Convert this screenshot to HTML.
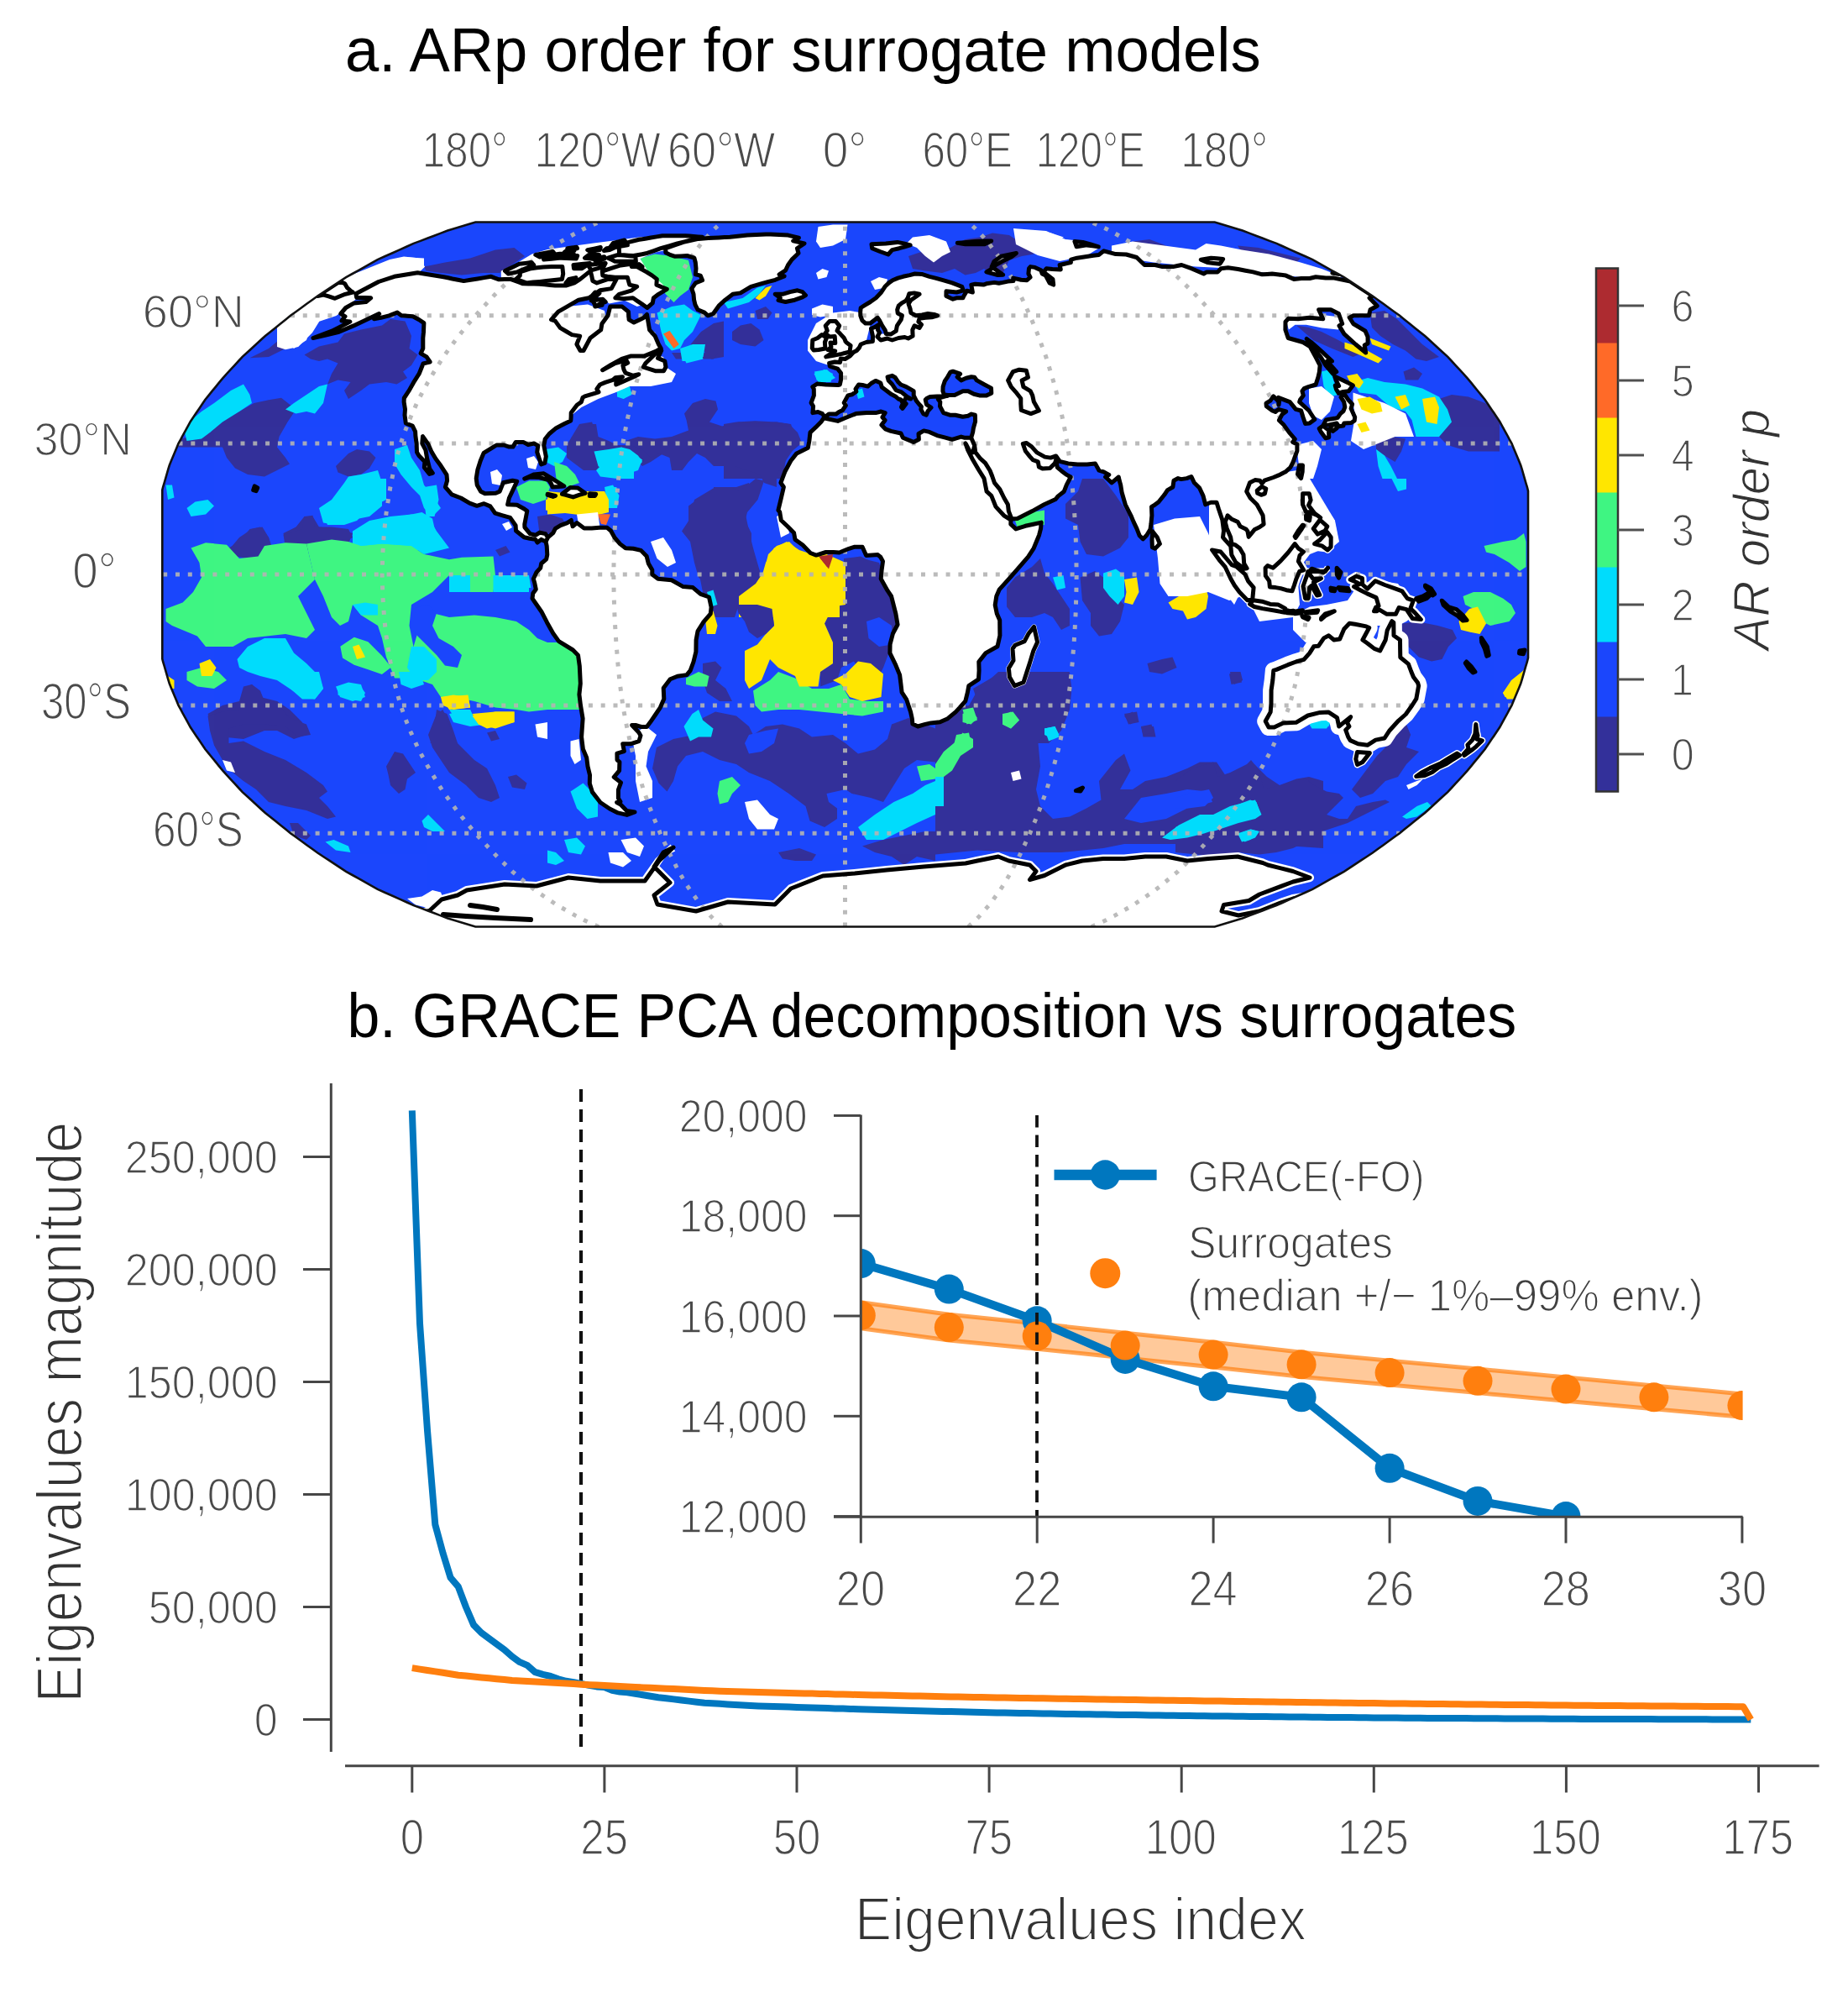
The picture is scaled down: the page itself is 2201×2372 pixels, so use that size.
<!DOCTYPE html>
<html><head><meta charset="utf-8"><style>
html,body{margin:0;padding:0;background:#fff;}
svg{display:block;}
text{font-family:'Liberation Sans',Arial,sans-serif;}
</style></head><body>
<svg width="2201" height="2372" viewBox="0 0 2201 2372">
<rect width="2201" height="2372" fill="#fff"/>
<defs><clipPath id="mapclip"><path d="M559.7,266.5 L553.1,268.5 L546.5,270.5 L539.9,272.5 L533.2,274.5 L525.1,277.6 L517.0,280.7 L508.9,283.8 L500.8,286.9 L492.6,289.9 L484.1,293.8 L475.5,297.6 L466.9,301.5 L458.3,305.3 L449.7,309.1 L442.2,313.4 L434.7,317.6 L427.2,321.8 L419.7,326.0 L412.2,330.2 L405.4,334.6 L398.6,339.1 L391.8,343.6 L385.0,348.0 L378.2,352.5 L371.7,357.2 L365.3,361.8 L358.9,366.5 L352.4,371.2 L346.0,375.8 L340.0,380.7 L334.0,385.5 L327.9,390.4 L321.9,395.2 L315.9,400.1 L310.4,405.0 L305.0,410.0 L299.6,415.0 L294.1,420.0 L288.7,424.9 L284.0,430.0 L279.3,435.1 L274.6,440.2 L270.0,445.2 L265.3,450.3 L261.1,455.4 L256.9,460.6 L252.7,465.7 L248.5,470.9 L244.3,476.0 L240.8,481.2 L237.3,486.4 L233.8,491.6 L230.3,496.8 L226.8,501.9 L224.0,507.1 L221.1,512.3 L218.2,517.5 L215.4,522.8 L212.5,528.0 L210.4,533.2 L208.2,538.4 L206.1,543.6 L203.9,548.8 L201.8,554.0 L200.2,559.2 L198.7,564.4 L197.2,569.6 L195.7,574.8 L194.1,580.0 L193.3,583.4 L193.3,784.6 L194.1,788.0 L195.7,793.2 L197.2,798.4 L198.7,803.6 L200.2,808.8 L201.8,814.0 L203.9,819.2 L206.1,824.4 L208.2,829.6 L210.4,834.8 L212.5,840.0 L215.4,845.2 L218.2,850.5 L221.1,855.7 L224.0,860.9 L226.8,866.1 L230.3,871.2 L233.8,876.4 L237.3,881.6 L240.8,886.8 L244.3,892.0 L248.5,897.1 L252.7,902.3 L256.9,907.4 L261.1,912.6 L265.3,917.7 L270.0,922.8 L274.6,927.8 L279.3,932.9 L284.0,938.0 L288.7,943.1 L294.1,948.0 L299.6,953.0 L305.0,958.0 L310.4,963.0 L315.9,967.9 L321.9,972.8 L327.9,977.6 L334.0,982.5 L340.0,987.3 L346.0,992.2 L352.4,996.8 L358.9,1001.5 L365.3,1006.2 L371.7,1010.8 L378.2,1015.5 L385.0,1020.0 L391.8,1024.4 L398.6,1028.9 L405.4,1033.4 L412.2,1037.8 L419.7,1042.0 L427.2,1046.2 L434.7,1050.4 L442.2,1054.6 L449.7,1058.9 L458.3,1062.7 L466.9,1066.5 L475.5,1070.4 L484.1,1074.2 L492.6,1078.1 L500.8,1081.1 L508.9,1084.2 L517.0,1087.3 L525.1,1090.4 L533.2,1093.5 L539.9,1095.5 L546.5,1097.5 L553.1,1099.5 L559.7,1101.5 L566.3,1103.5 L1446.7,1103.5 L1453.3,1101.5 L1459.9,1099.5 L1466.5,1097.5 L1473.1,1095.5 L1479.8,1093.5 L1487.9,1090.4 L1496.0,1087.3 L1504.1,1084.2 L1512.2,1081.1 L1520.4,1078.1 L1528.9,1074.2 L1537.5,1070.4 L1546.1,1066.5 L1554.7,1062.7 L1563.3,1058.9 L1570.8,1054.6 L1578.3,1050.4 L1585.8,1046.2 L1593.3,1042.0 L1600.8,1037.8 L1607.6,1033.4 L1614.4,1028.9 L1621.2,1024.4 L1628.0,1020.0 L1634.8,1015.5 L1641.3,1010.8 L1647.7,1006.2 L1654.1,1001.5 L1660.6,996.8 L1667.0,992.2 L1673.0,987.3 L1679.0,982.5 L1685.1,977.6 L1691.1,972.8 L1697.1,967.9 L1702.6,963.0 L1708.0,958.0 L1713.4,953.0 L1718.9,948.0 L1724.3,943.1 L1729.0,938.0 L1733.7,932.9 L1738.4,927.8 L1743.0,922.8 L1747.7,917.7 L1751.9,912.6 L1756.1,907.4 L1760.3,902.3 L1764.5,897.1 L1768.7,892.0 L1772.2,886.8 L1775.7,881.6 L1779.2,876.4 L1782.7,871.2 L1786.2,866.1 L1789.0,860.9 L1791.9,855.7 L1794.8,850.5 L1797.6,845.2 L1800.5,840.0 L1802.6,834.8 L1804.8,829.6 L1806.9,824.4 L1809.1,819.2 L1811.2,814.0 L1812.8,808.8 L1814.3,803.6 L1815.8,798.4 L1817.3,793.2 L1818.9,788.0 L1820.0,783.4 L1820.0,584.6 L1818.9,580.0 L1817.3,574.8 L1815.8,569.6 L1814.3,564.4 L1812.8,559.2 L1811.2,554.0 L1809.1,548.8 L1806.9,543.6 L1804.8,538.4 L1802.6,533.2 L1800.5,528.0 L1797.6,522.8 L1794.8,517.5 L1791.9,512.3 L1789.0,507.1 L1786.2,501.9 L1782.7,496.8 L1779.2,491.6 L1775.7,486.4 L1772.2,481.2 L1768.7,476.0 L1764.5,470.9 L1760.3,465.7 L1756.1,460.6 L1751.9,455.4 L1747.7,450.3 L1743.0,445.2 L1738.4,440.2 L1733.7,435.1 L1729.0,430.0 L1724.3,424.9 L1718.9,420.0 L1713.4,415.0 L1708.0,410.0 L1702.6,405.0 L1697.1,400.1 L1691.1,395.2 L1685.1,390.4 L1679.0,385.5 L1673.0,380.7 L1667.0,375.8 L1660.6,371.2 L1654.1,366.5 L1647.7,361.8 L1641.3,357.2 L1634.8,352.5 L1628.0,348.0 L1621.2,343.6 L1614.4,339.1 L1607.6,334.6 L1600.8,330.2 L1593.3,326.0 L1585.8,321.8 L1578.3,317.6 L1570.8,313.4 L1563.3,309.1 L1554.7,305.3 L1546.1,301.5 L1537.5,297.6 L1528.9,293.8 L1520.4,289.9 L1512.2,286.9 L1504.1,283.8 L1496.0,280.7 L1487.9,277.6 L1479.8,274.5 L1473.1,272.5 L1466.5,270.5 L1459.9,268.5 L1453.3,266.5 L1446.7,264.5 L566.3,264.5 L559.7,266.5Z"/></clipPath></defs>
<g clip-path="url(#mapclip)">
<rect x="150" y="250" width="1700" height="870" fill="#1b46fc"/>
<path d="M362.5,422.5 L380.0,412.5 L402.5,407.5 L410.0,397.5 L430.0,392.5 L455.0,387.5 L465.0,380.0 L482.5,382.5 L490.0,400.0 L487.5,415.0 L497.5,422.5 L490.0,435.0 L480.0,442.5 L485.0,450.0 L472.5,457.5 L460.0,455.0 L440.0,457.5 L430.0,465.0 L415.0,475.0 L410.0,465.0 L417.5,455.0 L402.5,452.5 L390.0,457.5 L395.0,445.0 L402.5,432.5 L390.0,427.5 L380.0,430.0 L370.0,427.5Z" fill="#33309a"/>
<path d="M297.5,426.2 L320.0,415.0 L335.0,402.5 L345.0,395.0 L352.5,405.0 L340.0,415.0 L320.0,425.0Z" fill="#33309a"/>
<path d="M250.0,515.0 L265.0,500.0 L285.0,490.0 L302.5,480.0 L320.0,476.2 L335.0,473.8 L352.5,487.5 L342.5,502.5 L332.5,520.0 L330.0,532.5 L340.0,545.0 L345.0,552.5 L330.0,560.0 L315.0,567.5 L295.0,565.0 L280.0,557.5 L270.0,545.0 L265.0,532.5 L247.5,532.5 L212.5,532.5 L215.0,522.5 L232.5,518.8Z" fill="#33309a"/>
<path d="M400.0,555.0 L415.0,540.0 L425.0,535.0 L440.0,537.5 L447.5,545.0 L440.0,557.5 L430.0,565.0 L415.0,567.5 L402.5,562.5Z" fill="#33309a"/>
<path d="M337.5,635.0 L352.5,627.5 L362.5,615.0 L372.5,615.0 L380.0,627.5 L402.5,630.0 L420.0,635.0 L415.0,647.5 L390.0,655.0 L340.0,655.0Z" fill="#33309a"/>
<path d="M272.5,655.0 L285.0,640.0 L300.0,630.0 L312.5,627.5 L320.0,640.0 L325.0,655.0Z" fill="#33309a"/>
<path d="M505.0,317.5 L530.0,312.5 L560.0,307.5 L590.0,297.5 L612.5,295.0 L625.0,305.0 L595.0,325.0 L575.0,325.0 L550.0,327.5 L525.0,325.0 L507.5,322.5Z" fill="#33309a"/>
<path d="M822.5,410.0 L835.0,395.0 L850.0,385.0 L862.0,382.5 L862.0,425.0 L847.5,427.5 L837.5,417.5Z" fill="#33309a"/>
<path d="M680.0,522.5 L690.0,510.0 L700.0,505.0 L710.0,505.0 L712.5,520.0 L725.0,525.0 L735.0,530.0 L755.0,530.0 L770.0,525.0 L790.0,525.0 L790.0,540.0 L775.0,550.0 L765.0,555.0 L755.0,545.0 L740.0,555.0 L725.0,550.0 L710.0,540.0 L690.0,540.0Z" fill="#33309a"/>
<path d="M1082.0,305.0 L1097.0,300.0 L1112.0,297.5 L1132.0,295.0 L1149.5,285.0 L1167.0,282.5 L1182.0,277.5 L1202.0,280.0 L1217.0,290.0 L1232.0,302.5 L1217.0,305.0 L1202.0,310.0 L1194.5,325.0 L1182.0,327.5 L1172.0,320.0 L1162.0,325.0 L1149.5,327.5 L1137.0,320.0 L1122.0,325.0 L1102.0,322.5 L1087.0,320.0Z" fill="#33309a"/>
<path d="M872.0,395.0 L882.0,387.5 L894.5,385.0 L904.5,392.5 L909.5,405.0 L899.5,412.5 L882.0,410.0 L872.0,405.0Z" fill="#33309a"/>
<path d="M899.5,370.0 L912.0,365.0 L919.5,372.5 L914.5,380.0 L902.0,380.0Z" fill="#33309a"/>
<path d="M862.0,505.0 L877.0,502.5 L899.5,501.2 L924.5,502.5 L942.0,505.0 L947.0,520.0 L952.0,530.0 L937.0,542.5 L932.0,570.0 L862.0,570.0Z" fill="#33309a"/>
<path d="M1349.0,287.5 L1369.0,285.0 L1389.0,292.5 L1374.0,302.5 L1354.0,297.5Z" fill="#33309a"/>
<path d="M1474.0,292.5 L1499.0,295.0 L1549.0,307.5 L1544.0,312.5 L1511.5,305.0 L1479.0,300.0Z" fill="#33309a"/>
<path d="M1544.0,387.5 L1559.0,390.0 L1574.0,395.0 L1594.0,405.0 L1611.5,415.0 L1624.0,420.0 L1611.5,425.0 L1586.5,415.0 L1564.0,405.0Z" fill="#33309a"/>
<path d="M1631.5,372.5 L1649.0,370.0 L1664.0,380.0 L1679.0,395.0 L1694.0,410.0 L1714.0,425.0 L1699.0,430.0 L1686.5,427.5 L1674.0,417.5 L1659.0,410.0 L1644.0,400.0 L1634.0,390.0Z" fill="#33309a"/>
<path d="M1714.0,475.0 L1729.0,470.0 L1749.0,472.5 L1769.0,480.0 L1786.0,495.0 L1786.0,537.5 L1749.0,537.5 L1724.0,530.0 L1714.0,520.0 L1724.0,505.0 L1719.0,487.5Z" fill="#33309a"/>
<path d="M1671.5,442.5 L1684.0,437.5 L1694.0,445.0 L1689.0,452.5 L1674.0,452.5Z" fill="#33309a"/>
<path d="M1639.0,525.0 L1659.0,520.0 L1674.0,522.5 L1669.0,537.5 L1661.5,550.0 L1649.0,542.5 L1639.0,535.0Z" fill="#33309a"/>
<path d="M272.5,652.5 L285.0,645.0 L297.5,630.0 L310.0,627.5 L320.0,640.0 L325.0,660.0 L310.0,662.5 L295.0,665.0 L280.0,662.5Z" fill="#33309a"/>
<path d="M337.5,637.5 L360.0,630.0 L362.5,615.0 L372.5,613.8 L375.0,627.5 L395.0,627.5 L415.0,630.0 L420.0,640.0 L410.0,645.0 L390.0,642.5 L365.0,645.0 L340.0,645.0Z" fill="#33309a"/>
<path d="M590.0,655.0 L602.5,650.0 L607.5,657.5 L595.0,662.5Z" fill="#33309a"/>
<path d="M247.5,850.0 L265.0,840.0 L285.0,835.0 L290.0,817.5 L300.0,815.0 L310.0,830.0 L330.0,835.0 L345.0,845.0 L360.0,860.0 L365.0,875.0 L350.0,880.0 L330.0,870.0 L315.0,870.0 L290.0,880.0 L265.0,877.5 L252.5,865.0Z" fill="#33309a"/>
<path d="M512.5,885.0 L517.5,865.0 L520.0,845.0 L532.5,850.0 L540.0,870.0 L545.0,885.0Z" fill="#33309a"/>
<path d="M812.0,632.5 L822.0,617.5 L827.0,595.0 L852.0,580.0 L877.0,580.0 L892.0,575.0 L897.0,595.0 L887.0,607.5 L892.0,632.5 L897.0,652.5 L902.0,670.0 L907.0,687.5 L897.0,700.0 L887.0,710.0 L877.0,725.0 L867.0,710.0 L847.0,700.0 L832.0,687.5 L827.0,670.0 L822.0,645.0Z" fill="#33309a"/>
<path d="M1007.0,670.0 L1027.0,665.0 L1047.0,670.0 L1052.0,687.5 L1062.0,710.0 L1067.0,745.0 L1059.5,775.0 L1052.0,795.0 L1047.0,805.0 L1022.0,795.0 L1017.0,787.5 L1002.0,795.0 L997.0,810.0 L977.0,817.5 L977.0,800.0 L992.0,790.0 L992.0,765.0 L982.0,742.5 L992.0,722.5 L1007.0,720.0Z" fill="#33309a"/>
<path d="M837.0,790.0 L852.0,787.5 L859.5,795.0 L852.0,810.0 L864.5,820.0 L872.0,835.0 L857.0,835.0 L842.0,825.0 L837.0,810.0Z" fill="#33309a"/>
<path d="M1269.0,600.0 L1284.0,585.0 L1289.0,570.0 L1314.0,570.0 L1329.0,590.0 L1344.0,612.5 L1344.0,640.0 L1334.0,652.5 L1314.0,662.5 L1294.0,660.0 L1286.5,645.0 L1284.0,625.0 L1269.0,617.5Z" fill="#33309a"/>
<path d="M1199.0,700.0 L1209.0,687.5 L1229.0,675.0 L1239.0,665.0 L1244.0,682.5 L1254.0,695.0 L1264.0,710.0 L1274.0,725.0 L1274.0,745.0 L1264.0,750.0 L1254.0,735.0 L1244.0,730.0 L1229.0,735.0 L1209.0,735.0 L1199.0,722.5Z" fill="#33309a"/>
<path d="M1286.5,687.5 L1304.0,680.0 L1314.0,687.5 L1324.0,705.0 L1339.0,720.0 L1334.0,740.0 L1324.0,755.0 L1309.0,757.5 L1299.0,745.0 L1299.0,730.0 L1289.0,715.0Z" fill="#33309a"/>
<path d="M1159.0,820.0 L1189.0,802.5 L1214.0,802.5 L1229.0,810.0 L1249.0,805.0 L1274.0,802.5 L1276.5,820.0 L1274.0,845.0 L1264.0,870.0 L1249.0,885.0 L1139.0,885.0 L1144.0,865.0 L1154.0,845.0 L1164.0,835.0Z" fill="#33309a"/>
<path d="M1366.5,790.0 L1384.0,785.0 L1396.5,782.5 L1401.5,795.0 L1384.0,802.5 L1369.0,800.0Z" fill="#33309a"/>
<path d="M1464.0,802.5 L1476.5,800.0 L1479.0,812.5 L1466.5,815.0Z" fill="#33309a"/>
<path d="M1339.0,850.0 L1354.0,847.5 L1356.5,860.0 L1344.0,862.5Z" fill="#33309a"/>
<path d="M1359.0,865.0 L1374.0,865.0 L1376.5,877.5 L1361.5,877.5Z" fill="#33309a"/>
<path d="M1670.0,742.5 L1687.5,740.0 L1712.5,745.0 L1730.0,750.0 L1735.0,760.0 L1725.0,770.0 L1717.5,785.0 L1705.0,787.5 L1690.0,782.5 L1677.5,770.0 L1670.0,755.0Z" fill="#33309a"/>
<path d="M1465.0,805.0 L1475.0,800.0 L1480.0,810.0 L1470.0,815.0Z" fill="#33309a"/>
<path d="M1662.5,870.0 L1675.0,862.5 L1680.0,875.0 L1670.0,885.0 L1660.0,885.0Z" fill="#33309a"/>
<path d="M247.5,852.5 L265.0,847.5 L285.0,845.0 L290.0,820.0 L300.0,815.0 L310.0,822.5 L315.0,835.0 L330.0,837.5 L345.0,855.0 L365.0,862.5 L370.0,875.0 L355.0,877.5 L340.0,865.0 L315.0,862.5 L290.0,862.5 L272.5,867.5 L272.5,885.0 L290.0,882.5 L315.0,895.0 L340.0,905.0 L365.0,920.0 L385.0,935.0 L390.0,942.5 L380.0,950.0 L390.0,960.0 L400.0,972.5 L390.0,975.0 L365.0,965.0 L340.0,960.0 L320.0,955.0 L305.0,940.0 L290.0,930.0 L277.5,920.0 L265.0,905.0 L255.0,887.5 L250.0,870.0Z" fill="#33309a"/>
<path d="M460.0,912.5 L470.0,895.0 L480.0,897.5 L490.0,912.5 L495.0,920.0 L485.0,927.5 L482.5,940.0 L475.0,945.0 L465.0,935.0 L462.5,922.5Z" fill="#33309a"/>
<path d="M510.0,875.0 L520.0,850.0 L527.5,845.0 L535.0,862.5 L540.0,880.0 L555.0,895.0 L565.0,905.0 L580.0,915.0 L590.0,935.0 L595.0,950.0 L585.0,955.0 L570.0,950.0 L555.0,935.0 L535.0,920.0 L525.0,905.0 L515.0,890.0Z" fill="#33309a"/>
<path d="M605.0,925.0 L615.0,922.5 L627.5,932.5 L625.0,940.0 L610.0,937.5Z" fill="#33309a"/>
<path d="M580.0,872.5 L590.0,870.0 L595.0,880.0 L585.0,882.5Z" fill="#33309a"/>
<path d="M345.0,980.0 L355.0,980.0 L370.0,995.0 L365.0,1000.0 L350.0,995.0Z" fill="#33309a"/>
<path d="M782.0,890.0 L802.0,880.0 L827.0,875.0 L837.0,855.0 L852.0,847.5 L877.0,852.5 L892.0,865.0 L897.0,875.0 L912.0,865.0 L932.0,862.5 L952.0,867.5 L967.0,877.5 L992.0,875.0 L1007.0,885.0 L1022.0,897.5 L1042.0,892.5 L1057.0,880.0 L1062.0,862.5 L1082.0,855.0 L1102.0,862.5 L1114.0,867.5 L1114.0,907.5 L1092.0,905.0 L1077.0,915.0 L1064.5,935.0 L1052.0,955.0 L1037.0,950.0 L1014.5,945.0 L997.0,950.0 L997.0,975.0 L982.0,985.0 L964.5,977.5 L959.5,960.0 L939.5,945.0 L917.0,930.0 L892.0,920.0 L877.0,910.0 L857.0,905.0 L837.0,895.0 L817.0,900.0 L807.0,912.5 L802.0,930.0 L794.5,942.5 L784.5,932.5 L777.0,915.0Z" fill="#33309a"/>
<path d="M1027.0,1007.5 L1052.0,1000.0 L1077.0,995.0 L1102.0,990.0 L1114.0,990.0 L1114.0,1025.0 L1092.0,1020.0 L1077.0,1030.0 L1062.0,1020.0 L1042.0,1015.0Z" fill="#33309a"/>
<path d="M927.0,1015.0 L952.0,1010.0 L972.0,1017.5 L967.0,1025.0 L947.0,1025.0 L932.0,1022.5Z" fill="#33309a"/>
<path d="M1114.0,845.0 L1154.0,840.0 L1164.0,822.5 L1189.0,800.0 L1274.0,800.0 L1274.0,842.5 L1264.0,865.0 L1244.0,872.5 L1236.5,885.0 L1239.0,912.5 L1234.0,940.0 L1239.0,960.0 L1254.0,975.0 L1274.0,972.5 L1294.0,962.5 L1311.5,952.5 L1309.0,930.0 L1329.0,905.0 L1339.0,897.5 L1346.5,917.5 L1334.0,940.0 L1349.0,940.0 L1364.0,930.0 L1389.0,925.0 L1414.0,915.0 L1429.0,907.5 L1449.0,907.5 L1459.0,922.5 L1479.0,917.5 L1494.0,910.0 L1509.0,925.0 L1524.0,935.0 L1544.0,927.5 L1559.0,925.0 L1576.0,930.0 L1576.0,1010.0 L1539.0,1007.5 L1489.0,1005.0 L1439.0,1005.0 L1389.0,1005.0 L1339.0,1005.0 L1314.0,1010.0 L1264.0,1015.0 L1214.0,1015.0 L1164.0,1012.5 L1114.0,1017.5Z" fill="#33309a"/>
<path d="M1339.0,852.5 L1349.0,847.5 L1354.0,857.5 L1346.5,862.5Z" fill="#33309a"/>
<path d="M1359.0,865.0 L1371.5,862.5 L1374.0,872.5 L1361.5,875.0Z" fill="#33309a"/>
<path d="M1466.5,802.5 L1476.5,800.0 L1479.0,810.0 L1469.0,812.5Z" fill="#33309a"/>
<path d="M1610.0,940.0 L1625.0,920.0 L1640.0,900.0 L1660.0,880.0 L1675.0,865.0 L1680.0,875.0 L1675.0,890.0 L1690.0,895.0 L1675.0,910.0 L1665.0,925.0 L1650.0,930.0 L1635.0,945.0 L1620.0,950.0Z" fill="#33309a"/>
<path d="M1400.0,930.0 L1420.0,915.0 L1445.0,907.5 L1450.0,925.0 L1465.0,920.0 L1485.0,910.0 L1490.0,905.0 L1500.0,917.5 L1505.0,940.0 L1525.0,935.0 L1540.0,930.0 L1555.0,927.5 L1565.0,935.0 L1580.0,942.5 L1595.0,945.0 L1600.0,950.0 L1590.0,960.0 L1580.0,970.0 L1595.0,975.0 L1605.0,975.0 L1615.0,960.0 L1635.0,955.0 L1650.0,952.5 L1655.0,955.0 L1625.0,970.0 L1605.0,980.0 L1590.0,985.0 L1575.0,990.0 L1560.0,1000.0 L1540.0,1010.0 L1520.0,1015.0 L1500.0,1017.5 L1475.0,1015.0 L1450.0,1020.0 L1425.0,1017.5 L1400.0,1015.0Z" fill="#33309a"/>
<path d="M1465.0,800.0 L1477.5,800.0 L1480.0,810.0 L1467.5,812.5Z" fill="#33309a"/>
<path d="M815.0,492.5 L825.0,480.0 L840.0,475.0 L852.5,477.5 L855.0,487.5 L845.0,502.5 L860.0,507.5 L880.0,502.5 L900.0,505.0 L925.0,502.5 L940.0,505.0 L950.0,515.0 L955.0,527.5 L945.0,535.0 L935.0,550.0 L925.0,565.0 L925.0,580.0 L910.0,575.0 L905.0,565.0 L890.0,560.0 L875.0,555.0 L850.0,555.0 L840.0,545.0 L830.0,540.0 L820.0,550.0 L812.5,560.0 L800.0,560.0 L797.5,545.0 L785.0,540.0 L775.0,545.0 L765.0,535.0 L750.0,530.0 L745.0,525.0 L760.0,520.0 L780.0,522.5 L800.0,520.0 L820.0,512.5 L817.5,500.0Z" fill="#33309a"/>
<path d="M820.0,602.5 L830.0,595.0 L850.0,585.0 L850.0,580.0 L870.0,580.0 L880.0,585.0 L887.5,580.0 L900.0,570.0 L910.0,572.5 L902.5,595.0 L890.0,610.0 L887.5,620.0 L895.0,635.0 L895.0,660.0 L905.0,680.0 L900.0,695.0 L890.0,707.5 L880.0,720.0 L875.0,735.0 L850.0,735.0 L840.0,720.0 L835.0,695.0 L830.0,670.0 L825.0,645.0 L817.5,635.0 L820.0,620.0Z" fill="#33309a"/>
<path d="M675.0,530.0 L690.0,505.0 L705.0,502.5 L710.0,515.0 L710.0,530.0 L725.0,540.0 L740.0,540.0 L740.0,550.0 L725.0,555.0 L710.0,560.0 L695.0,560.0 L685.0,552.5 L675.0,545.0Z" fill="#33309a"/>
<path d="M640.0,615.0 L655.0,612.5 L670.0,617.5 L675.0,627.5 L660.0,635.0 L642.5,635.0Z" fill="#33309a"/>
<path d="M1005.0,665.0 L1025.0,662.5 L1040.0,670.0 L1050.0,690.0 L1062.0,707.5 L1062.0,735.0 L1010.0,735.0 L1005.0,707.5Z" fill="#33309a"/>
<path d="M800.0,420.0 L855.0,420.0 L850.0,427.5 L805.0,427.5Z" fill="#33309a"/>
<path d="M1032.0,740.0 L1047.0,735.0 L1062.0,745.0 L1062.0,767.5 L1047.0,770.0 L1034.5,760.0Z" fill="#1b46fc"/>
<path d="M892.0,875.0 L912.0,870.0 L927.0,867.5 L922.0,885.0 L907.0,895.0 L892.0,897.5 L887.0,885.0Z" fill="#1b46fc"/>
<path d="M984.5,945.0 L1007.0,940.0 L1022.0,950.0 L1012.0,960.0 L997.0,962.5 L987.0,955.0Z" fill="#1b46fc"/>
<path d="M1339.0,975.0 L1359.0,950.0 L1389.0,945.0 L1414.0,940.0 L1439.0,942.5 L1444.0,955.0 L1414.0,962.5 L1389.0,975.0 L1359.0,980.0Z" fill="#1b46fc"/>
<path d="M1400.0,950.0 L1415.0,945.0 L1440.0,940.0 L1445.0,950.0 L1435.0,960.0 L1415.0,962.5 L1400.0,962.5Z" fill="#1b46fc"/>
<path d="M225.0,502.5 L240.0,490.0 L255.0,480.0 L275.0,465.0 L290.0,457.5 L297.5,470.0 L300.0,480.0 L285.0,490.0 L265.0,502.5 L250.0,515.0 L240.0,522.5 L222.5,525.0 L220.0,515.0Z" fill="#00dcfc"/>
<path d="M340.0,487.5 L350.0,480.0 L365.0,470.0 L380.0,460.0 L390.0,457.5 L385.0,480.0 L375.0,492.5 L365.0,490.0 L352.5,492.5Z" fill="#00dcfc"/>
<path d="M380.0,605.0 L395.0,595.0 L410.0,575.0 L415.0,567.5 L430.0,565.0 L450.0,560.0 L455.0,575.0 L455.0,602.5 L440.0,615.0 L415.0,620.0 L400.0,625.0 L385.0,622.5Z" fill="#00dcfc"/>
<path d="M470.0,535.0 L485.0,530.0 L490.0,545.0 L500.0,560.0 L505.0,577.5 L515.0,590.0 L525.0,605.0 L515.0,615.0 L505.0,605.0 L500.0,590.0 L490.0,580.0 L477.5,565.0 L470.0,552.5Z" fill="#00dcfc"/>
<path d="M420.0,635.0 L440.0,625.0 L455.0,617.5 L477.5,615.0 L502.5,610.0 L515.0,617.5 L520.0,640.0 L520.0,655.0 L420.0,655.0Z" fill="#00dcfc"/>
<path d="M222.5,605.0 L232.5,597.5 L247.5,595.0 L255.0,602.5 L245.0,612.5 L227.5,615.0Z" fill="#00dcfc"/>
<path d="M197.5,577.5 L205.0,577.5 L207.5,592.5 L200.0,595.0Z" fill="#00dcfc"/>
<path d="M762.5,307.5 L780.0,302.5 L800.0,305.0 L820.0,310.0 L825.0,330.0 L820.0,345.0 L810.0,352.5 L802.5,360.0 L792.5,350.0 L785.0,337.5 L770.0,325.0Z" fill="#3ff582"/>
<path d="M782.5,372.5 L800.0,365.0 L815.0,362.5 L825.0,370.0 L835.0,375.0 L825.0,395.0 L815.0,405.0 L810.0,415.0 L800.0,417.5 L792.5,410.0 L787.5,395.0Z" fill="#00dcfc"/>
<path d="M810.0,415.0 L825.0,410.0 L840.0,410.0 L837.5,425.0 L822.5,430.0 L812.5,430.0Z" fill="#00dcfc"/>
<path d="M707.5,537.5 L725.0,535.0 L740.0,532.5 L755.0,540.0 L765.0,547.5 L760.0,560.0 L745.0,565.0 L725.0,565.0 L712.5,555.0Z" fill="#00dcfc"/>
<path d="M732.5,465.0 L745.0,460.0 L752.5,467.5 L742.5,475.0Z" fill="#00dcfc"/>
<path d="M862.0,360.0 L884.5,355.0 L902.0,342.5 L912.0,340.0 L904.5,350.0 L892.0,360.0 L867.0,367.5Z" fill="#00dcfc"/>
<path d="M969.5,445.0 L982.0,440.0 L992.0,445.0 L989.5,455.0 L974.5,455.0Z" fill="#00dcfc"/>
<path d="M1132.0,452.5 L1139.5,450.0 L1147.0,460.0 L1137.0,462.5Z" fill="#00dcfc"/>
<path d="M1019.5,465.0 L1027.0,462.5 L1029.5,472.5 L1022.0,475.0Z" fill="#00dcfc"/>
<path d="M1574.0,442.5 L1584.0,440.0 L1589.0,455.0 L1594.0,470.0 L1584.0,472.5 L1576.5,460.0Z" fill="#00dcfc"/>
<path d="M1611.5,455.0 L1629.0,450.0 L1649.0,455.0 L1674.0,457.5 L1694.0,462.5 L1714.0,472.5 L1724.0,487.5 L1729.0,502.5 L1714.0,520.0 L1686.5,520.0 L1681.5,500.0 L1674.0,490.0 L1656.5,485.0 L1639.0,470.0 L1619.0,467.5Z" fill="#00dcfc"/>
<path d="M1639.0,535.0 L1649.0,542.5 L1656.5,555.0 L1664.0,570.0 L1646.5,570.0 L1641.5,555.0Z" fill="#00dcfc"/>
<path d="M197.5,725.0 L217.5,717.5 L230.0,705.0 L240.0,687.5 L237.5,670.0 L227.5,652.5 L245.0,646.2 L270.0,648.8 L285.0,665.0 L307.5,662.5 L315.0,650.0 L340.0,646.2 L365.0,647.5 L375.0,690.0 L365.0,700.0 L355.0,710.0 L365.0,730.0 L375.0,750.0 L365.0,760.0 L340.0,755.0 L295.0,760.0 L277.5,770.0 L245.0,770.0 L235.0,757.5 L205.0,745.0 L197.5,740.0Z" fill="#3ff582"/>
<path d="M365.0,647.5 L395.0,642.5 L415.0,645.0 L430.0,650.0 L455.0,647.5 L490.0,650.0 L505.0,660.0 L535.0,666.2 L535.0,685.0 L515.0,705.0 L490.0,720.0 L487.5,745.0 L492.5,770.0 L490.0,807.5 L470.0,807.5 L460.0,782.5 L455.0,760.0 L450.0,745.0 L430.0,732.5 L420.0,720.0 L415.0,740.0 L405.0,745.0 L395.0,735.0 L385.0,710.0 L375.0,690.0Z" fill="#3ff582"/>
<path d="M420.0,720.0 L435.0,717.5 L450.0,720.0 L450.0,732.5 L430.0,732.5Z" fill="#00dcfc"/>
<path d="M535.0,666.2 L550.0,663.8 L587.5,662.5 L590.0,685.0 L587.5,705.0 L560.0,705.0 L557.5,685.0 L535.0,685.0Z" fill="#3ff582"/>
<path d="M535.0,685.0 L560.0,685.0 L560.0,705.0 L535.0,705.0Z" fill="#00dcfc"/>
<path d="M587.5,685.0 L630.0,685.0 L630.0,705.0 L587.5,705.0Z" fill="#00dcfc"/>
<path d="M515.0,730.0 L535.0,735.0 L565.0,732.5 L590.0,735.0 L615.0,740.0 L630.0,750.0 L640.0,760.0 L652.0,765.0 L690.0,765.0 L690.0,845.0 L652.0,845.0 L630.0,847.5 L615.0,845.0 L590.0,842.5 L565.0,835.0 L540.0,830.0 L525.0,830.0 L515.0,815.0 L500.0,810.0 L490.0,807.5 L492.5,770.0 L500.0,745.0 L515.0,740.0Z" fill="#3ff582"/>
<path d="M490.0,770.0 L505.0,770.0 L520.0,785.0 L520.0,800.0 L510.0,810.0 L495.0,810.0 L485.0,795.0Z" fill="#00dcfc"/>
<path d="M535.0,845.0 L560.0,845.0 L565.0,860.0 L545.0,860.0Z" fill="#00dcfc"/>
<path d="M282.5,785.0 L295.0,770.0 L315.0,760.0 L340.0,760.0 L350.0,777.5 L365.0,790.0 L380.0,805.0 L385.0,820.0 L375.0,832.5 L360.0,830.0 L345.0,820.0 L330.0,810.0 L310.0,805.0 L295.0,800.0 L285.0,795.0Z" fill="#00dcfc"/>
<path d="M400.0,817.5 L415.0,812.5 L430.0,815.0 L435.0,830.0 L420.0,835.0 L405.0,830.0Z" fill="#00dcfc"/>
<path d="M385.0,610.0 L397.5,600.0 L405.0,585.0 L415.0,570.0 L460.0,570.0 L460.0,595.0 L440.0,605.0 L425.0,620.0 L410.0,625.0 L390.0,625.0Z" fill="#00dcfc"/>
<path d="M420.0,632.5 L440.0,620.0 L465.0,615.0 L490.0,612.5 L510.0,615.0 L520.0,632.5 L535.0,652.5 L505.0,660.0 L490.0,650.0 L455.0,647.5 L430.0,650.0 L420.0,645.0Z" fill="#00dcfc"/>
<path d="M505.0,580.0 L520.0,577.5 L522.5,595.0 L517.5,615.0 L507.5,615.0 L505.0,595.0Z" fill="#00dcfc"/>
<path d="M222.5,800.0 L240.0,795.0 L260.0,800.0 L270.0,810.0 L255.0,820.0 L235.0,817.5 L222.5,810.0Z" fill="#3ff582"/>
<path d="M897.0,822.5 L917.0,810.0 L927.0,800.0 L947.0,807.5 L967.0,820.0 L987.0,820.0 L1002.0,815.0 L1012.0,832.5 L1032.0,835.0 L1052.0,835.0 L1052.0,847.5 L1027.0,852.5 L1002.0,850.0 L977.0,847.5 L952.0,845.0 L927.0,845.0 L907.0,847.5 L899.5,840.0Z" fill="#3ff582"/>
<path d="M817.0,807.5 L832.0,800.0 L844.5,805.0 L842.0,817.5 L827.0,817.5 L817.0,815.0Z" fill="#3ff582"/>
<path d="M842.0,705.0 L849.5,702.5 L854.5,720.0 L847.0,722.5Z" fill="#00dcfc"/>
<path d="M722.0,580.0 L734.5,580.0 L732.0,595.0 L724.5,595.0Z" fill="#00dcfc"/>
<path d="M1314.0,682.5 L1329.0,677.5 L1339.0,685.0 L1339.0,710.0 L1331.5,720.0 L1321.5,710.0 L1314.0,700.0Z" fill="#00dcfc"/>
<path d="M1254.0,687.5 L1266.5,685.0 L1269.0,700.0 L1259.0,702.5Z" fill="#00dcfc"/>
<path d="M1209.0,620.0 L1229.0,610.0 L1244.0,607.5 L1244.0,625.0 L1224.0,627.5 L1211.5,627.5Z" fill="#3ff582"/>
<path d="M1146.5,845.0 L1159.0,842.5 L1164.0,857.5 L1151.5,862.5Z" fill="#3ff582"/>
<path d="M1194.0,852.5 L1204.0,847.5 L1214.0,857.5 L1204.0,867.5 L1194.0,862.5Z" fill="#3ff582"/>
<path d="M1139.0,875.0 L1154.0,872.5 L1156.5,885.0 L1136.5,885.0Z" fill="#3ff582"/>
<path d="M1244.0,867.5 L1256.5,865.0 L1261.5,877.5 L1249.0,882.5Z" fill="#00dcfc"/>
<path d="M1549.0,732.5 L1564.0,727.5 L1576.0,735.0 L1576.0,757.5 L1559.0,762.5 L1551.5,750.0Z" fill="#00dcfc"/>
<path d="M1767.5,650.0 L1790.0,645.0 L1805.0,642.5 L1815.0,635.0 L1817.5,645.0 L1817.5,675.0 L1810.0,680.0 L1797.5,670.0 L1780.0,660.0 L1770.0,657.5Z" fill="#3ff582"/>
<path d="M1742.5,710.0 L1755.0,705.0 L1775.0,705.0 L1790.0,712.5 L1800.0,720.0 L1805.0,730.0 L1797.5,740.0 L1775.0,745.0 L1765.0,740.0 L1755.0,725.0 L1745.0,720.0Z" fill="#3ff582"/>
<path d="M1657.5,570.0 L1675.0,570.0 L1675.0,582.5 L1665.0,585.0Z" fill="#00dcfc"/>
<path d="M1555.0,855.0 L1575.0,855.0 L1585.0,860.0 L1580.0,867.5 L1562.5,867.5Z" fill="#00dcfc"/>
<path d="M1555.0,742.5 L1570.0,740.0 L1567.5,757.5 L1560.0,760.0Z" fill="#00dcfc"/>
<path d="M502.5,977.5 L510.0,970.0 L520.0,980.0 L530.0,990.0 L515.0,990.0 L505.0,985.0Z" fill="#00dcfc"/>
<path d="M387.5,1002.5 L397.5,1000.0 L415.0,1007.5 L417.5,1015.0 L400.0,1012.5Z" fill="#00dcfc"/>
<path d="M335.0,800.0 L380.0,800.0 L385.0,820.0 L375.0,832.5 L360.0,832.5 L340.0,815.0Z" fill="#00dcfc"/>
<path d="M402.5,820.0 L415.0,815.0 L427.5,815.0 L435.0,825.0 L430.0,835.0 L415.0,832.5 L402.5,827.5Z" fill="#00dcfc"/>
<path d="M475.0,800.0 L500.0,800.0 L505.0,815.0 L490.0,820.0 L477.5,815.0Z" fill="#00dcfc"/>
<path d="M535.0,850.0 L560.0,845.0 L565.0,855.0 L580.0,862.5 L560.0,865.0 L540.0,860.0Z" fill="#00dcfc"/>
<path d="M814.5,865.0 L824.5,850.0 L832.0,845.0 L837.0,857.5 L849.5,867.5 L847.0,877.5 L832.0,877.5 L822.0,882.5Z" fill="#00dcfc"/>
<path d="M857.0,930.0 L872.0,925.0 L882.0,935.0 L872.0,945.0 L867.0,955.0 L857.0,957.5 L854.5,945.0Z" fill="#3ff582"/>
<path d="M1022.0,985.0 L1042.0,970.0 L1064.5,955.0 L1087.0,945.0 L1102.0,935.0 L1114.0,930.0 L1114.0,970.0 L1092.0,980.0 L1072.0,990.0 L1052.0,1000.0 L1032.0,1000.0Z" fill="#00dcfc"/>
<path d="M1092.0,912.5 L1107.0,910.0 L1114.0,915.0 L1114.0,927.5 L1097.0,930.0Z" fill="#3ff582"/>
<path d="M672.0,1000.0 L687.0,997.5 L697.0,1007.5 L692.0,1017.5 L677.0,1015.0Z" fill="#00dcfc"/>
<path d="M652.0,1012.5 L662.0,1015.0 L672.0,1025.0 L662.0,1030.0 L652.0,1027.5Z" fill="#00dcfc"/>
<path d="M679.5,942.5 L694.5,932.5 L702.0,940.0 L712.0,950.0 L712.0,972.5 L699.5,975.0 L687.0,962.5Z" fill="#00dcfc"/>
<path d="M1114.0,920.0 L1124.0,920.0 L1124.0,960.0 L1114.0,960.0Z" fill="#00dcfc"/>
<path d="M1114.0,910.0 L1124.0,895.0 L1139.0,882.5 L1146.5,872.5 L1159.0,880.0 L1159.0,890.0 L1144.0,900.0 L1134.0,917.5 L1124.0,925.0 L1114.0,925.0Z" fill="#3ff582"/>
<path d="M1146.5,850.0 L1156.5,845.0 L1164.0,855.0 L1156.5,862.5 L1146.5,860.0Z" fill="#3ff582"/>
<path d="M1194.0,850.0 L1206.5,847.5 L1214.0,857.5 L1204.0,867.5 L1194.0,862.5Z" fill="#3ff582"/>
<path d="M1384.0,997.5 L1404.0,982.5 L1429.0,970.0 L1446.5,970.0 L1469.0,960.0 L1489.0,952.5 L1496.5,955.0 L1501.5,970.0 L1489.0,975.0 L1476.5,972.5 L1464.0,980.0 L1449.0,987.5 L1434.0,992.5 L1414.0,997.5 L1394.0,1000.0Z" fill="#00dcfc"/>
<path d="M1474.0,992.5 L1489.0,987.5 L1499.0,990.0 L1489.0,1000.0 L1479.0,1002.5Z" fill="#00dcfc"/>
<path d="M1244.0,867.5 L1256.5,865.0 L1261.5,875.0 L1254.0,880.0 L1244.0,875.0Z" fill="#00dcfc"/>
<path d="M1559.0,857.5 L1576.0,855.0 L1576.0,865.0 L1561.5,865.0Z" fill="#00dcfc"/>
<path d="M1400.0,985.0 L1425.0,975.0 L1445.0,970.0 L1465.0,960.0 L1485.0,955.0 L1495.0,952.5 L1502.5,970.0 L1495.0,975.0 L1475.0,980.0 L1460.0,985.0 L1445.0,990.0 L1425.0,990.0 L1410.0,995.0 L1400.0,997.5Z" fill="#00dcfc"/>
<path d="M1475.0,992.5 L1490.0,987.5 L1500.0,990.0 L1495.0,997.5 L1482.5,1002.5Z" fill="#00dcfc"/>
<path d="M1670.0,972.5 L1687.5,960.0 L1700.0,955.0 L1705.0,960.0 L1687.5,972.5 L1675.0,975.0Z" fill="#00dcfc"/>
<path d="M1560.0,860.0 L1575.0,855.0 L1585.0,857.5 L1582.5,865.0 L1565.0,865.0Z" fill="#00dcfc"/>
<path d="M710.0,560.0 L720.0,550.0 L740.0,540.0 L740.0,532.5 L750.0,535.0 L760.0,542.5 L765.0,550.0 L755.0,560.0 L755.0,570.0 L735.0,570.0 L715.0,567.5Z" fill="#00dcfc"/>
<path d="M650.0,535.0 L665.0,532.5 L675.0,540.0 L670.0,550.0 L660.0,555.0 L650.0,550.0Z" fill="#00dcfc"/>
<path d="M720.0,580.0 L730.0,577.5 L737.5,590.0 L735.0,605.0 L725.0,605.0 L722.5,595.0Z" fill="#00dcfc"/>
<path d="M735.0,462.5 L750.0,460.0 L752.5,470.0 L742.5,475.0 L735.0,472.5Z" fill="#00dcfc"/>
<path d="M812.5,422.5 L835.0,420.0 L837.5,427.5 L817.5,432.5Z" fill="#00dcfc"/>
<path d="M970.0,442.5 L985.0,440.0 L995.0,450.0 L985.0,455.0 L972.5,452.5Z" fill="#00dcfc"/>
<path d="M600.0,685.0 L630.0,685.0 L632.5,700.0 L600.0,700.0Z" fill="#00dcfc"/>
<path d="M615.0,580.0 L630.0,572.5 L650.0,572.5 L655.0,580.0 L650.0,595.0 L635.0,600.0 L620.0,595.0Z" fill="#3ff582"/>
<path d="M660.0,550.0 L675.0,555.0 L685.0,565.0 L690.0,575.0 L675.0,580.0 L662.5,570.0Z" fill="#3ff582"/>
<path d="M405.3,769.7 L421.8,758.7 L438.4,764.2 L454.9,780.8 L466.0,794.6 L454.9,802.9 L438.4,797.3 L421.8,791.8 L408.0,783.5Z" fill="#3ff582"/>
<path d="M490.0,725.0 L510.0,720.0 L520.0,730.0 L515.0,745.0 L522.5,760.0 L540.0,770.0 L550.0,780.0 L545.0,795.0 L530.0,792.5 L520.0,780.0 L510.0,770.0 L500.0,760.0 L490.0,750.0Z" fill="#1b46fc"/>
<path d="M1611.5,467.5 L1649.0,480.0 L1674.0,492.5 L1684.0,520.0 L1661.5,520.0 L1636.5,530.0 L1624.0,535.0 L1609.0,525.0 L1614.0,495.0 L1611.5,480.0Z" fill="#ffffff"/>
<path d="M899.5,355.0 L912.0,342.5 L919.5,340.0 L912.0,352.5 L904.5,357.5Z" fill="#ffe600"/>
<path d="M1601.5,407.5 L1624.0,415.0 L1646.5,427.5 L1641.5,432.5 L1619.0,422.5 L1601.5,415.0Z" fill="#ffe600"/>
<path d="M1631.5,402.5 L1656.5,412.5 L1654.0,417.5 L1634.0,410.0Z" fill="#ffe600"/>
<path d="M1604.0,447.5 L1616.5,445.0 L1624.0,455.0 L1619.0,462.5 L1609.0,457.5Z" fill="#ffe600"/>
<path d="M1616.5,475.0 L1631.5,472.5 L1644.0,480.0 L1646.5,490.0 L1634.0,492.5 L1621.5,487.5Z" fill="#ffe600"/>
<path d="M1661.5,472.5 L1674.0,470.0 L1679.0,482.5 L1669.0,487.5Z" fill="#ffe600"/>
<path d="M1694.0,475.0 L1709.0,472.5 L1714.0,485.0 L1711.5,505.0 L1699.0,502.5 L1696.5,490.0Z" fill="#ffe600"/>
<path d="M1616.5,505.0 L1626.5,502.5 L1631.5,512.5 L1621.5,515.0Z" fill="#ffe600"/>
<path d="M237.5,790.0 L250.0,785.0 L257.5,795.0 L252.5,805.0 L240.0,805.0Z" fill="#ffe600"/>
<path d="M420.0,770.0 L427.5,767.5 L435.0,782.5 L425.0,785.0Z" fill="#ffe600"/>
<path d="M525.0,830.0 L540.0,827.5 L557.5,830.0 L560.0,842.5 L540.0,845.0 L527.5,840.0Z" fill="#ffe600"/>
<path d="M562.5,850.0 L590.0,847.5 L612.5,847.5 L612.5,860.0 L590.0,867.5 L570.0,862.5Z" fill="#ffe600"/>
<path d="M200.0,805.0 L207.5,810.0 L207.5,820.0 L201.2,820.0Z" fill="#ffe600"/>
<path d="M882.0,710.0 L897.0,702.5 L907.0,687.5 L912.0,670.0 L922.0,652.5 L937.0,645.0 L952.0,655.0 L967.0,660.0 L984.5,660.0 L1007.0,670.0 L1007.0,720.0 L992.0,722.5 L982.0,742.5 L992.0,765.0 L992.0,790.0 L977.0,800.0 L974.5,817.5 L952.0,817.5 L947.0,805.0 L927.0,795.0 L917.0,785.0 L907.0,810.0 L892.0,820.0 L887.0,810.0 L887.0,775.0 L902.0,767.5 L912.0,755.0 L922.0,745.0 L919.5,725.0 L902.0,720.0 L884.5,720.0Z" fill="#ffe600"/>
<path d="M992.0,810.0 L1007.0,802.5 L1022.0,787.5 L1037.0,790.0 L1052.0,802.5 L1049.5,830.0 L1027.0,835.0 L1012.0,830.0 L1002.0,815.0Z" fill="#ffe600"/>
<path d="M839.5,732.5 L849.5,727.5 L854.5,745.0 L852.0,755.0 L842.0,755.0Z" fill="#ffe600"/>
<path d="M652.0,585.0 L677.0,587.5 L702.0,585.0 L722.0,590.0 L724.5,607.5 L709.5,612.5 L687.0,610.0 L652.0,612.5Z" fill="#ffe600"/>
<path d="M1339.0,690.0 L1354.0,687.5 L1356.5,705.0 L1349.0,720.0 L1339.0,717.5 L1341.5,705.0Z" fill="#ffe600"/>
<path d="M1391.5,717.5 L1404.0,710.0 L1429.0,705.0 L1434.0,692.5 L1439.0,710.0 L1436.5,725.0 L1424.0,735.0 L1414.0,737.5 L1409.0,727.5 L1396.5,725.0Z" fill="#ffe600"/>
<path d="M1737.5,740.0 L1750.0,725.0 L1760.0,722.5 L1765.0,732.5 L1770.0,742.5 L1762.5,755.0 L1750.0,752.5 L1740.0,750.0Z" fill="#ffe600"/>
<path d="M1790.0,825.0 L1800.0,810.0 L1812.5,800.0 L1817.5,795.0 L1815.0,817.5 L1805.0,832.5 L1795.0,832.5Z" fill="#ffe600"/>
<path d="M525.0,830.0 L557.5,827.5 L560.0,842.5 L535.0,845.0Z" fill="#ffe600"/>
<path d="M562.5,852.5 L590.0,847.5 L612.5,847.5 L612.5,860.0 L580.0,867.5 L570.0,862.5Z" fill="#ffe600"/>
<path d="M1790.0,825.0 L1800.0,815.0 L1812.5,800.0 L1815.0,810.0 L1805.0,827.5 L1792.5,830.0Z" fill="#ffe600"/>
<path d="M650.0,595.0 L665.0,590.0 L685.0,585.0 L705.0,585.0 L720.0,585.0 L725.0,595.0 L725.0,610.0 L705.0,615.0 L685.0,612.5 L665.0,610.0 L650.0,607.5Z" fill="#ffe600"/>
<path d="M880.0,710.0 L900.0,695.0 L910.0,680.0 L915.0,660.0 L925.0,650.0 L940.0,645.0 L955.0,660.0 L975.0,660.0 L990.0,667.5 L1000.0,680.0 L1005.0,700.0 L1000.0,720.0 L1000.0,735.0 L880.0,735.0Z" fill="#ffe600"/>
<path d="M877.0,720.0 L902.0,720.0 L919.5,725.0 L922.0,745.0 L912.0,755.0 L902.0,760.0 L892.0,752.5 L887.0,740.0 L879.5,730.0Z" fill="#33309a"/>
<path d="M790.0,397.5 L797.5,393.8 L808.8,410.0 L802.5,415.0Z" fill="#ff6a28"/>
<path d="M712.0,612.5 L727.0,612.5 L722.0,625.0 L715.8,623.8Z" fill="#ff6a28"/>
<path d="M977.0,665.0 L992.0,662.5 L987.0,677.5Z" fill="#ad2b30"/>
<path d="M975.0,662.5 L992.5,660.0 L985.0,675.0Z" fill="#ad2b30"/>
<path d="M710.0,612.5 L725.0,612.5 L720.0,622.5Z" fill="#ff6a28"/>
<path d="M350.0,380.0 L365.0,375.0 L370.0,390.0 L365.0,405.0 L350.0,415.0 L345.0,410.0 L355.0,397.5Z" fill="#ffffff"/>
<path d="M460.0,312.5 L482.5,306.2 L505.0,307.5 L505.0,318.8 L482.5,320.0 L462.5,317.5Z" fill="#ffffff"/>
<path d="M682.5,475.0 L700.0,462.5 L725.0,455.0 L745.0,445.0 L762.5,440.0 L790.0,435.0 L805.0,445.0 L800.0,455.0 L775.0,460.0 L750.0,460.0 L732.5,467.5 L712.5,475.0 L692.5,485.0 L680.0,495.0 L660.0,510.0 L650.0,520.0 L647.5,505.0 L665.0,490.0Z" fill="#ffffff"/>
<path d="M715.0,435.0 L735.0,427.5 L755.0,422.5 L770.0,420.0 L790.0,425.0 L795.0,440.0 L775.0,445.0 L750.0,445.0 L730.0,442.5Z" fill="#ffffff"/>
<path d="M655.0,375.0 L675.0,365.0 L700.0,362.5 L720.0,370.0 L722.5,385.0 L712.5,397.5 L700.0,405.0 L695.0,420.0 L685.0,417.5 L682.5,400.0 L665.0,392.5 L655.0,385.0Z" fill="#ffffff"/>
<path d="M974.5,270.0 L992.0,267.5 L1009.5,267.5 L1007.0,285.0 L992.0,292.5 L977.0,295.0 L972.0,287.5Z" fill="#ffffff"/>
<path d="M972.0,325.0 L979.5,320.0 L987.0,322.5 L984.5,330.0 L974.5,332.5Z" fill="#ffffff"/>
<path d="M1037.0,335.0 L1047.0,330.0 L1057.0,332.5 L1054.5,342.5 L1042.0,345.0Z" fill="#ffffff"/>
<path d="M967.0,367.5 L979.5,362.5 L992.0,365.0 L992.0,375.0 L977.0,377.5 L967.0,375.0Z" fill="#ffffff"/>
<path d="M962.0,405.0 L972.0,385.0 L992.0,372.5 L1012.0,370.0 L1027.0,372.5 L1037.0,385.0 L1032.0,405.0 L1022.0,415.0 L1002.0,430.0 L987.0,435.0 L972.0,430.0 L962.0,417.5Z" fill="#ffffff"/>
<path d="M1087.0,282.5 L1107.0,280.0 L1127.0,287.5 L1132.0,300.0 L1122.0,305.0 L1112.0,312.5 L1102.0,305.0 L1092.0,295.0 L1079.5,290.0Z" fill="#ffffff"/>
<path d="M1207.0,272.5 L1227.0,275.0 L1252.0,277.5 L1267.0,282.5 L1252.0,290.0 L1232.0,287.5 L1217.0,282.5Z" fill="#ffffff"/>
<path d="M1324.0,292.5 L1349.0,287.5 L1386.5,292.5 L1424.0,297.5 L1436.5,290.0 L1454.0,292.5 L1479.0,297.5 L1511.5,302.5 L1549.0,312.5 L1574.0,320.0 L1599.0,330.0 L1574.0,332.5 L1524.0,327.5 L1474.0,320.0 L1424.0,317.5 L1374.0,312.5 L1324.0,305.0Z" fill="#ffffff"/>
<path d="M1559.0,462.5 L1574.0,460.0 L1589.0,472.5 L1584.0,490.0 L1574.0,500.0 L1564.0,495.0 L1559.0,480.0Z" fill="#ffffff"/>
<path d="M1544.0,530.0 L1564.0,525.0 L1574.0,535.0 L1569.0,555.0 L1564.0,570.0 L1549.0,570.0Z" fill="#ffffff"/>
<path d="M687.0,612.5 L712.0,610.0 L714.5,627.5 L689.5,627.5Z" fill="#ffffff"/>
<path d="M1374.0,625.0 L1399.0,617.5 L1429.0,615.0 L1439.0,635.0 L1449.0,660.0 L1464.0,685.0 L1479.0,710.0 L1464.0,715.0 L1439.0,705.0 L1414.0,710.0 L1391.5,710.0 L1381.5,695.0 L1379.0,665.0 L1376.5,645.0Z" fill="#ffffff"/>
<path d="M1478.0,570.0 L1545.0,560.0 L1570.0,590.0 L1590.0,620.0 L1585.0,650.0 L1560.0,660.0 L1545.0,680.0 L1548.0,720.0 L1540.0,735.0 L1500.0,740.0 L1480.0,700.0 L1470.0,640.0 L1470.0,600.0Z" fill="#ffffff"/>
<path d="M1540.0,732.5 L1560.0,722.5 L1580.0,720.0 L1605.0,715.0 L1615.0,700.0 L1635.0,690.0 L1665.0,695.0 L1675.0,710.0 L1687.5,730.0 L1675.0,740.0 L1665.0,745.0 L1650.0,745.0 L1625.0,745.0 L1600.0,750.0 L1575.0,760.0 L1555.0,765.0 L1540.0,750.0Z" fill="#ffffff"/>
<path d="M1540.0,570.0 L1560.0,570.0 L1575.0,595.0 L1590.0,620.0 L1595.0,645.0 L1580.0,657.5 L1560.0,655.0 L1545.0,645.0 L1540.0,620.0Z" fill="#ffffff"/>
<path d="M265.0,905.0 L275.0,907.5 L280.0,920.0 L270.0,917.5Z" fill="#ffffff"/>
<path d="M485.0,1070.0 L502.5,1067.5 L515.0,1060.0 L525.0,1062.5 L530.0,1075.0 L515.0,1082.5 L495.0,1077.5Z" fill="#ffffff"/>
<path d="M637.5,862.5 L652.0,860.0 L652.0,880.0 L640.0,877.5Z" fill="#ffffff"/>
<path d="M887.0,955.0 L902.0,952.5 L917.0,970.0 L927.0,975.0 L922.0,987.5 L902.0,987.5 L892.0,975.0Z" fill="#ffffff"/>
<path d="M739.5,1000.0 L757.0,997.5 L767.0,1007.5 L762.0,1020.0 L747.0,1015.0Z" fill="#ffffff"/>
<path d="M724.5,1015.0 L742.0,1015.0 L752.0,1025.0 L742.0,1032.5 L727.0,1027.5Z" fill="#ffffff"/>
<path d="M752.0,875.0 L769.5,865.0 L782.0,875.0 L772.0,895.0 L769.5,912.5 L777.0,930.0 L777.0,950.0 L762.0,955.0 L757.0,930.0 L757.0,900.0Z" fill="#ffffff"/>
<path d="M679.5,882.5 L689.5,880.0 L692.0,905.0 L684.5,910.0 L679.5,900.0Z" fill="#ffffff"/>
<path d="M1204.0,920.0 L1214.0,917.5 L1216.5,927.5 L1206.5,930.0Z" fill="#ffffff"/>
<path d="M1499.0,862.5 L1506.5,860.0 L1509.0,867.5 L1501.5,868.8Z" fill="#ffffff"/>
<path d="M1675.0,935.0 L1687.5,930.0 L1695.0,927.5 L1687.5,935.0 L1677.5,940.0Z" fill="#ffffff"/>
<path d="M775.0,645.0 L790.0,640.0 L800.0,655.0 L805.0,670.0 L795.0,675.0 L782.5,665.0Z" fill="#ffffff"/>
<path d="M925.0,615.0 L935.0,610.0 L940.0,635.0 L930.0,640.0Z" fill="#ffffff"/>
<path d="M596.8,322.7 L615.2,313.5 L633.6,302.5 L652.0,297.0 L679.6,293.3 L707.2,289.6 L734.8,285.9 L762.4,282.2 L799.2,280.4 L817.6,282.2 L806.6,295.1 L780.8,300.6 L762.4,308.0 L771.6,322.7 L790.0,339.3 L780.8,350.3 L771.6,361.4 L758.7,365.0 L744.0,357.7 L725.6,361.4 L716.4,354.0 L699.8,354.0 L688.8,346.6 L670.4,343.0 L652.0,339.3 L633.6,337.4 L615.2,335.6 L596.8,331.9Z" fill="#ffffff"/>
<path d="M330.0,389.5 L346.8,376.0 L363.6,362.7 L380.3,350.9 L397.1,337.5 L413.9,329.1 L430.7,322.4 L447.4,315.7 L464.2,309.0 L481.0,305.6 L497.8,307.3 L506.1,317.4 L497.8,325.7 L481.0,329.1 L464.2,332.5 L447.4,335.8 L430.7,349.2 L413.9,366.0 L400.5,376.1 L380.3,382.8 L371.9,396.2 L355.2,413.0 L340.0,416.3 L330.0,413.0Z" fill="#ffffff"/>
<path d="M1440.0,600.0 L1480.0,600.0 L1500.0,640.0 L1480.0,700.0 L1470.0,720.0 L1440.0,680.0Z" fill="#ffffff"/>
<path d="M1207.0,272.0 L1246.0,275.0 L1269.0,285.0 L1295.0,288.0 L1311.0,294.0 L1295.0,304.0 L1262.0,311.0 L1236.0,304.0 L1210.0,291.0Z" fill="#ffffff"/>
<path d="M584.0,562.0 L592.0,559.0 L598.0,566.0 L596.0,578.0 L586.0,576.0Z" fill="#ffffff"/>
<path d="M627.0,546.0 L636.0,543.0 L641.0,550.0 L638.0,559.0 L629.0,557.0Z" fill="#ffffff"/>
<path d="M598.0,624.0 L606.0,621.0 L610.0,628.0 L603.0,632.0Z" fill="#ffffff"/>
<path d="M1531.1,379.2 L1570.9,374.5 L1593.6,377.3 L1601.2,386.8 L1593.6,392.5 L1574.7,390.6 L1555.8,386.8 L1542.5,386.8 L1534.9,392.5Z" fill="#ffffff"/>
<path d="M1149.9,528.0 L1152.7,535.8 L1157.9,546.2 L1165.5,559.2 L1172.0,569.6 L1175.1,585.2 L1180.8,590.4 L1186.0,603.4 L1195.6,613.8 L1204.0,619.0 L1204.9,617.9 L1201.3,608.6 L1200.4,600.8 L1195.9,593.0 L1190.8,582.6 L1184.4,574.8 L1181.7,567.0 L1179.0,560.2 L1173.5,551.4 L1167.7,546.2 L1161.7,538.4 L1159.3,530.6 L1156.0,539.4Z" fill="#fff"/>
<path d="M1218.3,528.5 L1221.5,537.3 L1226.6,543.6 L1230.2,547.7 L1236.3,549.8 L1237.4,556.0 L1241.6,558.1 L1250.5,557.6 L1256.5,551.4 L1257.8,547.2 L1257.7,543.0 L1251.3,545.1 L1244.5,544.1 L1235.0,538.9 L1228.9,532.1 L1222.6,527.4Z" fill="#fff"/>
<path d="M1045.2,405.0 L1052.9,404.5 L1060.6,404.0 L1068.2,403.5 L1075.9,403.0 L1083.5,402.5 L1086.4,395.2 L1087.2,387.9 L1096.6,387.9 L1095.4,380.7 L1102.5,379.1 L1109.6,377.5 L1116.6,375.8 L1107.2,374.7 L1097.8,373.5 L1085.0,373.5 L1081.3,361.8 L1087.4,356.0 L1093.3,350.3 L1082.5,348.0 L1076.0,356.0 L1069.2,364.2 L1068.6,373.5 L1074.7,378.3 L1068.7,390.4 L1065.5,395.2 L1054.2,397.6 L1044.7,397.6Z" fill="#fff"/>
<path d="M1513.8,788.9 L1512.9,789.2 L1512.0,789.7 L1511.2,790.2 L1510.4,790.8 L1509.7,791.4 L1509.0,792.2 L1508.5,793.0 L1508.0,793.8 L1507.5,794.7 L1507.2,795.6 L1507.0,796.6 L1506.9,797.6 L1505.8,809.0 L1504.2,820.4 L1504.1,821.8 L1504.0,837.0 L1503.4,844.9 L1498.4,853.9 L1498.0,854.8 L1497.7,855.8 L1497.4,856.7 L1497.2,857.7 L1497.2,858.7 L1497.2,859.7 L1497.4,860.7 L1497.6,861.7 L1498.0,862.6 L1498.4,863.5 L1502.3,870.8 L1502.8,871.6 L1503.4,872.4 L1504.1,873.2 L1504.8,873.8 L1505.6,874.4 L1506.4,874.9 L1507.3,875.3 L1508.2,875.6 L1509.2,875.9 L1510.2,876.0 L1511.1,876.1 L1517.6,876.1 L1518.5,876.0 L1519.4,875.9 L1520.3,875.7 L1521.2,875.4 L1522.0,875.0 L1530.7,870.8 L1543.9,870.3 L1544.9,870.2 L1545.9,870.1 L1546.9,869.8 L1547.8,869.4 L1548.7,868.9 L1561.5,861.4 L1573.7,858.3 L1579.4,858.0 L1583.6,860.7 L1585.0,867.1 L1585.2,868.1 L1585.5,869.0 L1586.0,869.8 L1586.5,870.7 L1587.1,871.5 L1587.7,872.2 L1588.5,872.8 L1589.3,873.4 L1590.1,873.9 L1591.0,874.3 L1591.9,874.6 L1592.8,874.8 L1593.8,875.0 L1594.1,875.0 L1596.3,880.9 L1596.7,881.8 L1597.1,882.7 L1599.7,886.8 L1600.2,887.7 L1600.9,888.4 L1601.6,889.1 L1602.4,889.7 L1603.2,890.3 L1604.1,890.7 L1613.4,894.9 L1614.3,895.2 L1615.2,895.5 L1616.1,895.7 L1627.2,897.2 L1628.2,897.3 L1629.2,897.3 L1630.2,897.2 L1631.2,897.0 L1632.1,896.7 L1633.1,896.3 L1633.9,895.8 L1642.2,890.5 L1650.9,888.8 L1651.9,888.6 L1652.8,888.3 L1653.7,887.8 L1654.6,887.3 L1655.4,886.7 L1656.1,886.0 L1656.8,885.3 L1657.3,884.5 L1663.0,875.8 L1672.5,865.4 L1680.9,858.0 L1681.7,857.2 L1682.5,856.3 L1689.9,845.9 L1690.3,845.4 L1695.2,837.6 L1695.7,836.8 L1696.1,835.9 L1696.4,835.0 L1696.6,834.0 L1699.5,818.4 L1699.6,817.5 L1699.6,816.6 L1699.6,815.7 L1699.4,814.7 L1699.2,813.8 L1698.2,810.2 L1697.9,809.4 L1697.5,808.5 L1697.1,807.8 L1696.6,807.0 L1692.3,801.2 L1690.0,795.8 L1686.8,787.2 L1686.4,786.2 L1685.9,785.3 L1685.2,784.4 L1684.5,783.6 L1683.7,782.9 L1677.7,778.0 L1677.6,772.3 L1677.6,772.3 L1677.5,761.8 L1677.4,760.9 L1677.2,760.0 L1677.0,759.1 L1676.7,758.2 L1676.3,757.3 L1675.8,756.5 L1675.2,755.7 L1674.6,755.0 L1673.9,754.4 L1673.2,753.8 L1669.9,751.6 L1669.8,741.1 L1669.8,740.1 L1669.6,739.1 L1669.3,738.1 L1669.0,737.2 L1668.5,736.3 L1668.0,735.4 L1667.3,734.6 L1666.6,733.9 L1665.9,733.2 L1663.8,731.7 L1663.0,731.1 L1662.1,730.7 L1661.2,730.3 L1660.3,730.0 L1659.4,729.8 L1658.4,729.7 L1657.4,729.7 L1656.5,729.7 L1655.5,729.9 L1654.6,730.2 L1653.7,730.5 L1652.8,731.0 L1652.0,731.5 L1651.2,732.1 L1650.5,732.7 L1649.9,733.5 L1649.3,734.3 L1648.9,735.1 L1643.3,746.0 L1642.9,746.9 L1642.5,747.9 L1642.3,748.9 L1640.6,758.8 L1639.2,761.6 L1635.9,758.9 L1639.5,752.2 L1639.9,751.3 L1640.2,750.4 L1640.5,749.5 L1640.6,748.5 L1640.7,747.6 L1640.7,746.6 L1640.5,745.6 L1640.3,744.7 L1640.0,743.8 L1639.6,742.9 L1639.1,742.1 L1638.6,741.3 L1637.9,740.6 L1637.2,739.9 L1636.5,739.3 L1635.7,738.8 L1634.8,738.3 L1631.4,736.8 L1630.3,736.4 L1629.2,736.1 L1615.8,733.5 L1615.4,733.4 L1608.7,732.4 L1607.7,732.3 L1606.8,732.3 L1605.8,732.4 L1604.8,732.5 L1603.9,732.8 L1603.0,733.2 L1602.1,733.6 L1601.3,734.1 L1600.6,734.8 L1599.9,735.4 L1593.5,742.2 L1593.0,742.8 L1592.5,743.6 L1592.0,744.3 L1591.6,745.1 L1589.7,749.7 L1589.0,749.2 L1588.2,748.6 L1587.4,748.0 L1586.5,747.6 L1585.5,747.3 L1584.6,747.0 L1583.6,746.9 L1582.6,746.8 L1581.6,746.9 L1580.6,747.0 L1579.7,747.2 L1578.7,747.6 L1577.9,748.0 L1572.0,751.1 L1571.2,751.6 L1570.4,752.2 L1569.7,752.8 L1569.1,753.5 L1568.5,754.2 L1564.7,759.8 L1563.8,759.9 L1562.8,760.0 L1561.8,760.3 L1560.8,760.6 L1559.9,761.0 L1559.0,761.6 L1558.2,762.2 L1557.5,762.9 L1556.8,763.6 L1556.2,764.5 L1551.7,771.7 L1547.4,776.6 L1540.9,778.4 L1540.0,778.7 L1530.3,782.3 L1529.9,782.5 L1522.6,785.6 L1516.8,788.0 L1513.8,788.9Z" fill="#fff"/>
<path d="M1606.4,694.9 L1608.5,695.7 L1608.3,695.9 L1608.1,696.3 L1607.9,696.7 L1607.7,697.2 L1607.6,697.7 L1607.6,698.1 L1607.5,698.6 L1607.6,699.1 L1607.7,699.6 L1607.8,700.0 L1607.9,700.5 L1608.1,700.9 L1608.4,701.3 L1608.7,701.7 L1609.0,702.1 L1609.4,702.4 L1609.7,702.7 L1610.2,703.0 L1617.8,707.1 L1617.9,707.2 L1626.1,711.3 L1626.3,711.5 L1635.0,715.2 L1636.0,718.8 L1635.7,719.0 L1635.3,719.3 L1635.0,719.7 L1634.7,720.0 L1634.4,720.5 L1634.2,720.9 L1632.0,725.6 L1631.8,726.0 L1631.6,726.5 L1631.5,727.0 L1631.5,727.5 L1631.5,728.0 L1631.6,728.5 L1631.7,729.0 L1631.8,729.5 L1632.0,729.9 L1632.3,730.4 L1632.6,730.8 L1632.9,731.2 L1633.3,731.5 L1633.7,731.8 L1634.1,732.1 L1634.5,732.3 L1635.0,732.5 L1635.5,732.6 L1636.0,732.7 L1636.5,732.7 L1639.7,732.7 L1640.2,732.7 L1640.8,732.6 L1641.3,732.4 L1641.8,732.2 L1642.7,731.8 L1649.2,735.6 L1649.7,735.9 L1650.2,736.1 L1650.7,736.2 L1651.2,736.3 L1651.8,736.3 L1662.3,736.3 L1662.8,736.3 L1663.3,736.2 L1663.8,736.1 L1664.3,735.9 L1664.7,735.7 L1665.1,735.4 L1665.5,735.1 L1665.9,734.8 L1666.2,734.4 L1666.5,734.0 L1666.8,733.5 L1668.9,729.3 L1672.1,730.0 L1678.3,739.3 L1678.6,739.7 L1678.9,740.1 L1679.2,740.4 L1679.6,740.7 L1680.1,740.9 L1680.5,741.1 L1680.9,741.3 L1681.4,741.4 L1681.9,741.5 L1691.8,742.5 L1692.3,742.6 L1692.8,742.6 L1693.3,742.5 L1693.8,742.4 L1694.3,742.2 L1694.7,742.0 L1695.1,741.7 L1695.5,741.4 L1695.9,741.1 L1696.2,740.7 L1696.5,740.3 L1696.8,739.9 L1697.0,739.4 L1697.2,738.9 L1697.3,738.4 L1697.3,737.9 L1697.3,737.4 L1697.3,736.9 L1697.2,736.4 L1697.1,736.0 L1696.9,735.5 L1696.7,735.1 L1696.4,734.6 L1696.1,734.2 L1688.6,725.9 L1688.3,725.6 L1685.7,723.2 L1688.0,717.0 L1688.1,716.5 L1688.3,716.0 L1688.3,715.5 L1688.3,715.0 L1688.3,714.5 L1688.2,714.1 L1688.0,713.6 L1687.9,713.1 L1687.6,712.7 L1687.4,712.3 L1687.1,711.9 L1686.7,711.5 L1686.3,711.2 L1685.9,710.9 L1685.5,710.7 L1685.0,710.5 L1679.3,708.4 L1673.8,700.8 L1673.5,700.4 L1673.1,700.1 L1672.7,699.8 L1672.3,699.5 L1671.9,699.2 L1671.4,699.1 L1661.2,695.4 L1651.1,691.8 L1639.9,687.2 L1639.5,687.0 L1639.0,686.9 L1638.5,686.8 L1638.0,686.8 L1637.6,686.8 L1637.1,686.9 L1636.6,687.0 L1636.1,687.2 L1635.7,687.4 L1635.3,687.6 L1634.9,687.9 L1634.5,688.2 L1628.4,694.3 L1627.7,693.7 L1627.5,688.5 L1627.5,688.0 L1627.4,687.5 L1627.2,687.1 L1627.1,686.6 L1626.8,686.2 L1626.6,685.7 L1626.2,685.4 L1625.9,685.0 L1625.5,684.7 L1625.1,684.4 L1624.7,684.2 L1624.2,684.0 L1616.9,681.4 L1616.5,681.2 L1616.0,681.1 L1615.5,681.1 L1615.0,681.1 L1614.5,681.1 L1614.1,681.2 L1613.6,681.4 L1613.1,681.6 L1612.7,681.8 L1605.7,685.9 L1605.3,686.2 L1604.9,686.5 L1604.5,686.9 L1604.2,687.2 L1604.0,687.6 L1603.7,688.1 L1603.5,688.5 L1603.4,689.0 L1603.3,689.5 L1603.2,689.9 L1603.2,690.4 L1603.3,690.9 L1603.4,691.4 L1603.5,691.9 L1603.7,692.3 L1603.9,692.7 L1604.2,693.2 L1604.5,693.5 L1604.8,693.9 L1605.2,694.2 L1605.6,694.5 L1606.0,694.7 L1606.4,694.9Z" fill="#fff"/>
<path d="M1502.1,676.3 L1502.3,685.7 L1502.3,686.1 L1502.4,686.6 L1502.5,687.1 L1502.7,687.6 L1503.0,688.0 L1503.2,688.5 L1506.9,693.6 L1507.5,699.6 L1507.5,700.1 L1507.7,700.6 L1507.8,701.0 L1508.1,701.5 L1508.3,701.9 L1508.6,702.3 L1508.9,702.7 L1509.3,703.0 L1509.7,703.3 L1510.2,703.5 L1510.6,703.7 L1511.1,703.9 L1511.6,704.0 L1512.1,704.1 L1518.7,704.6 L1524.1,705.5 L1530.6,707.5 L1531.3,707.7 L1538.2,708.7 L1538.7,708.8 L1539.2,708.8 L1539.6,708.7 L1540.1,708.6 L1540.6,708.5 L1541.0,708.3 L1541.5,708.1 L1541.9,707.8 L1542.3,707.5 L1542.6,707.2 L1542.9,706.8 L1543.2,706.4 L1543.4,705.9 L1543.6,705.5 L1546.1,698.7 L1546.2,698.5 L1548.6,690.9 L1551.4,684.4 L1554.2,683.6 L1554.6,683.4 L1555.1,683.2 L1555.5,682.9 L1555.9,682.6 L1556.3,682.3 L1556.6,681.9 L1556.9,681.5 L1557.1,681.0 L1557.4,680.6 L1557.5,680.1 L1557.6,679.6 L1557.7,679.1 L1557.7,678.6 L1557.6,678.1 L1557.5,677.6 L1557.4,677.1 L1557.2,676.7 L1557.0,676.2 L1551.7,667.6 L1552.6,664.1 L1556.1,660.4 L1556.4,660.0 L1556.7,659.6 L1556.9,659.2 L1557.1,658.8 L1557.3,658.3 L1557.4,657.8 L1557.4,657.3 L1557.5,656.9 L1557.4,656.4 L1557.3,655.9 L1557.2,655.4 L1557.1,655.0 L1556.8,654.6 L1556.6,654.1 L1556.3,653.8 L1556.0,653.4 L1555.6,653.1 L1555.2,652.8 L1549.7,649.1 L1546.2,644.5 L1545.8,644.2 L1545.5,643.8 L1545.1,643.5 L1544.7,643.3 L1544.3,643.1 L1543.9,642.9 L1543.4,642.7 L1542.9,642.6 L1542.4,642.6 L1542.0,642.6 L1541.5,642.6 L1541.0,642.7 L1540.6,642.9 L1540.1,643.0 L1539.7,643.3 L1539.3,643.5 L1538.9,643.8 L1538.6,644.2 L1538.2,644.5 L1530.3,654.8 L1521.7,664.4 L1515.2,670.4 L1511.7,669.0 L1511.2,668.8 L1510.8,668.7 L1510.3,668.6 L1509.8,668.6 L1509.3,668.6 L1508.8,668.7 L1508.4,668.8 L1507.9,669.0 L1507.5,669.2 L1507.1,669.4 L1506.7,669.7 L1506.3,670.0 L1503.7,672.6 L1503.3,673.0 L1503.0,673.4 L1502.7,673.8 L1502.5,674.3 L1502.3,674.8 L1502.2,675.3 L1502.1,675.8 L1502.1,676.3Z" fill="#fff"/>
<path d="M1440.4,657.2 L1449.0,669.2 L1449.2,669.4 L1455.9,677.3 L1462.2,690.9 L1462.4,691.2 L1466.8,699.0 L1467.0,699.4 L1472.8,707.2 L1473.2,707.6 L1482.9,717.5 L1483.1,717.8 L1483.5,718.0 L1483.8,718.2 L1484.1,718.4 L1484.5,718.5 L1484.9,718.6 L1485.3,718.7 L1485.7,718.7 L1486.1,718.7 L1492.1,718.2 L1492.4,718.1 L1492.8,718.0 L1493.2,717.9 L1493.6,717.7 L1493.9,717.5 L1494.2,717.3 L1494.5,717.0 L1494.8,716.7 L1495.0,716.4 L1495.2,716.1 L1495.4,715.7 L1495.5,715.3 L1495.6,715.0 L1495.7,714.6 L1497.1,700.0 L1497.1,699.6 L1497.1,699.2 L1497.1,698.8 L1497.0,698.4 L1496.8,698.0 L1496.6,697.7 L1496.4,697.3 L1496.2,697.0 L1489.9,689.6 L1486.6,682.4 L1486.5,682.0 L1486.2,681.7 L1486.0,681.3 L1485.7,681.0 L1475.3,671.7 L1475.0,671.4 L1474.7,671.2 L1474.4,671.0 L1474.0,670.9 L1469.5,669.2 L1456.9,654.4 L1456.6,654.1 L1456.3,653.8 L1456.0,653.6 L1455.7,653.4 L1455.3,653.3 L1455.0,653.1 L1454.6,653.0 L1444.4,651.0 L1444.0,650.9 L1443.6,650.9 L1443.2,650.9 L1442.8,650.9 L1442.4,651.0 L1442.1,651.2 L1441.7,651.4 L1441.4,651.6 L1441.0,651.8 L1440.7,652.1 L1440.5,652.4 L1440.2,652.7 L1440.0,653.0 L1439.9,653.4 L1439.8,653.8 L1439.7,654.2 L1439.6,654.6 L1439.6,655.0 L1439.6,655.4 L1439.7,655.8 L1439.8,656.2 L1440.0,656.5 L1440.1,656.9 L1440.4,657.2Z" fill="#fff"/>
<path d="M1486.6,722.8 L1491.9,725.9 L1492.3,726.1 L1492.7,726.3 L1493.1,726.4 L1502.6,728.5 L1502.8,728.5 L1518.6,731.1 L1529.4,733.2 L1529.8,733.2 L1530.2,733.3 L1530.6,733.2 L1531.0,733.2 L1531.4,733.1 L1531.8,732.9 L1532.1,732.7 L1532.5,732.5 L1532.8,732.3 L1533.1,732.0 L1533.3,731.7 L1533.6,731.4 L1533.8,731.0 L1533.9,730.7 L1534.0,730.3 L1534.1,729.9 L1534.9,725.2 L1534.9,724.8 L1534.9,724.5 L1534.9,724.1 L1534.8,723.7 L1534.7,723.3 L1534.6,723.0 L1534.4,722.6 L1534.2,722.3 L1534.0,722.0 L1533.7,721.7 L1533.4,721.5 L1533.1,721.2 L1532.8,721.0 L1523.9,716.4 L1523.5,716.2 L1523.1,716.0 L1522.7,715.9 L1522.3,715.9 L1513.7,715.4 L1504.2,712.4 L1503.9,712.4 L1503.6,712.3 L1493.2,710.7 L1492.8,710.7 L1492.4,710.7 L1492.0,710.7 L1491.6,710.8 L1491.2,710.9 L1490.8,711.1 L1490.5,711.3 L1490.1,711.5 L1489.8,711.8 L1489.5,712.1 L1485.6,716.8 L1485.4,717.1 L1485.2,717.4 L1485.0,717.8 L1484.8,718.1 L1484.7,718.5 L1484.7,718.9 L1484.6,719.3 L1484.7,719.7 L1484.7,720.0 L1484.8,720.4 L1484.9,720.8 L1485.1,721.1 L1485.2,721.5 L1485.5,721.8 L1485.7,722.1 L1486.0,722.4 L1486.3,722.6 L1486.6,722.8Z" fill="#fff"/>
<path d="M1550.7,713.3 L1550.8,713.7 L1550.9,714.1 L1551.1,714.5 L1551.3,714.8 L1551.5,715.1 L1551.8,715.4 L1552.1,715.7 L1552.4,715.9 L1552.7,716.1 L1553.1,716.3 L1553.5,716.4 L1553.9,716.5 L1554.2,716.6 L1554.6,716.6 L1558.3,716.6 L1558.7,716.6 L1559.1,716.5 L1559.5,716.4 L1559.8,716.3 L1560.2,716.1 L1560.5,715.9 L1560.8,715.7 L1561.1,715.5 L1561.4,715.2 L1561.6,714.9 L1561.8,714.5 L1562.0,714.2 L1562.1,713.8 L1562.2,713.4 L1562.3,713.0 L1562.9,707.1 L1565.1,711.0 L1565.4,711.3 L1565.6,711.6 L1565.9,711.9 L1566.2,712.2 L1566.5,712.4 L1566.9,712.6 L1567.3,712.7 L1567.6,712.8 L1568.0,712.9 L1568.4,713.0 L1568.9,713.0 L1569.3,712.9 L1572.5,712.4 L1572.9,712.3 L1573.2,712.2 L1573.6,712.0 L1573.9,711.9 L1574.3,711.6 L1574.6,711.4 L1574.8,711.1 L1575.1,710.8 L1575.3,710.5 L1575.5,710.1 L1575.6,709.8 L1575.7,709.4 L1575.8,709.0 L1575.8,708.6 L1575.8,708.2 L1575.8,707.8 L1575.7,707.4 L1575.6,707.1 L1575.4,706.7 L1569.8,695.1 L1575.2,692.2 L1575.6,692.0 L1575.9,691.8 L1576.2,691.5 L1576.4,691.3 L1576.7,690.9 L1576.9,690.6 L1577.0,690.3 L1577.2,689.9 L1577.3,689.5 L1577.3,689.1 L1577.4,688.8 L1577.4,688.4 L1577.3,688.0 L1577.2,687.6 L1577.1,687.2 L1576.9,686.9 L1576.8,686.6 L1576.5,686.2 L1576.3,685.9 L1576.3,685.9 L1576.4,685.9 L1576.8,685.9 L1577.2,685.8 L1577.5,685.7 L1577.9,685.5 L1578.2,685.4 L1578.6,685.2 L1578.9,684.9 L1579.1,684.6 L1584.5,678.9 L1584.4,678.9 L1578.4,673.8 L1578.3,673.8 L1576.4,676.4 L1557.8,676.4 L1557.4,676.4 L1557.0,676.4 L1556.6,676.5 L1556.3,676.7 L1555.9,676.8 L1555.6,677.0 L1555.3,677.2 L1555.0,677.5 L1554.7,677.8 L1554.5,678.1 L1554.3,678.4 L1554.1,678.8 L1554.0,679.1 L1553.9,679.5 L1553.1,682.9 L1548.2,696.7 L1548.1,697.1 L1548.0,697.5 L1548.0,697.9 L1548.0,698.4 L1548.0,698.8 L1550.7,713.3Z" fill="#fff"/>
<path d="M1547.6,587.7 L1547.5,600.7 L1547.5,601.2 L1547.6,601.6 L1547.7,602.0 L1547.9,602.4 L1551.9,611.3 L1552.0,611.6 L1552.3,611.9 L1552.5,612.2 L1552.7,612.5 L1553.0,612.7 L1553.3,613.0 L1553.7,613.2 L1554.0,613.3 L1554.4,613.4 L1554.7,613.5 L1555.1,613.6 L1559.6,614.1 L1567.2,617.3 L1570.3,619.6 L1570.6,619.8 L1571.0,620.0 L1571.4,620.1 L1571.7,620.3 L1572.1,620.3 L1572.5,620.4 L1572.9,620.4 L1573.3,620.3 L1573.7,620.3 L1574.1,620.1 L1574.4,620.0 L1574.8,619.8 L1575.1,619.6 L1575.4,619.3 L1575.7,619.1 L1575.9,618.8 L1576.1,618.4 L1576.3,618.1 L1576.5,617.7 L1576.6,617.4 L1576.7,617.0 L1576.7,616.6 L1576.7,616.2 L1576.7,615.8 L1576.6,615.4 L1576.5,615.0 L1576.3,614.7 L1576.1,614.3 L1575.9,614.0 L1575.7,613.7 L1575.4,613.4 L1575.1,613.2 L1568.5,608.3 L1563.1,601.2 L1564.8,597.1 L1564.9,596.7 L1565.0,596.3 L1565.1,595.9 L1565.1,595.5 L1565.1,595.1 L1565.0,594.7 L1563.2,586.9 L1563.1,586.5 L1563.0,586.2 L1562.8,585.8 L1562.6,585.5 L1562.4,585.2 L1562.1,584.9 L1561.8,584.6 L1561.5,584.4 L1561.2,584.2 L1560.8,584.1 L1560.5,583.9 L1560.1,583.8 L1559.7,583.8 L1559.3,583.8 L1551.6,583.8 L1551.2,583.8 L1550.8,583.8 L1550.5,583.9 L1550.1,584.1 L1549.7,584.2 L1549.4,584.4 L1549.1,584.7 L1548.8,584.9 L1548.5,585.2 L1548.3,585.5 L1548.1,585.9 L1547.9,586.2 L1547.8,586.6 L1547.7,587.0 L1547.6,587.3 L1547.6,587.7Z" fill="#fff"/>
<path d="M1564.5,651.4 L1573.1,653.8 L1578.8,658.1 L1579.2,658.3 L1579.5,658.5 L1579.9,658.6 L1580.3,658.8 L1580.6,658.8 L1581.0,658.9 L1581.4,658.9 L1581.8,658.8 L1582.2,658.7 L1582.6,658.6 L1583.0,658.5 L1583.3,658.3 L1583.6,658.0 L1584.0,657.8 L1587.8,654.1 L1588.1,653.9 L1588.3,653.5 L1588.6,653.2 L1588.7,652.8 L1588.9,652.5 L1589.0,652.1 L1589.1,651.7 L1589.1,651.3 L1589.2,639.8 L1589.2,639.5 L1589.1,639.1 L1589.0,638.7 L1588.9,638.4 L1588.8,638.1 L1588.6,637.7 L1588.4,637.4 L1583.8,631.2 L1583.6,630.9 L1583.3,630.6 L1583.0,630.3 L1582.7,630.1 L1582.3,629.9 L1582.0,629.8 L1581.6,629.7 L1581.2,629.6 L1580.8,629.6 L1580.4,629.5 L1580.0,629.6 L1579.7,629.7 L1579.3,629.8 L1578.9,629.9 L1578.6,630.1 L1578.2,630.3 L1577.9,630.6 L1577.7,630.9 L1569.4,639.9 L1563.2,644.3 L1562.9,644.6 L1562.7,644.8 L1562.4,645.1 L1562.2,645.5 L1562.0,645.8 L1561.8,646.2 L1561.7,646.5 L1561.6,646.9 L1561.6,647.3 L1561.6,647.7 L1561.6,648.1 L1561.7,648.5 L1561.8,648.9 L1561.9,649.2 L1562.1,649.6 L1562.3,649.9 L1562.5,650.2 L1562.8,650.5 L1563.1,650.7 L1563.4,651.0 L1563.8,651.2 L1564.1,651.3 L1564.5,651.4Z" fill="#fff"/>
<path d="M1753.8,862.0 L1752.9,872.7 L1750.2,879.0 L1745.1,884.0 L1744.8,884.3 L1744.5,884.6 L1744.3,885.0 L1744.2,885.4 L1744.0,885.8 L1743.9,886.2 L1743.9,886.6 L1743.9,887.0 L1743.9,887.4 L1744.0,887.8 L1744.6,890.4 L1740.4,895.0 L1740.2,895.3 L1740.0,895.6 L1739.8,896.0 L1739.6,896.3 L1739.5,896.7 L1739.5,897.0 L1739.4,897.4 L1739.4,897.8 L1739.4,898.2 L1739.5,898.5 L1739.6,898.9 L1740.2,900.7 L1740.3,901.1 L1740.5,901.4 L1740.7,901.7 L1740.9,902.1 L1741.2,902.4 L1741.5,902.6 L1741.8,902.8 L1742.1,903.0 L1742.5,903.2 L1742.9,903.3 L1743.3,903.4 L1743.7,903.5 L1744.1,903.5 L1744.5,903.5 L1744.8,903.4 L1745.2,903.3 L1745.6,903.1 L1745.9,903.0 L1746.3,902.7 L1756.2,895.7 L1756.5,895.5 L1760.8,891.9 L1761.0,891.7 L1768.1,884.7 L1768.4,884.4 L1768.6,884.1 L1768.9,883.8 L1769.0,883.4 L1769.2,883.0 L1769.3,882.6 L1769.3,882.2 L1769.3,881.8 L1769.3,881.4 L1769.2,881.0 L1769.1,880.6 L1769.0,880.3 L1768.8,879.9 L1768.6,879.6 L1768.4,879.3 L1768.1,879.0 L1767.8,878.7 L1767.5,878.5 L1767.1,878.3 L1766.8,878.1 L1766.4,878.0 L1763.8,877.3 L1763.8,877.2 L1763.9,876.8 L1764.0,876.5 L1764.0,876.1 L1764.0,875.7 L1764.0,875.3 L1763.9,874.9 L1762.8,870.6 L1761.7,861.9 L1761.7,861.5 L1761.6,861.1 L1761.4,860.7 L1761.2,860.4 L1761.0,860.1 L1760.8,859.7 L1760.5,859.5 L1760.2,859.2 L1759.9,859.0 L1759.6,858.8 L1759.2,858.6 L1758.8,858.5 L1758.4,858.4 L1758.1,858.4 L1757.7,858.4 L1757.3,858.4 L1756.9,858.5 L1756.5,858.6 L1756.1,858.7 L1755.8,858.9 L1755.5,859.1 L1755.2,859.3 L1754.9,859.6 L1754.6,859.9 L1754.4,860.2 L1754.2,860.5 L1754.0,860.9 L1753.9,861.3 L1753.8,861.7 L1753.8,862.0Z" fill="#fff"/>
<path d="M1733.2,893.7 L1723.1,899.7 L1723.0,899.8 L1714.4,905.1 L1701.5,910.9 L1701.2,911.0 L1691.8,916.1 L1691.3,916.3 L1684.4,921.3 L1684.1,921.5 L1683.8,921.8 L1683.6,922.1 L1683.3,922.4 L1683.1,922.8 L1683.0,923.1 L1682.9,923.5 L1682.8,923.9 L1682.7,924.2 L1682.7,924.6 L1682.8,925.0 L1682.8,925.4 L1682.9,925.8 L1683.1,926.1 L1683.2,926.5 L1683.4,926.8 L1683.7,927.1 L1683.9,927.4 L1684.2,927.7 L1684.6,927.9 L1684.9,928.1 L1685.2,928.3 L1685.6,928.4 L1686.0,928.5 L1686.4,928.5 L1686.8,928.5 L1687.2,928.5 L1697.3,927.4 L1697.7,927.4 L1698.1,927.2 L1698.5,927.1 L1707.5,923.2 L1707.9,923.0 L1708.2,922.7 L1715.8,917.1 L1724.6,913.2 L1724.9,913.0 L1725.2,912.9 L1730.3,909.4 L1740.7,902.7 L1741.1,902.4 L1741.4,902.2 L1741.6,901.9 L1741.9,901.6 L1742.1,901.2 L1742.2,900.9 L1742.4,900.5 L1742.5,900.1 L1742.6,899.7 L1742.6,899.4 L1742.6,899.0 L1742.5,898.6 L1742.4,898.2 L1742.3,897.8 L1742.1,897.5 L1741.9,897.1 L1741.7,896.8 L1741.4,896.5 L1741.1,896.2 L1740.8,896.0 L1737.5,893.8 L1737.2,893.6 L1736.9,893.4 L1736.5,893.3 L1736.2,893.2 L1735.8,893.1 L1735.4,893.1 L1735.0,893.1 L1734.7,893.1 L1734.3,893.2 L1733.9,893.3 L1733.6,893.5 L1733.2,893.7Z" fill="#fff"/>
<path d="M1612.5,894.8 L1610.9,903.0 L1610.8,903.4 L1610.8,903.8 L1610.8,904.1 L1610.9,904.5 L1611.0,904.9 L1612.8,911.5 L1612.9,911.9 L1613.1,912.3 L1613.2,912.6 L1613.5,912.9 L1613.7,913.2 L1614.0,913.5 L1614.3,913.8 L1614.6,914.0 L1615.0,914.1 L1615.4,914.3 L1615.7,914.4 L1616.1,914.5 L1616.5,914.5 L1616.9,914.5 L1617.3,914.4 L1617.7,914.4 L1618.1,914.2 L1618.4,914.1 L1624.6,911.0 L1624.9,910.8 L1625.2,910.6 L1625.5,910.4 L1625.8,910.2 L1626.0,909.9 L1634.5,899.1 L1634.7,898.8 L1634.9,898.4 L1635.1,898.1 L1635.2,897.7 L1635.3,897.3 L1635.4,896.9 L1635.4,896.5 L1635.4,896.1 L1635.3,895.7 L1635.2,895.4 L1635.0,895.0 L1634.9,894.6 L1634.6,894.3 L1634.4,894.0 L1634.1,893.7 L1633.8,893.5 L1633.5,893.2 L1633.2,893.0 L1632.8,892.9 L1632.4,892.7 L1632.0,892.7 L1631.7,892.6 L1616.7,891.6 L1616.4,891.6 L1616.0,891.6 L1615.6,891.7 L1615.2,891.8 L1614.9,891.9 L1614.5,892.1 L1614.2,892.3 L1613.9,892.5 L1613.6,892.8 L1613.3,893.1 L1613.1,893.4 L1612.9,893.7 L1612.8,894.1 L1612.6,894.4 L1612.5,894.8Z" fill="#fff"/>
<path d="M1229.2,744.5 L1222.9,752.3 L1222.7,752.6 L1222.6,752.8 L1218.1,761.2 L1207.8,765.5 L1207.6,765.6 L1207.4,765.8 L1207.1,765.9 L1206.9,766.1 L1206.7,766.3 L1206.6,766.5 L1203.6,770.7 L1203.4,770.9 L1203.3,771.2 L1203.2,771.5 L1203.1,771.8 L1203.0,772.0 L1203.0,772.3 L1203.0,772.6 L1203.9,785.7 L1198.8,794.3 L1198.7,794.5 L1198.6,794.8 L1198.5,795.0 L1198.4,795.3 L1198.4,795.6 L1198.4,795.9 L1198.4,796.1 L1199.4,806.5 L1199.5,806.8 L1199.6,807.1 L1199.7,807.4 L1199.8,807.7 L1205.7,818.1 L1205.9,818.4 L1206.0,818.6 L1206.2,818.8 L1206.4,819.0 L1206.7,819.1 L1206.9,819.3 L1207.2,819.4 L1207.4,819.5 L1207.7,819.6 L1208.0,819.6 L1208.3,819.6 L1208.6,819.6 L1208.9,819.6 L1209.1,819.5 L1209.4,819.4 L1220.1,815.3 L1220.3,815.2 L1220.6,815.0 L1220.8,814.8 L1221.1,814.6 L1221.3,814.4 L1221.4,814.2 L1221.6,813.9 L1221.7,813.7 L1221.8,813.4 L1225.4,802.5 L1228.9,791.6 L1229.0,791.5 L1233.6,776.1 L1238.3,765.9 L1238.4,765.6 L1238.5,765.4 L1238.6,765.1 L1238.6,764.8 L1238.6,764.5 L1238.6,764.2 L1238.5,764.0 L1234.4,745.8 L1234.3,745.5 L1234.2,745.2 L1234.1,744.9 L1234.0,744.7 L1233.8,744.5 L1233.6,744.3 L1233.4,744.1 L1233.1,743.9 L1232.9,743.7 L1232.6,743.6 L1232.3,743.5 L1232.0,743.5 L1231.7,743.4 L1231.5,743.4 L1231.2,743.4 L1230.9,743.5 L1230.6,743.6 L1230.3,743.7 L1230.1,743.8 L1229.8,743.9 L1229.6,744.1 L1229.4,744.3 L1229.2,744.5Z" fill="#fff"/>
<path d="M300.0,1155.0 L1700.0,1155.0 L1700.5,1155.0 L1701.0,1154.9 L1701.5,1154.8 L1701.9,1154.6 L1702.4,1154.4 L1702.8,1154.2 L1703.2,1153.9 L1703.5,1153.5 L1703.9,1153.2 L1704.2,1152.8 L1704.4,1152.4 L1704.6,1151.9 L1704.8,1151.5 L1704.9,1151.0 L1705.0,1150.5 L1705.0,1150.0 L1705.0,1060.0 L1705.0,1059.5 L1704.9,1059.0 L1704.8,1058.5 L1704.6,1058.1 L1704.4,1057.6 L1704.2,1057.2 L1703.9,1056.8 L1703.5,1056.5 L1703.2,1056.1 L1702.8,1055.8 L1702.4,1055.6 L1701.9,1055.4 L1701.5,1055.2 L1701.0,1055.1 L1700.5,1055.0 L1700.0,1055.0 L1600.0,1055.0 L1599.6,1055.0 L1599.2,1055.1 L1539.2,1065.1 L1538.8,1065.1 L1538.4,1065.3 L1523.4,1070.3 L1523.1,1070.4 L1498.6,1080.2 L1475.1,1084.9 L1462.5,1081.7 L1488.3,1077.4 L1488.8,1077.3 L1489.2,1077.2 L1489.7,1077.0 L1490.1,1076.8 L1502.2,1069.5 L1541.5,1054.8 L1561.2,1049.9 L1561.7,1049.7 L1562.1,1049.5 L1562.6,1049.3 L1563.0,1049.0 L1563.3,1048.7 L1563.7,1048.4 L1564.0,1048.0 L1564.3,1047.6 L1564.5,1047.2 L1564.7,1046.7 L1564.8,1046.2 L1564.9,1045.8 L1565.0,1045.3 L1565.0,1044.8 L1565.0,1044.3 L1564.9,1043.8 L1564.7,1043.4 L1564.5,1042.9 L1564.3,1042.5 L1564.1,1042.1 L1563.7,1041.7 L1563.4,1041.3 L1563.0,1041.0 L1562.6,1040.7 L1562.2,1040.5 L1561.8,1040.3 L1541.8,1032.8 L1541.2,1032.6 L1511.6,1025.2 L1505.9,1022.9 L1505.6,1022.8 L1505.2,1022.6 L1475.2,1015.1 L1474.7,1015.0 L1474.2,1015.0 L1473.6,1015.0 L1438.6,1017.5 L1438.5,1017.5 L1414.2,1020.0 L1390.0,1015.1 L1389.5,1015.0 L1389.0,1015.0 L1364.0,1015.0 L1363.5,1015.0 L1338.8,1017.5 L1314.0,1017.5 L1313.5,1017.5 L1288.5,1020.0 L1287.8,1020.1 L1267.8,1025.1 L1267.3,1025.3 L1266.8,1025.5 L1242.2,1037.8 L1238.8,1038.8 L1238.9,1038.3 L1239.0,1037.9 L1239.0,1037.4 L1239.0,1036.9 L1238.9,1036.4 L1238.8,1036.0 L1238.6,1035.5 L1238.4,1035.1 L1238.1,1034.7 L1237.9,1034.3 L1237.5,1034.0 L1230.0,1026.5 L1229.7,1026.1 L1229.3,1025.8 L1228.9,1025.6 L1228.4,1025.4 L1228.0,1025.2 L1227.5,1025.1 L1202.9,1020.2 L1190.9,1015.4 L1190.4,1015.2 L1189.9,1015.1 L1189.5,1015.0 L1189.0,1015.0 L1188.5,1015.0 L1188.0,1015.1 L1163.0,1020.1 L1163.0,1020.1 L1149.3,1023.0 L1099.6,1027.0 L1099.5,1027.0 L1055.5,1031.0 L1055.5,1031.0 L1017.5,1035.0 L979.6,1038.0 L979.1,1038.1 L978.6,1038.2 L978.2,1038.3 L940.2,1053.3 L939.7,1053.6 L939.3,1053.8 L938.8,1054.1 L938.5,1054.5 L921.0,1071.9 L867.3,1069.0 L866.7,1069.0 L866.2,1069.1 L865.6,1069.2 L828.7,1079.9 L786.7,1072.6 L784.9,1067.7 L801.1,1054.9 L801.5,1054.6 L801.8,1054.2 L802.1,1053.8 L802.4,1053.4 L802.6,1053.0 L802.8,1052.5 L802.9,1052.0 L803.0,1051.5 L803.0,1051.0 L803.0,1050.5 L802.9,1050.1 L802.8,1049.6 L802.6,1049.1 L802.4,1048.7 L802.2,1048.2 L801.9,1047.8 L801.5,1047.5 L785.4,1031.3 L793.5,1018.9 L804.2,1013.5 L804.2,1013.4 L798.6,1005.4 L798.6,1005.4 L781.6,1021.4 L781.2,1021.7 L780.9,1022.1 L765.4,1044.0 L715.3,1044.0 L677.5,1040.0 L677.1,1040.0 L676.6,1040.0 L676.2,1040.1 L675.7,1040.2 L638.5,1050.0 L601.3,1048.0 L600.7,1048.0 L600.2,1048.1 L555.2,1055.1 L554.8,1055.1 L554.4,1055.3 L554.0,1055.4 L553.6,1055.6 L543.1,1061.3 L524.7,1066.2 L524.3,1066.3 L523.8,1066.5 L523.4,1066.7 L523.0,1067.0 L522.6,1067.3 L509.4,1079.6 L478.5,1090.2 L298.5,1145.2 L298.1,1145.4 L297.6,1145.6 L297.2,1145.8 L296.8,1146.1 L296.5,1146.5 L296.1,1146.8 L295.8,1147.2 L295.6,1147.6 L295.4,1148.1 L295.2,1148.6 L295.1,1149.0 L295.0,1149.5 L295.0,1150.0 L295.0,1150.5 L295.1,1151.0 L295.2,1151.5 L295.4,1151.9 L295.6,1152.4 L295.8,1152.8 L296.1,1153.2 L296.5,1153.5 L296.8,1153.9 L297.2,1154.2 L297.6,1154.4 L298.1,1154.6 L298.5,1154.8 L299.0,1154.9 L299.5,1155.0 L300.0,1155.0Z" fill="#fff"/>
<path d="M423.9,349.8 L450.9,335.5 L469.7,329.3 L478.9,327.8 L488.1,326.2 L497.3,324.7 L503.5,325.8 L509.7,326.8 L515.9,327.8 L522.1,328.8 L528.3,329.7 L533.5,330.8 L538.8,332.0 L545.5,333.3 L552.3,334.6 L560.5,333.3 L568.7,332.0 L576.8,330.6 L584.9,329.3 L589.5,331.1 L594.3,332.8 L601.1,332.6 L608.0,332.4 L612.9,334.2 L617.8,336.0 L622.8,337.8 L629.4,337.9 L636.0,338.1 L642.6,338.2 L648.8,338.8 L655.0,339.4 L661.2,340.0 L668.0,340.0 L674.8,340.0 L684.1,336.9 L691.0,332.4 L703.2,322.6 L704.6,328.1 L705.9,334.6 L710.9,336.9 L724.2,332.4 L734.2,332.4 L728.2,343.6 L714.6,345.8 L701.3,354.8 L689.1,357.2 L677.1,364.2 L664.9,371.2 L656.6,380.7 L661.2,382.1 L667.2,390.4 L674.2,394.5 L681.2,398.6 L690.7,400.1 L686.9,410.0 L691.1,417.5 L695.0,417.5 L703.0,402.5 L715.7,392.8 L716.9,385.5 L724.0,375.8 L726.7,365.1 L733.9,365.1 L741.0,365.1 L748.5,371.2 L749.1,380.7 L755.0,384.1 L766.9,378.3 L770.5,374.4 L773.6,392.8 L780.1,400.1 L784.4,410.0 L787.3,415.0 L781.6,418.0 L767.6,423.9 L759.6,423.9 L751.7,423.9 L740.4,427.5 L728.1,434.1 L717.6,440.7 L732.7,432.5 L745.9,429.0 L747.7,432.0 L741.9,435.1 L743.0,440.2 L745.0,444.2 L754.2,447.3 L760.8,445.7 L753.6,449.3 L741.8,454.4 L733.7,458.0 L733.9,452.9 L741.4,448.8 L732.8,449.8 L730.0,452.4 L720.8,455.4 L714.5,458.0 L710.8,463.2 L713.0,466.8 L708.3,468.3 L696.6,471.9 L694.0,473.4 L692.4,478.6 L687.2,482.2 L680.2,491.6 L680.1,496.8 L679.8,500.9 L672.4,504.5 L662.4,509.7 L654.2,516.5 L649.2,522.8 L647.8,530.6 L650.3,543.6 L648.9,551.4 L644.6,552.9 L642.3,546.2 L639.7,538.4 L640.8,530.6 L636.0,528.0 L629.0,529.5 L623.2,526.4 L614.3,526.4 L610.9,532.1 L606.4,532.1 L600.2,530.0 L591.4,530.0 L586.3,533.2 L576.1,539.4 L572.2,548.8 L568.9,559.2 L567.2,569.6 L568.2,577.4 L572.6,585.2 L577.6,587.8 L590.4,587.3 L595.2,585.2 L599.3,574.8 L610.5,572.2 L615.7,573.2 L611.3,582.6 L606.4,593.0 L604.6,600.8 L615.8,601.3 L624.4,606.0 L627.8,608.6 L624.8,624.2 L624.9,627.8 L631.3,635.6 L638.1,637.2 L642.8,634.1 L649.6,635.6 L652.6,639.8 L650.1,645.0 L644.7,642.4 L640.0,646.0 L637.8,642.4 L631.0,641.3 L624.2,639.8 L614.5,632.0 L614.1,625.7 L607.6,616.4 L598.7,613.8 L589.8,611.2 L583.9,602.9 L576.5,599.7 L568.0,602.3 L559.3,599.2 L548.9,593.0 L538.1,588.8 L530.4,580.0 L532.6,572.2 L532.0,565.4 L523.9,552.9 L518.9,546.2 L514.2,538.4 L510.0,529.0 L503.5,519.6 L502.8,528.0 L506.9,535.8 L508.7,546.2 L511.7,558.1 L515.3,563.3 L511.5,564.4 L505.3,556.6 L505.9,549.8 L498.9,542.5 L496.5,538.4 L496.1,528.0 L494.9,519.1 L494.6,513.9 L491.3,507.1 L483.3,504.0 L482.0,494.2 L482.5,487.4 L481.1,478.6 L481.3,474.0 L486.8,465.7 L492.6,455.4 L499.1,445.2 L504.0,433.0 L512.2,431.0 L508.0,424.9 L501.1,420.9 L503.8,415.0 L503.8,402.5 L504.5,395.2 L504.9,384.6 L499.2,380.7 L491.8,376.8 L485.0,376.3 L478.1,375.8 L473.1,372.1 L463.4,375.8 L453.6,378.3 L445.4,379.7 L451.5,373.5 L436.3,380.7 L421.0,387.9 L403.7,395.2 L388.0,399.1 L372.9,402.5 L395.3,394.2 L416.9,383.1 L406.9,382.1 L411.0,376.8 L405.8,373.5 L411.8,366.5 L421.7,360.9 L435.9,359.5 L441.6,354.8 L435.2,354.4 L424.7,354.4 L423.9,349.8Z M652.6,639.8 L658.8,634.6 L661.4,629.4 L667.6,625.7 L675.6,622.6 L680.3,619.5 L682.1,626.8 L687.0,622.6 L695.7,628.9 L704.8,628.9 L714.0,628.3 L723.1,628.3 L727.5,632.0 L731.8,639.8 L738.4,647.6 L745.1,652.8 L754.3,653.3 L763.4,655.4 L770.1,662.2 L772.3,671.0 L776.8,678.8 L776.8,684.0 L783.7,689.2 L799.8,690.8 L813.7,698.6 L825.2,699.6 L834.4,707.4 L844.5,711.0 L847.1,723.0 L846.3,730.8 L837.5,741.2 L831.0,751.6 L829.1,762.0 L828.9,776.1 L826.0,788.0 L822.2,798.4 L818.0,803.6 L806.9,805.2 L798.2,808.8 L790.2,819.2 L790.8,832.2 L786.3,842.6 L781.0,850.5 L774.6,859.8 L770.3,865.5 L763.8,865.5 L757.0,863.5 L752.6,863.5 L760.9,872.3 L763.0,875.9 L761.0,882.6 L751.0,885.8 L741.7,885.8 L743.4,894.6 L734.9,897.1 L735.0,904.8 L737.9,907.4 L737.6,917.7 L731.2,925.3 L739.5,931.9 L736.4,940.5 L736.4,950.5 L738.9,954.5 L734.6,955.5 L739.2,958.0 L746.5,965.5 L756.0,967.0 L746.7,970.4 L736.0,967.9 L726.1,963.0 L715.0,955.5 L705.4,943.1 L702.3,932.9 L702.5,922.8 L700.0,912.6 L698.7,902.3 L694.4,892.0 L692.6,877.5 L693.2,868.6 L694.1,855.7 L691.5,840.0 L689.9,827.0 L691.3,814.0 L690.8,803.6 L690.3,793.2 L688.5,780.2 L682.4,774.0 L665.5,763.6 L658.8,754.2 L651.5,741.2 L644.8,728.2 L637.5,717.8 L634.0,712.6 L634.8,706.4 L638.3,701.7 L636.8,694.4 L635.3,689.2 L639.0,681.4 L643.7,676.2 L644.7,671.0 L650.7,665.8 L651.8,660.6 L651.2,650.2 L650.1,645.0 L652.6,639.8Z M926.9,607.5 L930.4,593.0 L933.4,580.0 L929.9,574.8 L934.8,561.8 L941.8,548.8 L948.8,539.9 L962.3,533.2 L963.8,525.4 L965.0,514.9 L971.7,508.7 L978.3,501.9 L981.0,497.8 L997.8,501.4 L1006.5,497.8 L1019.4,492.6 L1032.3,491.6 L1043.0,491.6 L1049.4,490.0 L1054.2,491.6 L1050.9,496.8 L1054.1,500.4 L1049.9,506.1 L1054.4,510.8 L1061.1,513.4 L1073.0,516.0 L1075.4,521.2 L1088.0,526.4 L1094.4,523.3 L1094.0,516.5 L1100.3,512.9 L1107.0,514.4 L1116.1,518.6 L1125.0,520.9 L1134.0,523.3 L1144.7,520.1 L1148.3,521.2 L1156.7,521.2 L1160.7,530.6 L1158.7,538.9 L1156.0,539.4 L1150.3,528.5 L1149.9,528.0 L1152.7,535.8 L1157.9,546.2 L1165.5,559.2 L1172.0,569.6 L1175.1,585.2 L1180.8,590.4 L1186.0,603.4 L1195.6,613.8 L1204.0,619.0 L1203.8,624.2 L1209.9,629.9 L1221.2,626.3 L1230.7,624.2 L1240.2,622.1 L1239.6,629.4 L1237.6,637.2 L1231.2,652.8 L1224.5,663.2 L1215.4,673.6 L1204.1,686.6 L1197.1,694.4 L1190.1,702.2 L1186.8,710.0 L1185.2,720.4 L1187.3,730.8 L1190.7,738.6 L1190.9,756.8 L1188.0,769.8 L1174.0,777.6 L1165.8,788.0 L1166.1,798.4 L1165.5,808.8 L1153.8,816.6 L1152.4,824.4 L1149.8,834.8 L1143.0,842.6 L1138.1,847.9 L1128.7,855.7 L1119.6,859.8 L1108.7,860.9 L1102.0,862.4 L1093.2,865.0 L1086.9,861.9 L1086.3,855.7 L1084.6,847.9 L1079.6,832.8 L1074.1,824.4 L1072.9,814.0 L1071.6,803.6 L1066.9,792.2 L1059.9,777.6 L1060.1,767.2 L1063.5,754.2 L1069.1,743.8 L1066.9,730.8 L1062.9,715.2 L1061.6,710.0 L1057.0,703.2 L1049.2,689.2 L1050.1,678.8 L1051.5,668.4 L1048.7,663.2 L1045.5,660.6 L1038.6,661.1 L1031.7,661.6 L1027.1,651.2 L1018.0,651.2 L1011.1,653.3 L999.6,658.0 L992.7,657.5 L983.6,657.5 L972.1,661.1 L965.2,658.5 L956.1,649.1 L947.0,642.4 L945.6,634.6 L938.0,626.8 L930.3,619.5 L928.7,609.6 L926.9,607.5Z M1231.5,746.4 L1235.6,764.6 L1230.8,775.0 L1226.1,790.6 L1222.5,801.6 L1219.0,812.5 L1208.3,816.6 L1202.4,806.2 L1201.4,795.8 L1207.0,786.5 L1206.0,772.4 L1209.0,768.3 L1220.2,763.6 L1225.2,754.2 L1231.5,746.4Z M967.9,491.6 L968.6,483.8 L966.1,479.6 L969.4,470.9 L969.3,463.2 L967.8,460.6 L973.3,457.0 L983.7,458.0 L998.2,458.5 L1000.3,458.0 L1001.5,452.4 L1001.6,444.2 L997.6,439.1 L988.3,436.1 L987.6,432.5 L994.4,431.0 L1000.5,431.5 L1001.3,427.0 L1006.5,427.5 L1012.5,423.9 L1016.4,419.5 L1020.3,417.5 L1023.4,414.0 L1025.2,410.0 L1031.7,407.5 L1039.4,406.5 L1039.5,400.1 L1037.5,391.3 L1042.2,389.4 L1045.8,387.0 L1045.5,392.8 L1047.6,396.2 L1044.9,401.0 L1049.0,405.0 L1056.6,403.0 L1062.6,405.0 L1070.1,402.5 L1077.6,401.5 L1081.7,403.0 L1087.1,400.1 L1086.8,392.8 L1089.1,387.9 L1095.1,390.4 L1097.5,386.5 L1093.9,383.1 L1095.1,379.2 L1102.3,378.3 L1109.6,377.8 L1116.6,375.8 L1112.6,374.4 L1105.1,373.5 L1098.1,374.9 L1090.9,375.8 L1084.9,372.6 L1084.1,367.9 L1082.0,361.8 L1085.1,357.2 L1092.0,352.5 L1095.0,350.3 L1088.9,348.9 L1082.8,349.8 L1081.2,354.8 L1078.9,358.1 L1074.0,360.9 L1070.2,364.2 L1068.7,368.8 L1069.2,373.0 L1074.4,375.8 L1073.2,380.7 L1068.4,387.9 L1067.2,394.2 L1060.8,398.1 L1055.4,397.6 L1054.3,393.3 L1050.3,387.0 L1047.3,381.2 L1045.2,378.3 L1042.0,380.7 L1036.4,385.0 L1030.8,385.0 L1026.9,381.7 L1024.8,375.8 L1024.7,371.2 L1025.2,366.5 L1029.7,363.7 L1036.6,359.5 L1043.3,354.8 L1049.7,348.0 L1054.0,341.3 L1058.6,336.9 L1063.1,333.7 L1069.4,331.1 L1075.7,329.3 L1083.5,327.6 L1089.6,326.0 L1097.9,326.4 L1107.0,329.3 L1114.1,331.1 L1123.1,333.7 L1134.1,336.9 L1145.7,341.3 L1147.3,345.8 L1139.4,348.0 L1127.0,346.7 L1126.9,352.5 L1135.0,356.2 L1139.1,354.8 L1146.8,354.8 L1147.9,352.5 L1151.6,346.2 L1158.4,348.0 L1156.8,339.1 L1161.5,338.2 L1171.3,339.1 L1174.8,337.8 L1184.3,336.4 L1189.7,337.3 L1194.4,336.4 L1200.4,335.1 L1206.9,334.6 L1206.7,331.1 L1216.2,333.3 L1223.1,333.7 L1227.1,330.2 L1224.9,326.0 L1225.5,319.7 L1227.3,317.6 L1232.6,318.4 L1239.8,321.8 L1241.2,326.0 L1245.4,328.1 L1250.0,336.9 L1254.7,339.1 L1253.9,332.4 L1243.0,323.9 L1246.3,319.7 L1253.4,320.5 L1263.3,320.9 L1262.1,315.5 L1268.8,314.0 L1275.4,312.5 L1275.6,309.1 L1282.7,307.2 L1289.3,306.3 L1295.8,305.3 L1302.3,304.3 L1308.7,303.4 L1311.8,301.1 L1314.8,298.8 L1328.8,302.6 L1335.1,302.8 L1341.4,303.0 L1353.8,306.5 L1363.1,315.5 L1369.4,315.5 L1375.7,315.5 L1384.5,317.6 L1390.9,317.6 L1397.2,317.6 L1402.3,316.5 L1407.3,315.5 L1419.0,319.7 L1433.6,326.0 L1437.3,323.9 L1443.8,323.9 L1450.3,323.9 L1454.2,319.7 L1462.6,318.8 L1474.6,320.5 L1483.4,322.2 L1492.4,323.9 L1503.3,326.8 L1509.2,326.4 L1515.1,326.0 L1523.3,327.0 L1531.5,328.1 L1541.1,332.4 L1549.9,331.5 L1559.8,331.5 L1567.1,329.7 L1579.0,331.1 L1589.0,331.1 L1598.6,333.1 L1608.3,335.1 L1634.8,352.5 L1631.0,354.8 L1640.2,364.2 L1636.1,366.5 L1632.0,368.8 L1630.3,375.8 L1621.1,375.8 L1612.0,375.8 L1607.3,378.3 L1611.8,385.5 L1626.1,394.2 L1629.0,401.0 L1629.1,409.0 L1625.2,411.0 L1626.7,420.0 L1614.5,410.0 L1600.9,397.6 L1595.0,387.9 L1598.7,385.5 L1594.4,373.5 L1585.0,368.8 L1577.8,368.8 L1570.6,368.8 L1575.7,379.7 L1567.6,379.0 L1559.4,378.3 L1552.8,379.0 L1546.1,379.7 L1534.6,379.2 L1531.0,383.1 L1530.9,392.8 L1534.2,402.5 L1551.9,407.5 L1560.1,412.5 L1566.8,424.9 L1572.1,435.1 L1571.4,442.7 L1569.9,449.3 L1567.1,458.0 L1558.3,460.6 L1553.3,462.6 L1550.9,465.7 L1552.3,470.9 L1548.5,476.0 L1547.7,478.6 L1559.0,489.0 L1565.8,499.4 L1559.6,504.0 L1554.6,504.5 L1552.0,496.8 L1549.6,489.0 L1543.3,487.4 L1536.2,478.6 L1522.5,473.4 L1523.0,482.2 L1523.5,478.6 L1516.6,471.9 L1513.0,477.1 L1508.0,480.2 L1508.3,483.8 L1515.3,489.0 L1519.0,490.5 L1522.8,487.4 L1531.7,490.0 L1526.9,493.6 L1523.4,500.4 L1529.1,506.1 L1535.4,514.9 L1542.3,522.8 L1539.7,526.4 L1544.9,529.0 L1544.9,536.8 L1542.4,543.6 L1539.9,550.8 L1536.8,556.6 L1531.1,561.8 L1522.9,565.9 L1516.6,568.5 L1506.0,572.2 L1503.1,575.8 L1500.6,572.2 L1494.7,571.6 L1488.5,574.8 L1487.0,578.9 L1484.7,585.2 L1489.1,593.0 L1497.0,600.8 L1504.1,613.8 L1505.1,624.2 L1500.0,627.8 L1494.4,630.4 L1487.2,639.3 L1485.9,632.5 L1483.8,629.9 L1477.1,626.8 L1474.3,621.6 L1466.6,617.9 L1462.1,613.8 L1459.2,621.6 L1461.3,629.4 L1465.7,639.8 L1467.0,647.6 L1470.8,648.6 L1476.5,652.8 L1481.0,660.6 L1481.7,671.0 L1485.1,676.7 L1481.9,677.2 L1471.6,669.4 L1466.8,660.6 L1465.8,650.2 L1460.0,643.9 L1456.5,639.8 L1457.5,632.0 L1455.8,619.0 L1451.4,606.0 L1449.0,598.2 L1442.2,598.2 L1435.7,600.8 L1433.0,590.4 L1428.6,581.0 L1422.3,574.8 L1418.9,567.5 L1413.4,569.6 L1406.8,570.6 L1403.1,569.6 L1398.0,572.2 L1396.9,580.0 L1390.5,583.6 L1386.7,589.3 L1379.9,597.7 L1374.5,601.8 L1371.5,603.4 L1371.9,613.8 L1370.9,624.2 L1370.0,630.4 L1365.8,637.2 L1361.4,641.9 L1357.1,637.7 L1353.9,629.4 L1350.2,621.6 L1346.9,613.8 L1340.3,600.8 L1336.1,586.2 L1334.7,577.4 L1333.2,572.2 L1332.3,568.0 L1324.1,574.8 L1316.6,568.0 L1320.8,565.4 L1314.5,561.8 L1309.0,560.2 L1304.4,551.9 L1294.7,552.9 L1283.5,552.9 L1272.2,551.9 L1262.1,549.3 L1257.7,543.0 L1251.3,545.1 L1244.5,544.1 L1235.0,538.9 L1228.9,532.1 L1222.6,527.4 L1218.3,528.5 L1221.5,537.3 L1226.6,543.6 L1230.2,547.7 L1236.3,549.8 L1237.4,556.0 L1241.6,558.1 L1250.5,557.6 L1256.5,551.4 L1257.8,547.2 L1259.3,556.6 L1264.2,560.7 L1270.5,565.4 L1275.2,568.0 L1270.3,577.4 L1267.3,585.2 L1260.1,590.9 L1257.2,594.5 L1243.6,600.8 L1229.5,608.6 L1220.6,613.0 L1211.7,617.4 L1204.9,617.9 L1201.3,608.6 L1200.4,600.8 L1195.9,593.0 L1190.8,582.6 L1184.4,574.8 L1181.7,567.0 L1179.0,560.2 L1173.5,551.4 L1167.7,546.2 L1161.7,538.4 L1160.7,530.6 L1156.7,521.2 L1158.6,514.9 L1159.4,509.7 L1161.6,501.9 L1161.4,494.2 L1157.0,493.1 L1152.9,495.2 L1146.6,496.2 L1137.7,494.2 L1131.3,494.2 L1123.7,491.6 L1119.5,483.8 L1119.8,478.6 L1117.4,475.5 L1120.5,473.4 L1128.7,471.4 L1116.1,471.9 L1107.7,472.4 L1103.7,474.5 L1102.2,476.0 L1103.5,481.7 L1109.0,485.4 L1105.1,489.5 L1103.3,494.2 L1099.7,492.6 L1096.8,487.4 L1097.4,484.3 L1094.6,481.2 L1091.3,477.1 L1088.2,470.9 L1088.2,465.7 L1083.8,463.2 L1079.4,460.6 L1072.9,458.0 L1069.4,454.4 L1066.1,449.3 L1062.7,447.3 L1057.1,448.8 L1058.1,452.9 L1062.5,457.5 L1067.2,464.7 L1073.6,466.8 L1080.3,472.4 L1084.8,475.0 L1079.1,473.4 L1076.5,478.1 L1079.2,480.7 L1076.9,483.8 L1074.9,486.4 L1073.5,484.8 L1075.4,480.2 L1073.0,476.0 L1069.9,475.0 L1066.4,471.9 L1061.2,469.3 L1055.9,465.2 L1050.3,461.1 L1048.8,456.0 L1042.9,453.4 L1037.6,456.5 L1033.6,460.1 L1027.3,458.5 L1022.7,458.0 L1019.0,463.2 L1019.9,466.2 L1014.9,469.8 L1009.9,470.9 L1006.5,477.1 L1005.2,479.6 L1007.4,482.8 L1003.5,488.5 L999.2,490.5 L995.8,493.1 L987.2,493.1 L982.4,496.8 L979.4,492.6 L974.3,490.5 L967.9,491.6Z M404.7,335.1 L410.7,337.8 L413.6,342.7 L418.0,346.7 L420.2,348.0 L411.1,350.3 L398.9,355.3 L391.5,352.9 L385.4,351.1 L378.2,352.5Z M983.8,424.9 L992.6,423.4 L1002.5,421.4 L1012.0,419.0 L1013.1,411.5 L1007.7,407.5 L1005.3,402.5 L1000.8,397.6 L997.0,393.8 L999.7,387.9 L995.4,382.6 L987.9,382.6 L983.2,387.9 L985.3,393.8 L982.8,397.1 L988.1,401.0 L994.2,400.5 L994.8,408.5 L989.0,408.0 L990.0,413.5 L986.0,416.5 L994.7,418.0 L983.8,424.9Z M982.9,415.0 L982.4,407.5 L984.6,402.0 L978.9,398.6 L973.8,402.5 L967.8,405.0 L967.3,414.5 L969.1,417.0 L975.0,416.5 L982.9,415.0Z M927.1,357.6 L935.6,359.5 L946.5,357.2 L955.7,353.9 L959.5,351.6 L955.8,347.6 L949.8,345.8 L941.0,347.6 L931.9,350.3 L923.2,350.3 L929.3,354.8Z M1575.6,507.1 L1579.4,499.9 L1589.4,498.3 L1593.2,497.3 L1596.4,492.6 L1600.0,489.5 L1601.8,484.8 L1600.7,478.6 L1597.0,472.9 L1601.1,468.8 L1605.7,476.0 L1610.6,481.2 L1609.1,486.4 L1613.7,496.8 L1613.2,500.9 L1609.3,503.5 L1600.8,504.0 L1599.9,507.1 L1594.5,507.7 L1592.1,504.0 L1584.1,505.6 L1576.0,507.1Z M1571.2,510.3 L1575.6,507.1 L1582.5,512.3 L1582.8,520.7 L1578.8,521.7 L1573.0,513.9Z M1584.2,511.3 L1586.5,506.1 L1591.7,506.1 L1592.3,509.7 L1587.3,513.4Z M1594.4,468.3 L1598.5,466.8 L1606.2,465.7 L1611.4,459.0 L1604.9,455.4 L1589.8,448.3 L1591.3,452.9 L1594.7,459.6 L1590.2,459.0 L1591.5,463.7Z M1587.6,445.2 L1591.8,442.7 L1580.5,430.0 L1586.5,430.0 L1574.3,418.7 L1561.6,407.5 L1556.2,403.5 L1564.2,415.0 L1572.8,424.9 L1579.0,435.1Z M1545.5,564.4 L1549.6,569.6 L1551.2,561.8 L1551.5,554.0 L1547.5,554.0Z M1497.2,584.1 L1502.8,579.4 L1507.8,582.0 L1506.4,587.8 L1502.1,589.3 L1497.7,587.3Z M1551.6,587.8 L1559.3,587.8 L1561.1,595.6 L1558.5,601.8 L1565.7,611.2 L1572.7,616.4 L1569.2,613.8 L1560.6,610.1 L1555.5,609.6 L1551.5,600.8Z M1565.6,647.6 L1572.1,642.9 L1580.6,633.5 L1585.2,639.8 L1585.1,651.2 L1581.2,654.9 L1574.9,650.2Z M1564.2,629.4 L1572.1,619.0 L1580.8,626.8 L1578.2,632.0 L1569.4,636.1Z M1507.1,676.2 L1509.8,673.6 L1516.3,676.2 L1525.3,667.9 L1534.2,658.0 L1542.2,647.6 L1546.2,652.8 L1552.5,657.0 L1548.0,661.6 L1546.4,668.4 L1552.7,678.8 L1547.7,680.4 L1543.9,689.2 L1541.4,697.0 L1538.9,703.8 L1532.1,702.7 L1525.3,700.6 L1519.3,699.6 L1512.4,699.1 L1511.7,691.8 L1507.3,685.6Z M1443.6,654.9 L1453.8,657.0 L1467.1,672.6 L1472.6,674.6 L1483.0,684.0 L1486.5,691.8 L1493.1,699.6 L1491.7,714.2 L1485.7,714.7 L1476.0,704.8 L1470.3,697.0 L1465.9,689.2 L1459.3,675.2 L1452.2,666.8Z M1488.6,719.4 L1492.6,714.7 L1503.0,716.2 L1512.9,719.4 L1522.1,719.9 L1530.9,724.6 L1530.2,729.3 L1519.3,727.2 L1503.5,724.6 L1494.0,722.5Z M1573.6,736.0 L1578.6,730.8 L1589.3,727.7 L1578.4,733.4 L1573.5,737.6Z M1554.9,728.7 L1569.7,726.7 L1568.6,729.3 L1555.7,730.3Z M1541.2,728.2 L1551.4,726.7 L1550.3,729.8 L1542.0,730.8Z M1554.6,712.6 L1558.3,712.6 L1559.7,699.6 L1562.1,697.5 L1568.6,709.0 L1571.8,708.4 L1564.5,693.4 L1573.4,688.7 L1563.7,689.2 L1558.3,681.4 L1562.3,677.2 L1576.2,681.9 L1581.5,676.2 L1578.4,680.4 L1568.1,680.4 L1557.8,680.4 L1557.0,684.0 L1552.0,698.0Z M1608.2,690.2 L1615.3,686.1 L1622.5,688.7 L1622.7,696.0 L1628.5,701.2 L1638.0,691.8 L1649.3,696.5 L1659.6,700.1 L1669.8,703.8 L1676.2,712.6 L1683.3,715.2 L1679.8,724.6 L1684.9,729.3 L1692.3,737.6 L1682.4,736.5 L1675.1,725.6 L1666.1,723.5 L1662.3,731.3 L1651.8,731.3 L1643.0,726.1 L1639.7,727.7 L1636.5,727.7 L1638.7,723.0 L1642.0,721.5 L1639.1,711.6 L1628.3,706.9 L1620.2,702.7 L1612.5,698.6 L1619.5,695.4 L1612.3,691.8Z M1516.8,798.4 L1515.8,810.1 L1514.1,821.8 L1514.0,837.4 L1513.2,847.9 L1507.2,858.8 L1511.1,866.1 L1517.6,866.1 L1528.2,860.9 L1543.6,860.3 L1557.7,852.0 L1572.2,848.4 L1582.1,847.9 L1592.5,854.6 L1594.7,865.0 L1608.7,853.6 L1604.5,860.3 L1606.9,865.0 L1602.7,869.2 L1605.7,877.5 L1608.2,881.6 L1617.5,885.8 L1628.6,887.3 L1638.4,881.1 L1649.0,879.0 L1655.1,869.7 L1665.5,858.3 L1674.3,850.5 L1681.8,840.0 L1686.8,832.2 L1689.6,816.6 L1688.6,813.0 L1683.5,806.2 L1680.7,799.5 L1677.4,790.6 L1667.8,782.8 L1667.6,772.4 L1667.5,762.0 L1660.0,756.8 L1659.8,741.2 L1657.8,739.7 L1652.2,750.6 L1650.2,762.0 L1643.6,775.0 L1636.8,772.4 L1628.9,766.2 L1622.9,762.0 L1630.7,747.5 L1627.2,745.9 L1613.9,743.3 L1607.2,742.3 L1600.8,749.0 L1595.7,761.0 L1588.8,762.0 L1582.6,756.8 L1576.7,759.9 L1570.2,769.3 L1564.7,769.8 L1559.8,777.6 L1553.0,785.4 L1543.6,788.0 L1533.8,791.7 L1526.5,794.8 L1520.2,797.4Z M1616.5,895.6 L1631.4,896.6 L1622.9,907.4 L1616.6,910.5 L1614.8,903.8Z M1757.8,862.4 L1758.9,871.3 L1760.0,875.9 L1758.6,880.0 L1765.3,881.9 L1758.2,888.8 L1753.9,892.4 L1744.0,899.5 L1743.4,897.7 L1749.0,891.5 L1747.9,886.9 L1753.5,881.3 L1756.9,873.7Z M1735.3,897.1 L1738.6,899.3 L1728.1,906.0 L1722.9,909.5 L1713.8,913.6 L1705.9,919.5 L1696.9,923.4 L1686.7,924.5 L1693.7,919.6 L1703.1,914.6 L1716.3,908.7 L1725.1,903.2Z M1372.4,651.8 L1375.7,653.3 L1381.4,647.6 L1378.2,639.8 L1372.9,633.0 L1372.0,642.4Z M792.9,295.7 L803.6,291.9 L813.9,288.4 L822.9,286.4 L831.8,284.4 L837.7,284.0 L843.6,283.6 L849.4,283.2 L856.1,282.9 L862.8,282.5 L869.4,282.2 L876.3,281.5 L883.2,280.8 L890.0,280.1 L895.5,279.8 L901.1,279.6 L906.6,279.3 L912.1,279.1 L917.7,278.9 L922.9,279.2 L928.2,279.5 L933.4,279.8 L938.7,280.1 L945.0,281.6 L951.4,283.2 L944.7,286.9 L951.3,288.4 L958.0,289.9 L949.4,295.7 L951.0,301.5 L943.1,309.1 L938.6,315.5 L935.7,321.8 L928.1,326.8 L934.1,328.9 L923.3,333.3 L914.4,335.7 L905.4,338.2 L894.4,341.3 L881.9,348.9 L872.8,350.3 L863.7,357.2 L856.1,364.2 L849.5,373.5 L843.2,375.8 L839.0,372.1 L831.1,368.8 L828.0,362.8 L826.6,357.2 L826.0,350.3 L823.8,343.6 L828.5,336.9 L836.6,333.7 L834.2,328.1 L828.4,326.8 L829.0,319.7 L828.3,312.5 L826.9,307.2 L818.3,304.5 L811.1,304.9 L804.0,305.3 L798.0,303.4 L792.8,300.7Z M753.1,314.6 L760.9,318.8 L765.4,321.3 L770.0,323.9 L776.8,328.1 L782.3,332.4 L781.9,339.1 L788.0,341.8 L794.3,344.4 L784.3,350.3 L778.4,354.8 L777.2,360.9 L770.8,366.5 L764.3,361.8 L759.0,358.3 L753.9,354.8 L742.8,355.8 L732.8,354.8 L737.4,350.3 L752.4,345.8 L758.6,341.3 L749.8,339.1 L747.3,330.2 L739.9,330.2 L732.4,330.2 L723.3,329.3 L717.8,328.1 L717.3,323.0 L727.5,319.7 L737.5,316.3 L750.0,314.6Z M614.7,332.4 L620.8,334.6 L627.0,336.9 L635.0,336.1 L642.9,335.4 L650.8,334.6 L660.2,333.5 L669.4,332.4 L670.7,326.0 L669.8,317.6 L663.4,317.6 L657.1,317.6 L647.1,318.0 L639.7,318.8 L632.4,319.7 L619.4,323.9 L619.3,328.1Z M601.5,322.6 L618.3,314.2 L625.6,313.4 L632.9,312.5 L635.7,315.5 L616.2,323.9 L605.5,326.0Z M737.6,303.4 L743.2,303.8 L748.8,304.2 L754.5,304.5 L761.9,303.2 L769.3,301.8 L778.2,298.8 L787.0,295.7 L796.9,292.8 L806.7,289.9 L816.1,287.6 L825.3,285.3 L836.5,282.2 L831.4,281.9 L826.3,281.5 L821.2,281.1 L816.1,280.7 L810.7,280.7 L805.3,280.7 L799.8,280.7 L794.4,280.7 L788.9,280.7 L782.1,281.9 L775.2,283.0 L768.3,284.2 L761.2,285.3 L748.8,288.4 L740.6,289.2 L732.4,289.9 L734.8,292.8 L737.3,295.7Z M757.4,311.3 L751.1,311.3 L744.9,311.3 L738.7,311.3 L732.5,311.3 L728.1,309.1 L724.1,307.2 L736.1,303.4 L742.9,304.0 L749.8,304.7 L756.8,305.3 L757.4,311.3Z M725.6,295.7 L732.9,294.4 L740.2,293.1 L747.4,291.9 L745.5,288.7 L743.7,285.9 L730.5,289.3Z M693.1,319.7 L683.5,319.7 L683.0,315.5 L692.7,314.4 L702.4,313.4Z M704.0,321.8 L700.4,315.5 L707.4,314.8 L714.3,314.1 L721.2,313.4 L719.0,317.6Z M647.7,309.1 L656.8,308.2 L665.8,307.2 L674.5,306.5 L683.2,305.7 L683.2,302.2 L674.9,302.2 L666.7,302.2 L653.4,304.2Z M696.5,307.2 L701.9,307.8 L707.4,308.4 L713.4,303.4 L707.3,303.4 L701.3,303.4Z M704.4,358.1 L717.9,356.2 L721.2,359.5 L709.4,364.2 L703.6,353.9 L708.9,348.0 L714.1,348.9Z M766.3,437.1 L780.4,441.7 L790.6,441.7 L793.0,437.1 L791.8,430.0 L783.5,426.4 L787.7,417.5 L780.4,421.4 L768.9,432.5Z M624.7,570.1 L636.2,564.9 L647.6,563.8 L658.0,570.1 L666.3,575.3 L671.8,578.9 L658.1,580.0 L656.4,575.8 L653.3,571.6 L642.4,568.5 L631.3,568.0Z M669.4,588.3 L679.2,580.5 L688.2,581.0 L697.1,587.3 L689.7,589.3 L682.6,591.9 L673.8,589.3Z M652.2,588.3 L661.5,590.4 L658.7,591.4 L652.1,589.3Z M702.5,587.8 L709.7,588.3 L708.6,590.4 L702.3,590.4Z M1038.7,295.7 L1048.1,299.5 L1057.8,303.0 L1062.6,297.6 L1070.9,295.7 L1077.6,293.8 L1084.2,291.9 L1076.4,289.9 L1068.8,288.4 L1061.9,289.2 L1055.0,289.9 L1049.4,290.2 L1043.7,290.4 L1038.0,290.7Z M1174.9,323.9 L1188.4,327.6 L1194.7,327.2 L1181.2,317.6 L1184.0,311.3 L1188.3,308.2 L1192.3,305.3 L1198.4,304.0 L1204.4,302.7 L1210.4,301.5 L1204.8,305.7 L1199.2,308.4 L1193.3,311.3 L1184.6,316.3 L1178.7,321.8Z M1282.2,293.8 L1288.3,292.8 L1294.4,291.9 L1301.3,292.8 L1308.4,293.8 L1298.9,290.9 L1289.7,288.4 L1279.9,287.5Z M1430.3,309.1 L1436.3,308.2 L1442.4,307.2 L1449.5,307.8 L1456.7,308.4 L1454.9,311.3 L1452.9,314.2 L1445.4,313.4 L1438.0,312.5Z M1140.3,289.3 L1145.6,288.9 L1150.9,288.4 L1156.2,287.9 L1161.5,287.5 L1167.9,287.3 L1174.3,287.1 L1180.7,286.9 L1176.7,288.7 L1172.6,290.7 L1166.9,290.7 L1161.2,290.7 L1155.4,290.7 L1149.7,290.7Z M1586.9,325.1 L1589.6,323.9 L1594.1,326.4Z M637.8,303.4 L648.3,301.5 L658.5,299.5 L660.6,302.2 L651.8,304.2 L642.9,306.1Z M699.7,297.6 L707.5,296.1 L715.3,294.5 L714.4,297.6 L703.1,299.5Z M722.6,295.7 L732.8,294.5 L726.2,297.6 L719.4,298.4Z M708.7,310.0 L719.7,308.4 L719.8,305.7 L711.8,307.2Z M674.0,336.9 L685.9,334.6 L685.9,330.6 L677.7,332.4Z M752.4,317.6 L758.7,317.6 L765.1,317.6 L761.0,314.6Z M708.8,365.1 L717.1,363.2 L714.4,361.8Z M676.1,297.6 L687.5,295.7 L686.7,294.2 L675.8,295.7Z M672.3,300.3 L683.9,298.4 L676.1,297.6Z M668.9,307.2 L674.7,307.5 L680.5,307.7 L686.3,308.0 L687.7,304.5 L680.1,304.5 L672.5,304.5Z M1686.7,712.6 L1694.8,710.0 L1701.8,705.8 L1705.5,706.4 L1699.1,712.6 L1689.7,716.2Z M1697.5,697.0 L1704.3,700.6 L1708.6,707.4 L1706.3,709.0 L1701.9,703.8 L1697.5,698.6Z M1717.3,715.2 L1725.7,723.0 L1734.7,725.6 L1743.1,733.4 L1747.0,738.6 L1742.4,739.1 L1736.2,733.4 L1727.6,728.2 L1719.1,720.4Z M1746.6,788.0 L1752.0,793.2 L1756.9,800.0 L1754.4,801.0 L1749.1,795.8 L1745.3,789.6Z M1764.3,759.4 L1767.8,764.6 L1771.2,769.8 L1773.3,780.2 L1770.8,781.3 L1768.3,772.4 L1764.7,764.6Z M1809.8,775.0 L1816.0,774.0 L1814.4,778.7 L1809.5,778.1Z M1543.1,640.3 L1549.7,630.9 L1552.8,625.7 L1551.4,625.2 L1546.2,632.0 L1542.1,638.7Z M1555.5,613.8 L1560.3,615.3 L1559.5,620.0 L1555.6,618.5Z M1592.1,676.2 L1596.9,681.4 L1594.5,688.2 L1592.3,684.0Z M1594.1,699.6 L1605.6,700.6 L1606.9,703.8 L1596.3,702.7Z M1585.0,700.1 L1590.4,701.2 L1589.4,703.8 L1585.3,703.2Z M1530.8,726.1 L1536.2,727.7 L1540.4,727.2 L1539.7,730.3 L1532.9,729.8Z M1550.9,733.4 L1559.0,735.5 L1557.9,737.6 L1551.8,735.0Z M303.2,578.9 L306.7,581.0 L305.1,584.6 L301.7,583.6Z M1281.4,941.6 L1289.5,938.0 L1286.8,942.1Z M300.0,1150.0 L480.0,1095.0 L512.0,1084.0 L526.0,1071.0 L545.0,1066.0 L556.0,1060.0 L601.0,1053.0 L639.0,1055.0 L677.0,1045.0 L715.0,1049.0 L768.0,1049.0 L785.0,1025.0 L802.0,1009.0 L790.0,1015.0 L779.0,1032.0 L798.0,1051.0 L779.0,1066.0 L783.0,1077.0 L829.0,1085.0 L867.0,1074.0 L923.0,1077.0 L942.0,1058.0 L980.0,1043.0 L1018.0,1040.0 L1056.0,1036.0 L1100.0,1032.0 L1150.0,1028.0 L1164.0,1025.0 L1189.0,1020.0 L1201.5,1025.0 L1226.5,1030.0 L1234.0,1037.5 L1226.5,1047.5 L1244.0,1042.5 L1269.0,1030.0 L1289.0,1025.0 L1314.0,1022.5 L1339.0,1022.5 L1364.0,1020.0 L1389.0,1020.0 L1414.0,1025.0 L1439.0,1022.5 L1474.0,1020.0 L1504.0,1027.5 L1510.0,1030.0 L1540.0,1037.5 L1560.0,1045.0 L1540.0,1050.0 L1500.0,1065.0 L1487.5,1072.5 L1457.5,1077.5 L1455.0,1085.0 L1475.0,1090.0 L1500.0,1085.0 L1525.0,1075.0 L1540.0,1070.0 L1600.0,1060.0 L1700.0,1060.0 L1700.0,1150.0Z" fill="#fff"/>
<path d="M1124.3,469.8 L1128.6,470.4 L1137.0,470.4 L1146.8,465.7 L1153.1,465.7 L1160.0,469.3 L1166.5,470.9 L1175.0,470.9 L1180.8,468.3 L1180.5,462.1 L1172.6,458.0 L1163.4,452.9 L1160.7,449.3 L1156.9,448.8 L1150.6,450.3 L1144.8,452.9 L1140.1,448.8 L1143.6,445.2 L1134.9,442.2 L1131.8,443.2 L1128.6,448.8 L1125.2,453.9 L1123.1,460.6 L1122.9,465.7Z" fill="#1b46fc"/>
<g fill="none" stroke="#b4b4b4" stroke-width="5" stroke-dasharray="5 9.8" opacity="0.9">
<path d="M346.0,992.2 L364.3,992.2 L382.7,992.2 L401.0,992.2 L419.4,992.2 L437.7,992.2 L456.1,992.2 L474.4,992.2 L492.8,992.2 L511.1,992.2 L529.5,992.2 L547.8,992.2 L566.2,992.2 L584.5,992.2 L602.9,992.2 L621.2,992.2 L639.6,992.2 L657.9,992.2 L676.2,992.2 L694.6,992.2 L712.9,992.2 L731.3,992.2 L749.6,992.2 L768.0,992.2 L786.3,992.2 L804.7,992.2 L823.0,992.2 L841.4,992.2 L859.7,992.2 L878.1,992.2 L896.4,992.2 L914.8,992.2 L933.1,992.2 L951.5,992.2 L969.8,992.2 L988.2,992.2 L1006.5,992.2 L1024.8,992.2 L1043.2,992.2 L1061.5,992.2 L1079.9,992.2 L1098.2,992.2 L1116.6,992.2 L1134.9,992.2 L1153.3,992.2 L1171.6,992.2 L1190.0,992.2 L1208.3,992.2 L1226.7,992.2 L1245.0,992.2 L1263.4,992.2 L1281.7,992.2 L1300.1,992.2 L1318.4,992.2 L1336.8,992.2 L1355.1,992.2 L1373.4,992.2 L1391.8,992.2 L1410.1,992.2 L1428.5,992.2 L1446.8,992.2 L1465.2,992.2 L1483.5,992.2 L1501.9,992.2 L1520.2,992.2 L1538.6,992.2 L1556.9,992.2 L1575.3,992.2 L1593.6,992.2 L1612.0,992.2 L1630.3,992.2 L1648.7,992.2 L1667.0,992.2"/>
<path d="M212.5,840.0 L234.6,840.0 L256.6,840.0 L278.7,840.0 L300.7,840.0 L322.8,840.0 L344.8,840.0 L366.9,840.0 L388.9,840.0 L411.0,840.0 L433.1,840.0 L455.1,840.0 L477.2,840.0 L499.2,840.0 L521.3,840.0 L543.3,840.0 L565.4,840.0 L587.4,840.0 L609.5,840.0 L631.6,840.0 L653.6,840.0 L675.7,840.0 L697.7,840.0 L719.8,840.0 L741.8,840.0 L763.9,840.0 L785.9,840.0 L808.0,840.0 L830.1,840.0 L852.1,840.0 L874.2,840.0 L896.2,840.0 L918.3,840.0 L940.3,840.0 L962.4,840.0 L984.4,840.0 L1006.5,840.0 L1028.6,840.0 L1050.6,840.0 L1072.7,840.0 L1094.7,840.0 L1116.8,840.0 L1138.8,840.0 L1160.9,840.0 L1182.9,840.0 L1205.0,840.0 L1227.1,840.0 L1249.1,840.0 L1271.2,840.0 L1293.2,840.0 L1315.3,840.0 L1337.3,840.0 L1359.4,840.0 L1381.4,840.0 L1403.5,840.0 L1425.6,840.0 L1447.6,840.0 L1469.7,840.0 L1491.7,840.0 L1513.8,840.0 L1535.8,840.0 L1557.9,840.0 L1579.9,840.0 L1602.0,840.0 L1624.1,840.0 L1646.1,840.0 L1668.2,840.0 L1690.2,840.0 L1712.3,840.0 L1734.3,840.0 L1756.4,840.0 L1778.4,840.0 L1800.5,840.0"/>
<path d="M179.4,684.0 L202.4,684.0 L225.4,684.0 L248.3,684.0 L271.3,684.0 L294.3,684.0 L317.3,684.0 L340.2,684.0 L363.2,684.0 L386.2,684.0 L409.2,684.0 L432.1,684.0 L455.1,684.0 L478.1,684.0 L501.1,684.0 L524.0,684.0 L547.0,684.0 L570.0,684.0 L593.0,684.0 L615.9,684.0 L638.9,684.0 L661.9,684.0 L684.9,684.0 L707.8,684.0 L730.8,684.0 L753.8,684.0 L776.8,684.0 L799.7,684.0 L822.7,684.0 L845.7,684.0 L868.7,684.0 L891.6,684.0 L914.6,684.0 L937.6,684.0 L960.6,684.0 L983.5,684.0 L1006.5,684.0 L1029.5,684.0 L1052.4,684.0 L1075.4,684.0 L1098.4,684.0 L1121.4,684.0 L1144.3,684.0 L1167.3,684.0 L1190.3,684.0 L1213.3,684.0 L1236.2,684.0 L1259.2,684.0 L1282.2,684.0 L1305.2,684.0 L1328.1,684.0 L1351.1,684.0 L1374.1,684.0 L1397.1,684.0 L1420.0,684.0 L1443.0,684.0 L1466.0,684.0 L1489.0,684.0 L1511.9,684.0 L1534.9,684.0 L1557.9,684.0 L1580.9,684.0 L1603.8,684.0 L1626.8,684.0 L1649.8,684.0 L1672.8,684.0 L1695.7,684.0 L1718.7,684.0 L1741.7,684.0 L1764.7,684.0 L1787.6,684.0 L1810.6,684.0 L1833.6,684.0"/>
<path d="M212.5,528.0 L234.6,528.0 L256.6,528.0 L278.7,528.0 L300.7,528.0 L322.8,528.0 L344.8,528.0 L366.9,528.0 L388.9,528.0 L411.0,528.0 L433.1,528.0 L455.1,528.0 L477.2,528.0 L499.2,528.0 L521.3,528.0 L543.3,528.0 L565.4,528.0 L587.4,528.0 L609.5,528.0 L631.6,528.0 L653.6,528.0 L675.7,528.0 L697.7,528.0 L719.8,528.0 L741.8,528.0 L763.9,528.0 L785.9,528.0 L808.0,528.0 L830.1,528.0 L852.1,528.0 L874.2,528.0 L896.2,528.0 L918.3,528.0 L940.3,528.0 L962.4,528.0 L984.4,528.0 L1006.5,528.0 L1028.6,528.0 L1050.6,528.0 L1072.7,528.0 L1094.7,528.0 L1116.8,528.0 L1138.8,528.0 L1160.9,528.0 L1182.9,528.0 L1205.0,528.0 L1227.1,528.0 L1249.1,528.0 L1271.2,528.0 L1293.2,528.0 L1315.3,528.0 L1337.3,528.0 L1359.4,528.0 L1381.4,528.0 L1403.5,528.0 L1425.6,528.0 L1447.6,528.0 L1469.7,528.0 L1491.7,528.0 L1513.8,528.0 L1535.8,528.0 L1557.9,528.0 L1579.9,528.0 L1602.0,528.0 L1624.1,528.0 L1646.1,528.0 L1668.2,528.0 L1690.2,528.0 L1712.3,528.0 L1734.3,528.0 L1756.4,528.0 L1778.4,528.0 L1800.5,528.0"/>
<path d="M346.0,375.8 L364.3,375.8 L382.7,375.8 L401.0,375.8 L419.4,375.8 L437.7,375.8 L456.1,375.8 L474.4,375.8 L492.8,375.8 L511.1,375.8 L529.5,375.8 L547.8,375.8 L566.2,375.8 L584.5,375.8 L602.9,375.8 L621.2,375.8 L639.6,375.8 L657.9,375.8 L676.2,375.8 L694.6,375.8 L712.9,375.8 L731.3,375.8 L749.6,375.8 L768.0,375.8 L786.3,375.8 L804.7,375.8 L823.0,375.8 L841.4,375.8 L859.7,375.8 L878.1,375.8 L896.4,375.8 L914.8,375.8 L933.1,375.8 L951.5,375.8 L969.8,375.8 L988.2,375.8 L1006.5,375.8 L1024.8,375.8 L1043.2,375.8 L1061.5,375.8 L1079.9,375.8 L1098.2,375.8 L1116.6,375.8 L1134.9,375.8 L1153.3,375.8 L1171.6,375.8 L1190.0,375.8 L1208.3,375.8 L1226.7,375.8 L1245.0,375.8 L1263.4,375.8 L1281.7,375.8 L1300.1,375.8 L1318.4,375.8 L1336.8,375.8 L1355.1,375.8 L1373.4,375.8 L1391.8,375.8 L1410.1,375.8 L1428.5,375.8 L1446.8,375.8 L1465.2,375.8 L1483.5,375.8 L1501.9,375.8 L1520.2,375.8 L1538.6,375.8 L1556.9,375.8 L1575.3,375.8 L1593.6,375.8 L1612.0,375.8 L1630.3,375.8 L1648.7,375.8 L1667.0,375.8"/>
<path d="M713.1,1103.5 L704.2,1099.5 L695.4,1095.5 L685.6,1090.4 L674.8,1084.2 L663.9,1078.1 L652.5,1070.4 L641.0,1062.7 L630.3,1054.6 L620.3,1046.2 L610.3,1037.8 L601.2,1028.9 L592.1,1020.0 L583.3,1010.8 L574.7,1001.5 L566.2,992.2 L558.1,982.5 L550.1,972.8 L542.5,963.0 L535.2,953.0 L528.0,943.1 L521.7,932.9 L515.5,922.8 L509.5,912.6 L503.9,902.3 L498.3,892.0 L493.7,881.6 L489.0,871.2 L484.8,860.9 L481.0,850.5 L477.2,840.0 L474.3,829.6 L471.4,819.2 L469.0,808.8 L467.0,798.4 L464.9,788.0 L463.2,777.6 L461.5,767.2 L460.0,756.8 L458.8,746.4 L457.7,736.0 L456.9,725.6 L456.2,715.2 L455.7,704.8 L455.4,694.4 L455.1,684.0 L455.4,673.6 L455.7,663.2 L456.2,652.8 L456.9,642.4 L457.7,632.0 L458.8,621.6 L460.0,611.2 L461.5,600.8 L463.2,590.4 L464.9,580.0 L467.0,569.6 L469.0,559.2 L471.4,548.8 L474.3,538.4 L477.2,528.0 L481.0,517.5 L484.8,507.1 L489.0,496.8 L493.7,486.4 L498.3,476.0 L503.9,465.7 L509.5,455.4 L515.5,445.2 L521.7,435.1 L528.0,424.9 L535.2,415.0 L542.5,405.0 L550.1,395.2 L558.1,385.5 L566.2,375.8 L574.7,366.5 L583.3,357.2 L592.1,348.0 L601.2,339.1 L610.3,330.2 L620.3,321.8 L630.3,313.4 L641.0,305.3 L652.5,297.6 L663.9,289.9 L674.8,283.8 L685.6,277.6 L695.4,272.5 L704.2,268.5 L713.1,264.5"/>
<path d="M859.8,1103.5 L855.4,1099.5 L851.0,1095.5 L846.0,1090.4 L840.6,1084.2 L835.2,1078.1 L829.5,1070.4 L823.8,1062.7 L818.4,1054.6 L813.4,1046.2 L808.4,1037.8 L803.9,1028.9 L799.3,1020.0 L794.9,1010.8 L790.6,1001.5 L786.3,992.2 L782.3,982.5 L778.3,972.8 L774.5,963.0 L770.9,953.0 L767.2,943.1 L764.1,932.9 L761.0,922.8 L758.0,912.6 L755.2,902.3 L752.4,892.0 L750.1,881.6 L747.8,871.2 L745.7,860.9 L743.7,850.5 L741.8,840.0 L740.4,829.6 L739.0,819.2 L737.7,808.8 L736.7,798.4 L735.7,788.0 L734.9,777.6 L734.0,767.2 L733.3,756.8 L732.7,746.4 L732.1,736.0 L731.7,725.6 L731.4,715.2 L731.1,704.8 L731.0,694.4 L730.8,684.0 L731.0,673.6 L731.1,663.2 L731.4,652.8 L731.7,642.4 L732.1,632.0 L732.7,621.6 L733.3,611.2 L734.0,600.8 L734.9,590.4 L735.7,580.0 L736.7,569.6 L737.7,559.2 L739.0,548.8 L740.4,538.4 L741.8,528.0 L743.7,517.5 L745.7,507.1 L747.8,496.8 L750.1,486.4 L752.4,476.0 L755.2,465.7 L758.0,455.4 L761.0,445.2 L764.1,435.1 L767.2,424.9 L770.9,415.0 L774.5,405.0 L778.3,395.2 L782.3,385.5 L786.3,375.8 L790.6,366.5 L794.9,357.2 L799.3,348.0 L803.9,339.1 L808.4,330.2 L813.4,321.8 L818.4,313.4 L823.8,305.3 L829.5,297.6 L835.2,289.9 L840.6,283.8 L846.0,277.6 L851.0,272.5 L855.4,268.5 L859.8,264.5"/>
<path d="M1006.5,1103.5 L1006.5,1099.5 L1006.5,1095.5 L1006.5,1090.4 L1006.5,1084.2 L1006.5,1078.1 L1006.5,1070.4 L1006.5,1062.7 L1006.5,1054.6 L1006.5,1046.2 L1006.5,1037.8 L1006.5,1028.9 L1006.5,1020.0 L1006.5,1010.8 L1006.5,1001.5 L1006.5,992.2 L1006.5,982.5 L1006.5,972.8 L1006.5,963.0 L1006.5,953.0 L1006.5,943.1 L1006.5,932.9 L1006.5,922.8 L1006.5,912.6 L1006.5,902.3 L1006.5,892.0 L1006.5,881.6 L1006.5,871.2 L1006.5,860.9 L1006.5,850.5 L1006.5,840.0 L1006.5,829.6 L1006.5,819.2 L1006.5,808.8 L1006.5,798.4 L1006.5,788.0 L1006.5,777.6 L1006.5,767.2 L1006.5,756.8 L1006.5,746.4 L1006.5,736.0 L1006.5,725.6 L1006.5,715.2 L1006.5,704.8 L1006.5,694.4 L1006.5,684.0 L1006.5,673.6 L1006.5,663.2 L1006.5,652.8 L1006.5,642.4 L1006.5,632.0 L1006.5,621.6 L1006.5,611.2 L1006.5,600.8 L1006.5,590.4 L1006.5,580.0 L1006.5,569.6 L1006.5,559.2 L1006.5,548.8 L1006.5,538.4 L1006.5,528.0 L1006.5,517.5 L1006.5,507.1 L1006.5,496.8 L1006.5,486.4 L1006.5,476.0 L1006.5,465.7 L1006.5,455.4 L1006.5,445.2 L1006.5,435.1 L1006.5,424.9 L1006.5,415.0 L1006.5,405.0 L1006.5,395.2 L1006.5,385.5 L1006.5,375.8 L1006.5,366.5 L1006.5,357.2 L1006.5,348.0 L1006.5,339.1 L1006.5,330.2 L1006.5,321.8 L1006.5,313.4 L1006.5,305.3 L1006.5,297.6 L1006.5,289.9 L1006.5,283.8 L1006.5,277.6 L1006.5,272.5 L1006.5,268.5 L1006.5,264.5"/>
<path d="M1153.2,1103.5 L1157.6,1099.5 L1162.0,1095.5 L1167.0,1090.4 L1172.4,1084.2 L1177.8,1078.1 L1183.5,1070.4 L1189.2,1062.7 L1194.6,1054.6 L1199.6,1046.2 L1204.6,1037.8 L1209.1,1028.9 L1213.7,1020.0 L1218.1,1010.8 L1222.4,1001.5 L1226.7,992.2 L1230.7,982.5 L1234.7,972.8 L1238.5,963.0 L1242.1,953.0 L1245.8,943.1 L1248.9,932.9 L1252.0,922.8 L1255.0,912.6 L1257.8,902.3 L1260.6,892.0 L1262.9,881.6 L1265.2,871.2 L1267.3,860.9 L1269.3,850.5 L1271.2,840.0 L1272.6,829.6 L1274.0,819.2 L1275.3,808.8 L1276.3,798.4 L1277.3,788.0 L1278.1,777.6 L1279.0,767.2 L1279.7,756.8 L1280.3,746.4 L1280.9,736.0 L1281.3,725.6 L1281.6,715.2 L1281.9,704.8 L1282.0,694.4 L1282.2,684.0 L1282.0,673.6 L1281.9,663.2 L1281.6,652.8 L1281.3,642.4 L1280.9,632.0 L1280.3,621.6 L1279.7,611.2 L1279.0,600.8 L1278.1,590.4 L1277.3,580.0 L1276.3,569.6 L1275.3,559.2 L1274.0,548.8 L1272.6,538.4 L1271.2,528.0 L1269.3,517.5 L1267.3,507.1 L1265.2,496.8 L1262.9,486.4 L1260.6,476.0 L1257.8,465.7 L1255.0,455.4 L1252.0,445.2 L1248.9,435.1 L1245.8,424.9 L1242.1,415.0 L1238.5,405.0 L1234.7,395.2 L1230.7,385.5 L1226.7,375.8 L1222.4,366.5 L1218.1,357.2 L1213.7,348.0 L1209.1,339.1 L1204.6,330.2 L1199.6,321.8 L1194.6,313.4 L1189.2,305.3 L1183.5,297.6 L1177.8,289.9 L1172.4,283.8 L1167.0,277.6 L1162.0,272.5 L1157.6,268.5 L1153.2,264.5"/>
<path d="M1299.9,1103.5 L1308.8,1099.5 L1317.6,1095.5 L1327.4,1090.4 L1338.2,1084.2 L1349.1,1078.1 L1360.5,1070.4 L1372.0,1062.7 L1382.7,1054.6 L1392.7,1046.2 L1402.7,1037.8 L1411.8,1028.9 L1420.9,1020.0 L1429.7,1010.8 L1438.3,1001.5 L1446.8,992.2 L1454.9,982.5 L1462.9,972.8 L1470.5,963.0 L1477.8,953.0 L1485.0,943.1 L1491.3,932.9 L1497.5,922.8 L1503.5,912.6 L1509.1,902.3 L1514.7,892.0 L1519.3,881.6 L1524.0,871.2 L1528.2,860.9 L1532.0,850.5 L1535.8,840.0 L1538.7,829.6 L1541.6,819.2 L1544.0,808.8 L1546.0,798.4 L1548.1,788.0 L1549.8,777.6 L1551.5,767.2 L1553.0,756.8 L1554.2,746.4 L1555.3,736.0 L1556.1,725.6 L1556.8,715.2 L1557.3,704.8 L1557.6,694.4 L1557.9,684.0 L1557.6,673.6 L1557.3,663.2 L1556.8,652.8 L1556.1,642.4 L1555.3,632.0 L1554.2,621.6 L1553.0,611.2 L1551.5,600.8 L1549.8,590.4 L1548.1,580.0 L1546.0,569.6 L1544.0,559.2 L1541.6,548.8 L1538.7,538.4 L1535.8,528.0 L1532.0,517.5 L1528.2,507.1 L1524.0,496.8 L1519.3,486.4 L1514.7,476.0 L1509.1,465.7 L1503.5,455.4 L1497.5,445.2 L1491.3,435.1 L1485.0,424.9 L1477.8,415.0 L1470.5,405.0 L1462.9,395.2 L1454.9,385.5 L1446.8,375.8 L1438.3,366.5 L1429.7,357.2 L1420.9,348.0 L1411.8,339.1 L1402.7,330.2 L1392.7,321.8 L1382.7,313.4 L1372.0,305.3 L1360.5,297.6 L1349.1,289.9 L1338.2,283.8 L1327.4,277.6 L1317.6,272.5 L1308.8,268.5 L1299.9,264.5"/>
</g>
<path d="M423.9,349.8 L450.9,335.5 L469.7,329.3 L478.9,327.8 L488.1,326.2 L497.3,324.7 L503.5,325.8 L509.7,326.8 L515.9,327.8 L522.1,328.8 L528.3,329.7 L533.5,330.8 L538.8,332.0 L545.5,333.3 L552.3,334.6 L560.5,333.3 L568.7,332.0 L576.8,330.6 L584.9,329.3 L589.5,331.1 L594.3,332.8 L601.1,332.6 L608.0,332.4 L612.9,334.2 L617.8,336.0 L622.8,337.8 L629.4,337.9 L636.0,338.1 L642.6,338.2 L648.8,338.8 L655.0,339.4 L661.2,340.0 L668.0,340.0 L674.8,340.0 L684.1,336.9 L691.0,332.4 L703.2,322.6 L704.6,328.1 L705.9,334.6 L710.9,336.9 L724.2,332.4 L734.2,332.4 L728.2,343.6 L714.6,345.8 L701.3,354.8 L689.1,357.2 L677.1,364.2 L664.9,371.2 L656.6,380.7 L661.2,382.1 L667.2,390.4 L674.2,394.5 L681.2,398.6 L690.7,400.1 L686.9,410.0 L691.1,417.5 L695.0,417.5 L703.0,402.5 L715.7,392.8 L716.9,385.5 L724.0,375.8 L726.7,365.1 L733.9,365.1 L741.0,365.1 L748.5,371.2 L749.1,380.7 L755.0,384.1 L766.9,378.3 L770.5,374.4 L773.6,392.8 L780.1,400.1 L784.4,410.0 L787.3,415.0 L781.6,418.0 L767.6,423.9 L759.6,423.9 L751.7,423.9 L740.4,427.5 L728.1,434.1 L717.6,440.7 L732.7,432.5 L745.9,429.0 L747.7,432.0 L741.9,435.1 L743.0,440.2 L745.0,444.2 L754.2,447.3 L760.8,445.7 L753.6,449.3 L741.8,454.4 L733.7,458.0 L733.9,452.9 L741.4,448.8 L732.8,449.8 L730.0,452.4 L720.8,455.4 L714.5,458.0 L710.8,463.2 L713.0,466.8 L708.3,468.3 L696.6,471.9 L694.0,473.4 L692.4,478.6 L687.2,482.2 L680.2,491.6 L680.1,496.8 L679.8,500.9 L672.4,504.5 L662.4,509.7 L654.2,516.5 L649.2,522.8 L647.8,530.6 L650.3,543.6 L648.9,551.4 L644.6,552.9 L642.3,546.2 L639.7,538.4 L640.8,530.6 L636.0,528.0 L629.0,529.5 L623.2,526.4 L614.3,526.4 L610.9,532.1 L606.4,532.1 L600.2,530.0 L591.4,530.0 L586.3,533.2 L576.1,539.4 L572.2,548.8 L568.9,559.2 L567.2,569.6 L568.2,577.4 L572.6,585.2 L577.6,587.8 L590.4,587.3 L595.2,585.2 L599.3,574.8 L610.5,572.2 L615.7,573.2 L611.3,582.6 L606.4,593.0 L604.6,600.8 L615.8,601.3 L624.4,606.0 L627.8,608.6 L624.8,624.2 L624.9,627.8 L631.3,635.6 L638.1,637.2 L642.8,634.1 L649.6,635.6 L652.6,639.8 L650.1,645.0 L644.7,642.4 L640.0,646.0 L637.8,642.4 L631.0,641.3 L624.2,639.8 L614.5,632.0 L614.1,625.7 L607.6,616.4 L598.7,613.8 L589.8,611.2 L583.9,602.9 L576.5,599.7 L568.0,602.3 L559.3,599.2 L548.9,593.0 L538.1,588.8 L530.4,580.0 L532.6,572.2 L532.0,565.4 L523.9,552.9 L518.9,546.2 L514.2,538.4 L510.0,529.0 L503.5,519.6 L502.8,528.0 L506.9,535.8 L508.7,546.2 L511.7,558.1 L515.3,563.3 L511.5,564.4 L505.3,556.6 L505.9,549.8 L498.9,542.5 L496.5,538.4 L496.1,528.0 L494.9,519.1 L494.6,513.9 L491.3,507.1 L483.3,504.0 L482.0,494.2 L482.5,487.4 L481.1,478.6 L481.3,474.0 L486.8,465.7 L492.6,455.4 L499.1,445.2 L504.0,433.0 L512.2,431.0 L508.0,424.9 L501.1,420.9 L503.8,415.0 L503.8,402.5 L504.5,395.2 L504.9,384.6 L499.2,380.7 L491.8,376.8 L485.0,376.3 L478.1,375.8 L473.1,372.1 L463.4,375.8 L453.6,378.3 L445.4,379.7 L451.5,373.5 L436.3,380.7 L421.0,387.9 L403.7,395.2 L388.0,399.1 L372.9,402.5 L395.3,394.2 L416.9,383.1 L406.9,382.1 L411.0,376.8 L405.8,373.5 L411.8,366.5 L421.7,360.9 L435.9,359.5 L441.6,354.8 L435.2,354.4 L424.7,354.4 L423.9,349.8Z M652.6,639.8 L658.8,634.6 L661.4,629.4 L667.6,625.7 L675.6,622.6 L680.3,619.5 L682.1,626.8 L687.0,622.6 L695.7,628.9 L704.8,628.9 L714.0,628.3 L723.1,628.3 L727.5,632.0 L731.8,639.8 L738.4,647.6 L745.1,652.8 L754.3,653.3 L763.4,655.4 L770.1,662.2 L772.3,671.0 L776.8,678.8 L776.8,684.0 L783.7,689.2 L799.8,690.8 L813.7,698.6 L825.2,699.6 L834.4,707.4 L844.5,711.0 L847.1,723.0 L846.3,730.8 L837.5,741.2 L831.0,751.6 L829.1,762.0 L828.9,776.1 L826.0,788.0 L822.2,798.4 L818.0,803.6 L806.9,805.2 L798.2,808.8 L790.2,819.2 L790.8,832.2 L786.3,842.6 L781.0,850.5 L774.6,859.8 L770.3,865.5 L763.8,865.5 L757.0,863.5 L752.6,863.5 L760.9,872.3 L763.0,875.9 L761.0,882.6 L751.0,885.8 L741.7,885.8 L743.4,894.6 L734.9,897.1 L735.0,904.8 L737.9,907.4 L737.6,917.7 L731.2,925.3 L739.5,931.9 L736.4,940.5 L736.4,950.5 L738.9,954.5 L734.6,955.5 L739.2,958.0 L746.5,965.5 L756.0,967.0 L746.7,970.4 L736.0,967.9 L726.1,963.0 L715.0,955.5 L705.4,943.1 L702.3,932.9 L702.5,922.8 L700.0,912.6 L698.7,902.3 L694.4,892.0 L692.6,877.5 L693.2,868.6 L694.1,855.7 L691.5,840.0 L689.9,827.0 L691.3,814.0 L690.8,803.6 L690.3,793.2 L688.5,780.2 L682.4,774.0 L665.5,763.6 L658.8,754.2 L651.5,741.2 L644.8,728.2 L637.5,717.8 L634.0,712.6 L634.8,706.4 L638.3,701.7 L636.8,694.4 L635.3,689.2 L639.0,681.4 L643.7,676.2 L644.7,671.0 L650.7,665.8 L651.8,660.6 L651.2,650.2 L650.1,645.0 L652.6,639.8Z M926.9,607.5 L930.4,593.0 L933.4,580.0 L929.9,574.8 L934.8,561.8 L941.8,548.8 L948.8,539.9 L962.3,533.2 L963.8,525.4 L965.0,514.9 L971.7,508.7 L978.3,501.9 L981.0,497.8 L997.8,501.4 L1006.5,497.8 L1019.4,492.6 L1032.3,491.6 L1043.0,491.6 L1049.4,490.0 L1054.2,491.6 L1050.9,496.8 L1054.1,500.4 L1049.9,506.1 L1054.4,510.8 L1061.1,513.4 L1073.0,516.0 L1075.4,521.2 L1088.0,526.4 L1094.4,523.3 L1094.0,516.5 L1100.3,512.9 L1107.0,514.4 L1116.1,518.6 L1125.0,520.9 L1134.0,523.3 L1144.7,520.1 L1148.3,521.2 L1156.7,521.2 L1160.7,530.6 L1158.7,538.9 L1156.0,539.4 L1150.3,528.5 L1149.9,528.0 L1152.7,535.8 L1157.9,546.2 L1165.5,559.2 L1172.0,569.6 L1175.1,585.2 L1180.8,590.4 L1186.0,603.4 L1195.6,613.8 L1204.0,619.0 L1203.8,624.2 L1209.9,629.9 L1221.2,626.3 L1230.7,624.2 L1240.2,622.1 L1239.6,629.4 L1237.6,637.2 L1231.2,652.8 L1224.5,663.2 L1215.4,673.6 L1204.1,686.6 L1197.1,694.4 L1190.1,702.2 L1186.8,710.0 L1185.2,720.4 L1187.3,730.8 L1190.7,738.6 L1190.9,756.8 L1188.0,769.8 L1174.0,777.6 L1165.8,788.0 L1166.1,798.4 L1165.5,808.8 L1153.8,816.6 L1152.4,824.4 L1149.8,834.8 L1143.0,842.6 L1138.1,847.9 L1128.7,855.7 L1119.6,859.8 L1108.7,860.9 L1102.0,862.4 L1093.2,865.0 L1086.9,861.9 L1086.3,855.7 L1084.6,847.9 L1079.6,832.8 L1074.1,824.4 L1072.9,814.0 L1071.6,803.6 L1066.9,792.2 L1059.9,777.6 L1060.1,767.2 L1063.5,754.2 L1069.1,743.8 L1066.9,730.8 L1062.9,715.2 L1061.6,710.0 L1057.0,703.2 L1049.2,689.2 L1050.1,678.8 L1051.5,668.4 L1048.7,663.2 L1045.5,660.6 L1038.6,661.1 L1031.7,661.6 L1027.1,651.2 L1018.0,651.2 L1011.1,653.3 L999.6,658.0 L992.7,657.5 L983.6,657.5 L972.1,661.1 L965.2,658.5 L956.1,649.1 L947.0,642.4 L945.6,634.6 L938.0,626.8 L930.3,619.5 L928.7,609.6 L926.9,607.5Z M1231.5,746.4 L1235.6,764.6 L1230.8,775.0 L1226.1,790.6 L1222.5,801.6 L1219.0,812.5 L1208.3,816.6 L1202.4,806.2 L1201.4,795.8 L1207.0,786.5 L1206.0,772.4 L1209.0,768.3 L1220.2,763.6 L1225.2,754.2 L1231.5,746.4Z M967.9,491.6 L968.6,483.8 L966.1,479.6 L969.4,470.9 L969.3,463.2 L967.8,460.6 L973.3,457.0 L983.7,458.0 L998.2,458.5 L1000.3,458.0 L1001.5,452.4 L1001.6,444.2 L997.6,439.1 L988.3,436.1 L987.6,432.5 L994.4,431.0 L1000.5,431.5 L1001.3,427.0 L1006.5,427.5 L1012.5,423.9 L1016.4,419.5 L1020.3,417.5 L1023.4,414.0 L1025.2,410.0 L1031.7,407.5 L1039.4,406.5 L1039.5,400.1 L1037.5,391.3 L1042.2,389.4 L1045.8,387.0 L1045.5,392.8 L1047.6,396.2 L1044.9,401.0 L1049.0,405.0 L1056.6,403.0 L1062.6,405.0 L1070.1,402.5 L1077.6,401.5 L1081.7,403.0 L1087.1,400.1 L1086.8,392.8 L1089.1,387.9 L1095.1,390.4 L1097.5,386.5 L1093.9,383.1 L1095.1,379.2 L1102.3,378.3 L1109.6,377.8 L1116.6,375.8 L1112.6,374.4 L1105.1,373.5 L1098.1,374.9 L1090.9,375.8 L1084.9,372.6 L1084.1,367.9 L1082.0,361.8 L1085.1,357.2 L1092.0,352.5 L1095.0,350.3 L1088.9,348.9 L1082.8,349.8 L1081.2,354.8 L1078.9,358.1 L1074.0,360.9 L1070.2,364.2 L1068.7,368.8 L1069.2,373.0 L1074.4,375.8 L1073.2,380.7 L1068.4,387.9 L1067.2,394.2 L1060.8,398.1 L1055.4,397.6 L1054.3,393.3 L1050.3,387.0 L1047.3,381.2 L1045.2,378.3 L1042.0,380.7 L1036.4,385.0 L1030.8,385.0 L1026.9,381.7 L1024.8,375.8 L1024.7,371.2 L1025.2,366.5 L1029.7,363.7 L1036.6,359.5 L1043.3,354.8 L1049.7,348.0 L1054.0,341.3 L1058.6,336.9 L1063.1,333.7 L1069.4,331.1 L1075.7,329.3 L1083.5,327.6 L1089.6,326.0 L1097.9,326.4 L1107.0,329.3 L1114.1,331.1 L1123.1,333.7 L1134.1,336.9 L1145.7,341.3 L1147.3,345.8 L1139.4,348.0 L1127.0,346.7 L1126.9,352.5 L1135.0,356.2 L1139.1,354.8 L1146.8,354.8 L1147.9,352.5 L1151.6,346.2 L1158.4,348.0 L1156.8,339.1 L1161.5,338.2 L1171.3,339.1 L1174.8,337.8 L1184.3,336.4 L1189.7,337.3 L1194.4,336.4 L1200.4,335.1 L1206.9,334.6 L1206.7,331.1 L1216.2,333.3 L1223.1,333.7 L1227.1,330.2 L1224.9,326.0 L1225.5,319.7 L1227.3,317.6 L1232.6,318.4 L1239.8,321.8 L1241.2,326.0 L1245.4,328.1 L1250.0,336.9 L1254.7,339.1 L1253.9,332.4 L1243.0,323.9 L1246.3,319.7 L1253.4,320.5 L1263.3,320.9 L1262.1,315.5 L1268.8,314.0 L1275.4,312.5 L1275.6,309.1 L1282.7,307.2 L1289.3,306.3 L1295.8,305.3 L1302.3,304.3 L1308.7,303.4 L1311.8,301.1 L1314.8,298.8 L1328.8,302.6 L1335.1,302.8 L1341.4,303.0 L1353.8,306.5 L1363.1,315.5 L1369.4,315.5 L1375.7,315.5 L1384.5,317.6 L1390.9,317.6 L1397.2,317.6 L1402.3,316.5 L1407.3,315.5 L1419.0,319.7 L1433.6,326.0 L1437.3,323.9 L1443.8,323.9 L1450.3,323.9 L1454.2,319.7 L1462.6,318.8 L1474.6,320.5 L1483.4,322.2 L1492.4,323.9 L1503.3,326.8 L1509.2,326.4 L1515.1,326.0 L1523.3,327.0 L1531.5,328.1 L1541.1,332.4 L1549.9,331.5 L1559.8,331.5 L1567.1,329.7 L1579.0,331.1 L1589.0,331.1 L1598.6,333.1 L1608.3,335.1 L1634.8,352.5 L1631.0,354.8 L1640.2,364.2 L1636.1,366.5 L1632.0,368.8 L1630.3,375.8 L1621.1,375.8 L1612.0,375.8 L1607.3,378.3 L1611.8,385.5 L1626.1,394.2 L1629.0,401.0 L1629.1,409.0 L1625.2,411.0 L1626.7,420.0 L1614.5,410.0 L1600.9,397.6 L1595.0,387.9 L1598.7,385.5 L1594.4,373.5 L1585.0,368.8 L1577.8,368.8 L1570.6,368.8 L1575.7,379.7 L1567.6,379.0 L1559.4,378.3 L1552.8,379.0 L1546.1,379.7 L1534.6,379.2 L1531.0,383.1 L1530.9,392.8 L1534.2,402.5 L1551.9,407.5 L1560.1,412.5 L1566.8,424.9 L1572.1,435.1 L1571.4,442.7 L1569.9,449.3 L1567.1,458.0 L1558.3,460.6 L1553.3,462.6 L1550.9,465.7 L1552.3,470.9 L1548.5,476.0 L1547.7,478.6 L1559.0,489.0 L1565.8,499.4 L1559.6,504.0 L1554.6,504.5 L1552.0,496.8 L1549.6,489.0 L1543.3,487.4 L1536.2,478.6 L1522.5,473.4 L1523.0,482.2 L1523.5,478.6 L1516.6,471.9 L1513.0,477.1 L1508.0,480.2 L1508.3,483.8 L1515.3,489.0 L1519.0,490.5 L1522.8,487.4 L1531.7,490.0 L1526.9,493.6 L1523.4,500.4 L1529.1,506.1 L1535.4,514.9 L1542.3,522.8 L1539.7,526.4 L1544.9,529.0 L1544.9,536.8 L1542.4,543.6 L1539.9,550.8 L1536.8,556.6 L1531.1,561.8 L1522.9,565.9 L1516.6,568.5 L1506.0,572.2 L1503.1,575.8 L1500.6,572.2 L1494.7,571.6 L1488.5,574.8 L1487.0,578.9 L1484.7,585.2 L1489.1,593.0 L1497.0,600.8 L1504.1,613.8 L1505.1,624.2 L1500.0,627.8 L1494.4,630.4 L1487.2,639.3 L1485.9,632.5 L1483.8,629.9 L1477.1,626.8 L1474.3,621.6 L1466.6,617.9 L1462.1,613.8 L1459.2,621.6 L1461.3,629.4 L1465.7,639.8 L1467.0,647.6 L1470.8,648.6 L1476.5,652.8 L1481.0,660.6 L1481.7,671.0 L1485.1,676.7 L1481.9,677.2 L1471.6,669.4 L1466.8,660.6 L1465.8,650.2 L1460.0,643.9 L1456.5,639.8 L1457.5,632.0 L1455.8,619.0 L1451.4,606.0 L1449.0,598.2 L1442.2,598.2 L1435.7,600.8 L1433.0,590.4 L1428.6,581.0 L1422.3,574.8 L1418.9,567.5 L1413.4,569.6 L1406.8,570.6 L1403.1,569.6 L1398.0,572.2 L1396.9,580.0 L1390.5,583.6 L1386.7,589.3 L1379.9,597.7 L1374.5,601.8 L1371.5,603.4 L1371.9,613.8 L1370.9,624.2 L1370.0,630.4 L1365.8,637.2 L1361.4,641.9 L1357.1,637.7 L1353.9,629.4 L1350.2,621.6 L1346.9,613.8 L1340.3,600.8 L1336.1,586.2 L1334.7,577.4 L1333.2,572.2 L1332.3,568.0 L1324.1,574.8 L1316.6,568.0 L1320.8,565.4 L1314.5,561.8 L1309.0,560.2 L1304.4,551.9 L1294.7,552.9 L1283.5,552.9 L1272.2,551.9 L1262.1,549.3 L1257.7,543.0 L1251.3,545.1 L1244.5,544.1 L1235.0,538.9 L1228.9,532.1 L1222.6,527.4 L1218.3,528.5 L1221.5,537.3 L1226.6,543.6 L1230.2,547.7 L1236.3,549.8 L1237.4,556.0 L1241.6,558.1 L1250.5,557.6 L1256.5,551.4 L1257.8,547.2 L1259.3,556.6 L1264.2,560.7 L1270.5,565.4 L1275.2,568.0 L1270.3,577.4 L1267.3,585.2 L1260.1,590.9 L1257.2,594.5 L1243.6,600.8 L1229.5,608.6 L1220.6,613.0 L1211.7,617.4 L1204.9,617.9 L1201.3,608.6 L1200.4,600.8 L1195.9,593.0 L1190.8,582.6 L1184.4,574.8 L1181.7,567.0 L1179.0,560.2 L1173.5,551.4 L1167.7,546.2 L1161.7,538.4 L1160.7,530.6 L1156.7,521.2 L1158.6,514.9 L1159.4,509.7 L1161.6,501.9 L1161.4,494.2 L1157.0,493.1 L1152.9,495.2 L1146.6,496.2 L1137.7,494.2 L1131.3,494.2 L1123.7,491.6 L1119.5,483.8 L1119.8,478.6 L1117.4,475.5 L1120.5,473.4 L1128.7,471.4 L1116.1,471.9 L1107.7,472.4 L1103.7,474.5 L1102.2,476.0 L1103.5,481.7 L1109.0,485.4 L1105.1,489.5 L1103.3,494.2 L1099.7,492.6 L1096.8,487.4 L1097.4,484.3 L1094.6,481.2 L1091.3,477.1 L1088.2,470.9 L1088.2,465.7 L1083.8,463.2 L1079.4,460.6 L1072.9,458.0 L1069.4,454.4 L1066.1,449.3 L1062.7,447.3 L1057.1,448.8 L1058.1,452.9 L1062.5,457.5 L1067.2,464.7 L1073.6,466.8 L1080.3,472.4 L1084.8,475.0 L1079.1,473.4 L1076.5,478.1 L1079.2,480.7 L1076.9,483.8 L1074.9,486.4 L1073.5,484.8 L1075.4,480.2 L1073.0,476.0 L1069.9,475.0 L1066.4,471.9 L1061.2,469.3 L1055.9,465.2 L1050.3,461.1 L1048.8,456.0 L1042.9,453.4 L1037.6,456.5 L1033.6,460.1 L1027.3,458.5 L1022.7,458.0 L1019.0,463.2 L1019.9,466.2 L1014.9,469.8 L1009.9,470.9 L1006.5,477.1 L1005.2,479.6 L1007.4,482.8 L1003.5,488.5 L999.2,490.5 L995.8,493.1 L987.2,493.1 L982.4,496.8 L979.4,492.6 L974.3,490.5 L967.9,491.6Z M404.7,335.1 L410.7,337.8 L413.6,342.7 L418.0,346.7 L420.2,348.0 L411.1,350.3 L398.9,355.3 L391.5,352.9 L385.4,351.1 L378.2,352.5Z M983.8,424.9 L992.6,423.4 L1002.5,421.4 L1012.0,419.0 L1013.1,411.5 L1007.7,407.5 L1005.3,402.5 L1000.8,397.6 L997.0,393.8 L999.7,387.9 L995.4,382.6 L987.9,382.6 L983.2,387.9 L985.3,393.8 L982.8,397.1 L988.1,401.0 L994.2,400.5 L994.8,408.5 L989.0,408.0 L990.0,413.5 L986.0,416.5 L994.7,418.0 L983.8,424.9Z M982.9,415.0 L982.4,407.5 L984.6,402.0 L978.9,398.6 L973.8,402.5 L967.8,405.0 L967.3,414.5 L969.1,417.0 L975.0,416.5 L982.9,415.0Z M927.1,357.6 L935.6,359.5 L946.5,357.2 L955.7,353.9 L959.5,351.6 L955.8,347.6 L949.8,345.8 L941.0,347.6 L931.9,350.3 L923.2,350.3 L929.3,354.8Z M1575.6,507.1 L1579.4,499.9 L1589.4,498.3 L1593.2,497.3 L1596.4,492.6 L1600.0,489.5 L1601.8,484.8 L1600.7,478.6 L1597.0,472.9 L1601.1,468.8 L1605.7,476.0 L1610.6,481.2 L1609.1,486.4 L1613.7,496.8 L1613.2,500.9 L1609.3,503.5 L1600.8,504.0 L1599.9,507.1 L1594.5,507.7 L1592.1,504.0 L1584.1,505.6 L1576.0,507.1Z M1571.2,510.3 L1575.6,507.1 L1582.5,512.3 L1582.8,520.7 L1578.8,521.7 L1573.0,513.9Z M1584.2,511.3 L1586.5,506.1 L1591.7,506.1 L1592.3,509.7 L1587.3,513.4Z M1594.4,468.3 L1598.5,466.8 L1606.2,465.7 L1611.4,459.0 L1604.9,455.4 L1589.8,448.3 L1591.3,452.9 L1594.7,459.6 L1590.2,459.0 L1591.5,463.7Z M1587.6,445.2 L1591.8,442.7 L1580.5,430.0 L1586.5,430.0 L1574.3,418.7 L1561.6,407.5 L1556.2,403.5 L1564.2,415.0 L1572.8,424.9 L1579.0,435.1Z M1545.5,564.4 L1549.6,569.6 L1551.2,561.8 L1551.5,554.0 L1547.5,554.0Z M1497.2,584.1 L1502.8,579.4 L1507.8,582.0 L1506.4,587.8 L1502.1,589.3 L1497.7,587.3Z M1551.6,587.8 L1559.3,587.8 L1561.1,595.6 L1558.5,601.8 L1565.7,611.2 L1572.7,616.4 L1569.2,613.8 L1560.6,610.1 L1555.5,609.6 L1551.5,600.8Z M1565.6,647.6 L1572.1,642.9 L1580.6,633.5 L1585.2,639.8 L1585.1,651.2 L1581.2,654.9 L1574.9,650.2Z M1564.2,629.4 L1572.1,619.0 L1580.8,626.8 L1578.2,632.0 L1569.4,636.1Z M1507.1,676.2 L1509.8,673.6 L1516.3,676.2 L1525.3,667.9 L1534.2,658.0 L1542.2,647.6 L1546.2,652.8 L1552.5,657.0 L1548.0,661.6 L1546.4,668.4 L1552.7,678.8 L1547.7,680.4 L1543.9,689.2 L1541.4,697.0 L1538.9,703.8 L1532.1,702.7 L1525.3,700.6 L1519.3,699.6 L1512.4,699.1 L1511.7,691.8 L1507.3,685.6Z M1443.6,654.9 L1453.8,657.0 L1467.1,672.6 L1472.6,674.6 L1483.0,684.0 L1486.5,691.8 L1493.1,699.6 L1491.7,714.2 L1485.7,714.7 L1476.0,704.8 L1470.3,697.0 L1465.9,689.2 L1459.3,675.2 L1452.2,666.8Z M1488.6,719.4 L1492.6,714.7 L1503.0,716.2 L1512.9,719.4 L1522.1,719.9 L1530.9,724.6 L1530.2,729.3 L1519.3,727.2 L1503.5,724.6 L1494.0,722.5Z M1573.6,736.0 L1578.6,730.8 L1589.3,727.7 L1578.4,733.4 L1573.5,737.6Z M1554.9,728.7 L1569.7,726.7 L1568.6,729.3 L1555.7,730.3Z M1541.2,728.2 L1551.4,726.7 L1550.3,729.8 L1542.0,730.8Z M1554.6,712.6 L1558.3,712.6 L1559.7,699.6 L1562.1,697.5 L1568.6,709.0 L1571.8,708.4 L1564.5,693.4 L1573.4,688.7 L1563.7,689.2 L1558.3,681.4 L1562.3,677.2 L1576.2,681.9 L1581.5,676.2 L1578.4,680.4 L1568.1,680.4 L1557.8,680.4 L1557.0,684.0 L1552.0,698.0Z M1608.2,690.2 L1615.3,686.1 L1622.5,688.7 L1622.7,696.0 L1628.5,701.2 L1638.0,691.8 L1649.3,696.5 L1659.6,700.1 L1669.8,703.8 L1676.2,712.6 L1683.3,715.2 L1679.8,724.6 L1684.9,729.3 L1692.3,737.6 L1682.4,736.5 L1675.1,725.6 L1666.1,723.5 L1662.3,731.3 L1651.8,731.3 L1643.0,726.1 L1639.7,727.7 L1636.5,727.7 L1638.7,723.0 L1642.0,721.5 L1639.1,711.6 L1628.3,706.9 L1620.2,702.7 L1612.5,698.6 L1619.5,695.4 L1612.3,691.8Z M1516.8,798.4 L1515.8,810.1 L1514.1,821.8 L1514.0,837.4 L1513.2,847.9 L1507.2,858.8 L1511.1,866.1 L1517.6,866.1 L1528.2,860.9 L1543.6,860.3 L1557.7,852.0 L1572.2,848.4 L1582.1,847.9 L1592.5,854.6 L1594.7,865.0 L1608.7,853.6 L1604.5,860.3 L1606.9,865.0 L1602.7,869.2 L1605.7,877.5 L1608.2,881.6 L1617.5,885.8 L1628.6,887.3 L1638.4,881.1 L1649.0,879.0 L1655.1,869.7 L1665.5,858.3 L1674.3,850.5 L1681.8,840.0 L1686.8,832.2 L1689.6,816.6 L1688.6,813.0 L1683.5,806.2 L1680.7,799.5 L1677.4,790.6 L1667.8,782.8 L1667.6,772.4 L1667.5,762.0 L1660.0,756.8 L1659.8,741.2 L1657.8,739.7 L1652.2,750.6 L1650.2,762.0 L1643.6,775.0 L1636.8,772.4 L1628.9,766.2 L1622.9,762.0 L1630.7,747.5 L1627.2,745.9 L1613.9,743.3 L1607.2,742.3 L1600.8,749.0 L1595.7,761.0 L1588.8,762.0 L1582.6,756.8 L1576.7,759.9 L1570.2,769.3 L1564.7,769.8 L1559.8,777.6 L1553.0,785.4 L1543.6,788.0 L1533.8,791.7 L1526.5,794.8 L1520.2,797.4Z M1616.5,895.6 L1631.4,896.6 L1622.9,907.4 L1616.6,910.5 L1614.8,903.8Z M1757.8,862.4 L1758.9,871.3 L1760.0,875.9 L1758.6,880.0 L1765.3,881.9 L1758.2,888.8 L1753.9,892.4 L1744.0,899.5 L1743.4,897.7 L1749.0,891.5 L1747.9,886.9 L1753.5,881.3 L1756.9,873.7Z M1735.3,897.1 L1738.6,899.3 L1728.1,906.0 L1722.9,909.5 L1713.8,913.6 L1705.9,919.5 L1696.9,923.4 L1686.7,924.5 L1693.7,919.6 L1703.1,914.6 L1716.3,908.7 L1725.1,903.2Z M1372.4,651.8 L1375.7,653.3 L1381.4,647.6 L1378.2,639.8 L1372.9,633.0 L1372.0,642.4Z M792.9,295.7 L803.6,291.9 L813.9,288.4 L822.9,286.4 L831.8,284.4 L837.7,284.0 L843.6,283.6 L849.4,283.2 L856.1,282.9 L862.8,282.5 L869.4,282.2 L876.3,281.5 L883.2,280.8 L890.0,280.1 L895.5,279.8 L901.1,279.6 L906.6,279.3 L912.1,279.1 L917.7,278.9 L922.9,279.2 L928.2,279.5 L933.4,279.8 L938.7,280.1 L945.0,281.6 L951.4,283.2 L944.7,286.9 L951.3,288.4 L958.0,289.9 L949.4,295.7 L951.0,301.5 L943.1,309.1 L938.6,315.5 L935.7,321.8 L928.1,326.8 L934.1,328.9 L923.3,333.3 L914.4,335.7 L905.4,338.2 L894.4,341.3 L881.9,348.9 L872.8,350.3 L863.7,357.2 L856.1,364.2 L849.5,373.5 L843.2,375.8 L839.0,372.1 L831.1,368.8 L828.0,362.8 L826.6,357.2 L826.0,350.3 L823.8,343.6 L828.5,336.9 L836.6,333.7 L834.2,328.1 L828.4,326.8 L829.0,319.7 L828.3,312.5 L826.9,307.2 L818.3,304.5 L811.1,304.9 L804.0,305.3 L798.0,303.4 L792.8,300.7Z M753.1,314.6 L760.9,318.8 L765.4,321.3 L770.0,323.9 L776.8,328.1 L782.3,332.4 L781.9,339.1 L788.0,341.8 L794.3,344.4 L784.3,350.3 L778.4,354.8 L777.2,360.9 L770.8,366.5 L764.3,361.8 L759.0,358.3 L753.9,354.8 L742.8,355.8 L732.8,354.8 L737.4,350.3 L752.4,345.8 L758.6,341.3 L749.8,339.1 L747.3,330.2 L739.9,330.2 L732.4,330.2 L723.3,329.3 L717.8,328.1 L717.3,323.0 L727.5,319.7 L737.5,316.3 L750.0,314.6Z M614.7,332.4 L620.8,334.6 L627.0,336.9 L635.0,336.1 L642.9,335.4 L650.8,334.6 L660.2,333.5 L669.4,332.4 L670.7,326.0 L669.8,317.6 L663.4,317.6 L657.1,317.6 L647.1,318.0 L639.7,318.8 L632.4,319.7 L619.4,323.9 L619.3,328.1Z M601.5,322.6 L618.3,314.2 L625.6,313.4 L632.9,312.5 L635.7,315.5 L616.2,323.9 L605.5,326.0Z M737.6,303.4 L743.2,303.8 L748.8,304.2 L754.5,304.5 L761.9,303.2 L769.3,301.8 L778.2,298.8 L787.0,295.7 L796.9,292.8 L806.7,289.9 L816.1,287.6 L825.3,285.3 L836.5,282.2 L831.4,281.9 L826.3,281.5 L821.2,281.1 L816.1,280.7 L810.7,280.7 L805.3,280.7 L799.8,280.7 L794.4,280.7 L788.9,280.7 L782.1,281.9 L775.2,283.0 L768.3,284.2 L761.2,285.3 L748.8,288.4 L740.6,289.2 L732.4,289.9 L734.8,292.8 L737.3,295.7Z M757.4,311.3 L751.1,311.3 L744.9,311.3 L738.7,311.3 L732.5,311.3 L728.1,309.1 L724.1,307.2 L736.1,303.4 L742.9,304.0 L749.8,304.7 L756.8,305.3 L757.4,311.3Z M725.6,295.7 L732.9,294.4 L740.2,293.1 L747.4,291.9 L745.5,288.7 L743.7,285.9 L730.5,289.3Z M693.1,319.7 L683.5,319.7 L683.0,315.5 L692.7,314.4 L702.4,313.4Z M704.0,321.8 L700.4,315.5 L707.4,314.8 L714.3,314.1 L721.2,313.4 L719.0,317.6Z M647.7,309.1 L656.8,308.2 L665.8,307.2 L674.5,306.5 L683.2,305.7 L683.2,302.2 L674.9,302.2 L666.7,302.2 L653.4,304.2Z M696.5,307.2 L701.9,307.8 L707.4,308.4 L713.4,303.4 L707.3,303.4 L701.3,303.4Z M704.4,358.1 L717.9,356.2 L721.2,359.5 L709.4,364.2 L703.6,353.9 L708.9,348.0 L714.1,348.9Z M766.3,437.1 L780.4,441.7 L790.6,441.7 L793.0,437.1 L791.8,430.0 L783.5,426.4 L787.7,417.5 L780.4,421.4 L768.9,432.5Z M624.7,570.1 L636.2,564.9 L647.6,563.8 L658.0,570.1 L666.3,575.3 L671.8,578.9 L658.1,580.0 L656.4,575.8 L653.3,571.6 L642.4,568.5 L631.3,568.0Z M669.4,588.3 L679.2,580.5 L688.2,581.0 L697.1,587.3 L689.7,589.3 L682.6,591.9 L673.8,589.3Z M652.2,588.3 L661.5,590.4 L658.7,591.4 L652.1,589.3Z M702.5,587.8 L709.7,588.3 L708.6,590.4 L702.3,590.4Z M1038.7,295.7 L1048.1,299.5 L1057.8,303.0 L1062.6,297.6 L1070.9,295.7 L1077.6,293.8 L1084.2,291.9 L1076.4,289.9 L1068.8,288.4 L1061.9,289.2 L1055.0,289.9 L1049.4,290.2 L1043.7,290.4 L1038.0,290.7Z M1174.9,323.9 L1188.4,327.6 L1194.7,327.2 L1181.2,317.6 L1184.0,311.3 L1188.3,308.2 L1192.3,305.3 L1198.4,304.0 L1204.4,302.7 L1210.4,301.5 L1204.8,305.7 L1199.2,308.4 L1193.3,311.3 L1184.6,316.3 L1178.7,321.8Z M1282.2,293.8 L1288.3,292.8 L1294.4,291.9 L1301.3,292.8 L1308.4,293.8 L1298.9,290.9 L1289.7,288.4 L1279.9,287.5Z M1430.3,309.1 L1436.3,308.2 L1442.4,307.2 L1449.5,307.8 L1456.7,308.4 L1454.9,311.3 L1452.9,314.2 L1445.4,313.4 L1438.0,312.5Z M1140.3,289.3 L1145.6,288.9 L1150.9,288.4 L1156.2,287.9 L1161.5,287.5 L1167.9,287.3 L1174.3,287.1 L1180.7,286.9 L1176.7,288.7 L1172.6,290.7 L1166.9,290.7 L1161.2,290.7 L1155.4,290.7 L1149.7,290.7Z M1586.9,325.1 L1589.6,323.9 L1594.1,326.4Z M637.8,303.4 L648.3,301.5 L658.5,299.5 L660.6,302.2 L651.8,304.2 L642.9,306.1Z M699.7,297.6 L707.5,296.1 L715.3,294.5 L714.4,297.6 L703.1,299.5Z M722.6,295.7 L732.8,294.5 L726.2,297.6 L719.4,298.4Z M708.7,310.0 L719.7,308.4 L719.8,305.7 L711.8,307.2Z M674.0,336.9 L685.9,334.6 L685.9,330.6 L677.7,332.4Z M752.4,317.6 L758.7,317.6 L765.1,317.6 L761.0,314.6Z M708.8,365.1 L717.1,363.2 L714.4,361.8Z M676.1,297.6 L687.5,295.7 L686.7,294.2 L675.8,295.7Z M672.3,300.3 L683.9,298.4 L676.1,297.6Z M668.9,307.2 L674.7,307.5 L680.5,307.7 L686.3,308.0 L687.7,304.5 L680.1,304.5 L672.5,304.5Z M1686.7,712.6 L1694.8,710.0 L1701.8,705.8 L1705.5,706.4 L1699.1,712.6 L1689.7,716.2Z M1697.5,697.0 L1704.3,700.6 L1708.6,707.4 L1706.3,709.0 L1701.9,703.8 L1697.5,698.6Z M1717.3,715.2 L1725.7,723.0 L1734.7,725.6 L1743.1,733.4 L1747.0,738.6 L1742.4,739.1 L1736.2,733.4 L1727.6,728.2 L1719.1,720.4Z M1746.6,788.0 L1752.0,793.2 L1756.9,800.0 L1754.4,801.0 L1749.1,795.8 L1745.3,789.6Z M1764.3,759.4 L1767.8,764.6 L1771.2,769.8 L1773.3,780.2 L1770.8,781.3 L1768.3,772.4 L1764.7,764.6Z M1809.8,775.0 L1816.0,774.0 L1814.4,778.7 L1809.5,778.1Z M1543.1,640.3 L1549.7,630.9 L1552.8,625.7 L1551.4,625.2 L1546.2,632.0 L1542.1,638.7Z M1555.5,613.8 L1560.3,615.3 L1559.5,620.0 L1555.6,618.5Z M1592.1,676.2 L1596.9,681.4 L1594.5,688.2 L1592.3,684.0Z M1594.1,699.6 L1605.6,700.6 L1606.9,703.8 L1596.3,702.7Z M1585.0,700.1 L1590.4,701.2 L1589.4,703.8 L1585.3,703.2Z M1530.8,726.1 L1536.2,727.7 L1540.4,727.2 L1539.7,730.3 L1532.9,729.8Z M1550.9,733.4 L1559.0,735.5 L1557.9,737.6 L1551.8,735.0Z M303.2,578.9 L306.7,581.0 L305.1,584.6 L301.7,583.6Z M1281.4,941.6 L1289.5,938.0 L1286.8,942.1Z M300.0,1150.0 L480.0,1095.0 L512.0,1084.0 L526.0,1071.0 L545.0,1066.0 L556.0,1060.0 L601.0,1053.0 L639.0,1055.0 L677.0,1045.0 L715.0,1049.0 L768.0,1049.0 L785.0,1025.0 L802.0,1009.0 L790.0,1015.0 L779.0,1032.0 L798.0,1051.0 L779.0,1066.0 L783.0,1077.0 L829.0,1085.0 L867.0,1074.0 L923.0,1077.0 L942.0,1058.0 L980.0,1043.0 L1018.0,1040.0 L1056.0,1036.0 L1100.0,1032.0 L1150.0,1028.0 L1164.0,1025.0 L1189.0,1020.0 L1201.5,1025.0 L1226.5,1030.0 L1234.0,1037.5 L1226.5,1047.5 L1244.0,1042.5 L1269.0,1030.0 L1289.0,1025.0 L1314.0,1022.5 L1339.0,1022.5 L1364.0,1020.0 L1389.0,1020.0 L1414.0,1025.0 L1439.0,1022.5 L1474.0,1020.0 L1504.0,1027.5 L1510.0,1030.0 L1540.0,1037.5 L1560.0,1045.0 L1540.0,1050.0 L1500.0,1065.0 L1487.5,1072.5 L1457.5,1077.5 L1455.0,1085.0 L1475.0,1090.0 L1500.0,1085.0 L1525.0,1075.0 L1540.0,1070.0 L1600.0,1060.0 L1700.0,1060.0 L1700.0,1150.0Z M1124.3,469.8 L1128.6,470.4 L1137.0,470.4 L1146.8,465.7 L1153.1,465.7 L1160.0,469.3 L1166.5,470.9 L1175.0,470.9 L1180.8,468.3 L1180.5,462.1 L1172.6,458.0 L1163.4,452.9 L1160.7,449.3 L1156.9,448.8 L1150.6,450.3 L1144.8,452.9 L1140.1,448.8 L1143.6,445.2 L1134.9,442.2 L1131.8,443.2 L1128.6,448.8 L1125.2,453.9 L1123.1,460.6 L1122.9,465.7Z M1200.6,452.9 L1206.4,442.7 L1213.9,440.2 L1222.3,441.2 L1224.5,449.3 L1217.1,452.9 L1218.9,460.6 L1227.2,465.7 L1229.7,470.9 L1231.4,478.6 L1237.4,489.0 L1227.8,492.6 L1216.3,488.5 L1215.8,481.2 L1215.8,474.5 L1209.8,466.8 L1204.3,460.6Z" fill="none" stroke="#000" stroke-width="5" stroke-linejoin="round"/>
<path d="M528.0,1089.0 L555.0,1091.0 L590.0,1093.0 L632.0,1095.0" fill="none" stroke="#000" stroke-width="6" stroke-linecap="round"/>
<path d="M560.0,1078.0 L575.0,1080.0 L592.0,1083.0" fill="none" stroke="#000" stroke-width="6" stroke-linecap="round"/>
</g>
<path d="M559.7,266.5 L553.1,268.5 L546.5,270.5 L539.9,272.5 L533.2,274.5 L525.1,277.6 L517.0,280.7 L508.9,283.8 L500.8,286.9 L492.6,289.9 L484.1,293.8 L475.5,297.6 L466.9,301.5 L458.3,305.3 L449.7,309.1 L442.2,313.4 L434.7,317.6 L427.2,321.8 L419.7,326.0 L412.2,330.2 L405.4,334.6 L398.6,339.1 L391.8,343.6 L385.0,348.0 L378.2,352.5 L371.7,357.2 L365.3,361.8 L358.9,366.5 L352.4,371.2 L346.0,375.8 L340.0,380.7 L334.0,385.5 L327.9,390.4 L321.9,395.2 L315.9,400.1 L310.4,405.0 L305.0,410.0 L299.6,415.0 L294.1,420.0 L288.7,424.9 L284.0,430.0 L279.3,435.1 L274.6,440.2 L270.0,445.2 L265.3,450.3 L261.1,455.4 L256.9,460.6 L252.7,465.7 L248.5,470.9 L244.3,476.0 L240.8,481.2 L237.3,486.4 L233.8,491.6 L230.3,496.8 L226.8,501.9 L224.0,507.1 L221.1,512.3 L218.2,517.5 L215.4,522.8 L212.5,528.0 L210.4,533.2 L208.2,538.4 L206.1,543.6 L203.9,548.8 L201.8,554.0 L200.2,559.2 L198.7,564.4 L197.2,569.6 L195.7,574.8 L194.1,580.0 L193.3,583.4 L193.3,784.6 L194.1,788.0 L195.7,793.2 L197.2,798.4 L198.7,803.6 L200.2,808.8 L201.8,814.0 L203.9,819.2 L206.1,824.4 L208.2,829.6 L210.4,834.8 L212.5,840.0 L215.4,845.2 L218.2,850.5 L221.1,855.7 L224.0,860.9 L226.8,866.1 L230.3,871.2 L233.8,876.4 L237.3,881.6 L240.8,886.8 L244.3,892.0 L248.5,897.1 L252.7,902.3 L256.9,907.4 L261.1,912.6 L265.3,917.7 L270.0,922.8 L274.6,927.8 L279.3,932.9 L284.0,938.0 L288.7,943.1 L294.1,948.0 L299.6,953.0 L305.0,958.0 L310.4,963.0 L315.9,967.9 L321.9,972.8 L327.9,977.6 L334.0,982.5 L340.0,987.3 L346.0,992.2 L352.4,996.8 L358.9,1001.5 L365.3,1006.2 L371.7,1010.8 L378.2,1015.5 L385.0,1020.0 L391.8,1024.4 L398.6,1028.9 L405.4,1033.4 L412.2,1037.8 L419.7,1042.0 L427.2,1046.2 L434.7,1050.4 L442.2,1054.6 L449.7,1058.9 L458.3,1062.7 L466.9,1066.5 L475.5,1070.4 L484.1,1074.2 L492.6,1078.1 L500.8,1081.1 L508.9,1084.2 L517.0,1087.3 L525.1,1090.4 L533.2,1093.5 L539.9,1095.5 L546.5,1097.5 L553.1,1099.5 L559.7,1101.5 L566.3,1103.5 L1446.7,1103.5 L1453.3,1101.5 L1459.9,1099.5 L1466.5,1097.5 L1473.1,1095.5 L1479.8,1093.5 L1487.9,1090.4 L1496.0,1087.3 L1504.1,1084.2 L1512.2,1081.1 L1520.4,1078.1 L1528.9,1074.2 L1537.5,1070.4 L1546.1,1066.5 L1554.7,1062.7 L1563.3,1058.9 L1570.8,1054.6 L1578.3,1050.4 L1585.8,1046.2 L1593.3,1042.0 L1600.8,1037.8 L1607.6,1033.4 L1614.4,1028.9 L1621.2,1024.4 L1628.0,1020.0 L1634.8,1015.5 L1641.3,1010.8 L1647.7,1006.2 L1654.1,1001.5 L1660.6,996.8 L1667.0,992.2 L1673.0,987.3 L1679.0,982.5 L1685.1,977.6 L1691.1,972.8 L1697.1,967.9 L1702.6,963.0 L1708.0,958.0 L1713.4,953.0 L1718.9,948.0 L1724.3,943.1 L1729.0,938.0 L1733.7,932.9 L1738.4,927.8 L1743.0,922.8 L1747.7,917.7 L1751.9,912.6 L1756.1,907.4 L1760.3,902.3 L1764.5,897.1 L1768.7,892.0 L1772.2,886.8 L1775.7,881.6 L1779.2,876.4 L1782.7,871.2 L1786.2,866.1 L1789.0,860.9 L1791.9,855.7 L1794.8,850.5 L1797.6,845.2 L1800.5,840.0 L1802.6,834.8 L1804.8,829.6 L1806.9,824.4 L1809.1,819.2 L1811.2,814.0 L1812.8,808.8 L1814.3,803.6 L1815.8,798.4 L1817.3,793.2 L1818.9,788.0 L1820.0,783.4 L1820.0,584.6 L1818.9,580.0 L1817.3,574.8 L1815.8,569.6 L1814.3,564.4 L1812.8,559.2 L1811.2,554.0 L1809.1,548.8 L1806.9,543.6 L1804.8,538.4 L1802.6,533.2 L1800.5,528.0 L1797.6,522.8 L1794.8,517.5 L1791.9,512.3 L1789.0,507.1 L1786.2,501.9 L1782.7,496.8 L1779.2,491.6 L1775.7,486.4 L1772.2,481.2 L1768.7,476.0 L1764.5,470.9 L1760.3,465.7 L1756.1,460.6 L1751.9,455.4 L1747.7,450.3 L1743.0,445.2 L1738.4,440.2 L1733.7,435.1 L1729.0,430.0 L1724.3,424.9 L1718.9,420.0 L1713.4,415.0 L1708.0,410.0 L1702.6,405.0 L1697.1,400.1 L1691.1,395.2 L1685.1,390.4 L1679.0,385.5 L1673.0,380.7 L1667.0,375.8 L1660.6,371.2 L1654.1,366.5 L1647.7,361.8 L1641.3,357.2 L1634.8,352.5 L1628.0,348.0 L1621.2,343.6 L1614.4,339.1 L1607.6,334.6 L1600.8,330.2 L1593.3,326.0 L1585.8,321.8 L1578.3,317.6 L1570.8,313.4 L1563.3,309.1 L1554.7,305.3 L1546.1,301.5 L1537.5,297.6 L1528.9,293.8 L1520.4,289.9 L1512.2,286.9 L1504.1,283.8 L1496.0,280.7 L1487.9,277.6 L1479.8,274.5 L1473.1,272.5 L1466.5,270.5 L1459.9,268.5 L1453.3,266.5 L1446.7,264.5 L566.3,264.5 L559.7,266.5Z" fill="none" stroke="#111" stroke-width="2.6"/>
<rect x="1901" y="319.5" width="26" height="89.5" fill="#ad2b30"/>
<rect x="1901" y="408.5" width="26" height="89.5" fill="#ff6a28"/>
<rect x="1901" y="497.5" width="26" height="89.5" fill="#ffe600"/>
<rect x="1901" y="586.5" width="26" height="89.5" fill="#3ff582"/>
<rect x="1901" y="675.5" width="26" height="89.5" fill="#00dcfc"/>
<rect x="1901" y="764.5" width="26" height="89.5" fill="#1b46fc"/>
<rect x="1901" y="853.5" width="26" height="89.5" fill="#33309a"/>
<rect x="1901" y="319.5" width="26" height="623.0" fill="none" stroke="#333" stroke-width="2.5"/>
<line x1="1927" y1="364.0" x2="1958" y2="364.0" stroke="#505050" stroke-width="3"/>
<line x1="1927" y1="453.0" x2="1958" y2="453.0" stroke="#505050" stroke-width="3"/>
<line x1="1927" y1="542.0" x2="1958" y2="542.0" stroke="#505050" stroke-width="3"/>
<line x1="1927" y1="631.0" x2="1958" y2="631.0" stroke="#505050" stroke-width="3"/>
<line x1="1927" y1="720.0" x2="1958" y2="720.0" stroke="#505050" stroke-width="3"/>
<line x1="1927" y1="809.0" x2="1958" y2="809.0" stroke="#505050" stroke-width="3"/>
<line x1="1927" y1="898.0" x2="1958" y2="898.0" stroke="#505050" stroke-width="3"/>
<line x1="394.3" y1="1290" x2="394.3" y2="2086" stroke="#464646" stroke-width="3"/>
<line x1="411" y1="2102.8" x2="2166.6" y2="2102.8" stroke="#464646" stroke-width="3"/>
<line x1="361" y1="2047.5" x2="394" y2="2047.5" stroke="#464646" stroke-width="3"/>
<line x1="361" y1="1913.5" x2="394" y2="1913.5" stroke="#464646" stroke-width="3"/>
<line x1="361" y1="1779.5" x2="394" y2="1779.5" stroke="#464646" stroke-width="3"/>
<line x1="361" y1="1645.5" x2="394" y2="1645.5" stroke="#464646" stroke-width="3"/>
<line x1="361" y1="1511.5" x2="394" y2="1511.5" stroke="#464646" stroke-width="3"/>
<line x1="361" y1="1377.5" x2="394" y2="1377.5" stroke="#464646" stroke-width="3"/>
<line x1="490.8" y1="2103" x2="490.8" y2="2134.5" stroke="#464646" stroke-width="3"/>
<line x1="719.9" y1="2103" x2="719.9" y2="2134.5" stroke="#464646" stroke-width="3"/>
<line x1="949.0" y1="2103" x2="949.0" y2="2134.5" stroke="#464646" stroke-width="3"/>
<line x1="1178.1" y1="2103" x2="1178.1" y2="2134.5" stroke="#464646" stroke-width="3"/>
<line x1="1407.2" y1="2103" x2="1407.2" y2="2134.5" stroke="#464646" stroke-width="3"/>
<line x1="1636.3" y1="2103" x2="1636.3" y2="2134.5" stroke="#464646" stroke-width="3"/>
<line x1="1865.4" y1="2103" x2="1865.4" y2="2134.5" stroke="#464646" stroke-width="3"/>
<line x1="2094.5" y1="2103" x2="2094.5" y2="2134.5" stroke="#464646" stroke-width="3"/>
<line x1="692" y1="1297" x2="692" y2="2086" stroke="#111" stroke-width="4.2" stroke-dasharray="15 9"/>
<polyline points="490.8,1322.3 500.0,1575.8 509.1,1704.5 518.3,1815.4 527.5,1849.2 536.6,1878.7 545.8,1889.4 554.9,1913.5 564.1,1934.9 573.3,1944.3 582.4,1951.0 591.6,1957.7 600.8,1964.4 609.9,1972.5 619.1,1979.2 628.3,1983.2 637.4,1991.2 646.6,1993.9 655.8,1996.0 664.9,1999.3 674.1,2001.8 683.2,2003.2 692.4,2004.9 701.6,2006.9 710.7,2008.4 719.9,2009.0 729.1,2012.8 738.2,2014.5 747.4,2015.2 756.6,2016.7 765.7,2018.2 774.9,2019.7 784.0,2021.2 793.2,2022.3 802.4,2023.4 811.5,2024.5 820.7,2025.6 829.9,2026.7 839.0,2027.8 848.2,2028.3 857.4,2028.8 866.5,2029.4 875.7,2029.9 884.9,2030.4 894.0,2030.9 903.2,2031.4 912.3,2031.7 921.5,2032.0 930.7,2032.3 939.8,2032.6 949.0,2032.9 958.2,2033.2 967.3,2033.5 976.5,2033.8 985.7,2034.1 994.8,2034.4 1004.0,2034.6 1013.1,2034.9 1022.3,2035.2 1031.5,2035.5 1040.6,2035.8 1049.8,2036.0 1059.0,2036.3 1068.1,2036.6 1077.3,2036.8 1086.5,2037.0 1095.6,2037.2 1104.8,2037.5 1114.0,2037.7 1123.1,2037.9 1132.3,2038.1 1141.4,2038.3 1150.6,2038.5 1159.8,2038.8 1168.9,2039.0 1178.1,2039.2 1187.3,2039.4 1196.4,2039.5 1205.6,2039.7 1214.8,2039.9 1223.9,2040.0 1233.1,2040.2 1242.2,2040.4 1251.4,2040.6 1260.6,2040.7 1269.7,2040.9 1278.9,2041.1 1288.1,2041.2 1297.2,2041.3 1306.4,2041.5 1315.6,2041.6 1324.7,2041.7 1333.9,2041.9 1343.1,2042.0 1352.2,2042.1 1361.4,2042.3 1370.5,2042.4 1379.7,2042.5 1388.9,2042.7 1398.0,2042.8 1407.2,2042.9 1416.4,2043.1 1425.5,2043.2 1434.7,2043.3 1443.9,2043.4 1453.0,2043.5 1462.2,2043.6 1471.3,2043.7 1480.5,2043.8 1489.7,2043.9 1498.8,2044.0 1508.0,2044.1 1517.2,2044.2 1526.3,2044.3 1535.5,2044.4 1544.7,2044.6 1553.8,2044.6 1563.0,2044.7 1572.2,2044.8 1581.3,2044.9 1590.5,2045.0 1599.6,2045.0 1608.8,2045.1 1618.0,2045.2 1627.1,2045.3 1636.3,2045.4 1645.5,2045.4 1654.6,2045.5 1663.8,2045.6 1673.0,2045.7 1682.1,2045.8 1691.3,2045.8 1700.4,2045.9 1709.6,2045.9 1718.8,2046.0 1727.9,2046.0 1737.1,2046.1 1746.3,2046.1 1755.4,2046.2 1764.6,2046.2 1773.8,2046.3 1782.9,2046.3 1792.1,2046.4 1801.3,2046.4 1810.4,2046.5 1819.6,2046.5 1828.7,2046.6 1837.9,2046.6 1847.1,2046.7 1856.2,2046.8 1865.4,2046.8 1874.6,2046.8 1883.7,2046.9 1892.9,2046.9 1902.1,2046.9 1911.2,2046.9 1920.4,2047.0 1929.5,2047.0 1938.7,2047.0 1947.9,2047.1 1957.0,2047.1 1966.2,2047.1 1975.4,2047.2 1984.5,2047.2 1993.7,2047.2 2002.9,2047.2 2012.0,2047.3 2021.2,2047.3 2030.4,2047.3 2039.5,2047.4 2048.7,2047.4 2057.8,2047.4 2067.0,2047.4 2076.2,2047.5 2085.3,2047.5" fill="none" stroke="#0077bf" stroke-width="8" stroke-linejoin="round"/>
<polyline points="490.8,1986.1 500.0,1987.6 509.1,1989.0 518.3,1990.4 527.5,1991.8 536.6,1993.3 545.8,1994.7 554.9,1995.6 564.1,1996.5 573.3,1997.4 582.4,1998.3 591.6,1999.2 600.8,2000.1 609.9,2001.0 619.1,2001.5 628.3,2002.0 637.4,2002.5 646.6,2003.1 655.8,2003.6 664.9,2004.1 674.1,2004.6 683.2,2005.1 692.4,2005.7 701.6,2006.2 710.7,2006.6 719.9,2007.1 729.1,2007.6 738.2,2008.0 747.4,2008.5 756.6,2008.9 765.7,2009.4 774.9,2009.8 784.0,2010.3 793.2,2010.7 802.4,2011.1 811.5,2011.6 820.7,2012.0 829.9,2012.4 839.0,2012.9 848.2,2013.3 857.4,2013.7 866.5,2014.0 875.7,2014.2 884.9,2014.5 894.0,2014.7 903.2,2014.9 912.3,2015.2 921.5,2015.4 930.7,2015.7 939.8,2015.9 949.0,2016.2 958.2,2016.4 967.3,2016.6 976.5,2016.9 985.7,2017.1 994.8,2017.4 1004.0,2017.6 1013.1,2017.8 1022.3,2018.0 1031.5,2018.2 1040.6,2018.4 1049.8,2018.6 1059.0,2018.8 1068.1,2019.0 1077.3,2019.2 1086.5,2019.4 1095.6,2019.6 1104.8,2019.8 1114.0,2020.0 1123.1,2020.2 1132.3,2020.4 1141.4,2020.6 1150.6,2020.8 1159.8,2020.9 1168.9,2021.1 1178.1,2021.2 1187.3,2021.4 1196.4,2021.5 1205.6,2021.7 1214.8,2021.9 1223.9,2022.0 1233.1,2022.2 1242.2,2022.3 1251.4,2022.5 1260.6,2022.7 1269.7,2022.8 1278.9,2023.0 1288.1,2023.1 1297.2,2023.3 1306.4,2023.4 1315.6,2023.5 1324.7,2023.7 1333.9,2023.8 1343.1,2024.0 1352.2,2024.1 1361.4,2024.2 1370.5,2024.4 1379.7,2024.5 1388.9,2024.7 1398.0,2024.8 1407.2,2024.9 1416.4,2025.1 1425.5,2025.2 1434.7,2025.4 1443.9,2025.5 1453.0,2025.6 1462.2,2025.8 1471.3,2025.9 1480.5,2026.0 1489.7,2026.2 1498.8,2026.3 1508.0,2026.4 1517.2,2026.6 1526.3,2026.7 1535.5,2026.8 1544.7,2026.9 1553.8,2027.1 1563.0,2027.2 1572.2,2027.3 1581.3,2027.4 1590.5,2027.5 1599.6,2027.7 1608.8,2027.8 1618.0,2027.9 1627.1,2028.0 1636.3,2028.1 1645.5,2028.3 1654.6,2028.4 1663.8,2028.5 1673.0,2028.6 1682.1,2028.7 1691.3,2028.8 1700.4,2028.9 1709.6,2029.0 1718.8,2029.1 1727.9,2029.2 1737.1,2029.3 1746.3,2029.4 1755.4,2029.5 1764.6,2029.6 1773.8,2029.7 1782.9,2029.8 1792.1,2029.9 1801.3,2030.0 1810.4,2030.1 1819.6,2030.1 1828.7,2030.2 1837.9,2030.3 1847.1,2030.4 1856.2,2030.5 1865.4,2030.6 1874.6,2030.7 1883.7,2030.8 1892.9,2030.8 1902.1,2030.9 1911.2,2031.0 1920.4,2031.0 1929.5,2031.1 1938.7,2031.2 1947.9,2031.2 1957.0,2031.3 1966.2,2031.4 1975.4,2031.5 1984.5,2031.5 1993.7,2031.6 2002.9,2031.7 2012.0,2031.7 2021.2,2031.8 2030.4,2031.9 2039.5,2031.9 2048.7,2032.0 2057.8,2032.1 2067.0,2032.2 2076.2,2032.2 2085.3,2047.5" fill="none" stroke="#ff7f0e" stroke-width="8" stroke-linejoin="round"/>
<rect x="1027" y="1300" width="1060" height="505" fill="#fff"/>
<defs><clipPath id="inclip"><rect x="1025.3" y="1300" width="1050.3" height="505.6"/></clipPath></defs>
<g clip-path="url(#inclip)">
<path d="M1025.3,1550.8 L1130.3,1565.3 L1235.2,1575.9 L1340.2,1587.2 L1445.1,1598.3 L1550.1,1610.2 L1655.1,1620.2 L1760.0,1630.1 L1865.0,1640.0 L1969.9,1649.9 L2074.9,1659.9 L2074.9,1687.3 L1969.9,1677.7 L1865.0,1668.2 L1760.0,1658.6 L1655.1,1649.1 L1550.1,1639.4 L1445.1,1627.9 L1340.2,1617.1 L1235.2,1606.2 L1130.3,1595.9 L1025.3,1581.8Z" fill="#ff7f0e" fill-opacity="0.42" stroke="none"/>
<polyline points="1025.3,1550.8 1130.3,1565.3 1235.2,1575.9 1340.2,1587.2 1445.1,1598.3 1550.1,1610.2 1655.1,1620.2 1760.0,1630.1 1865.0,1640.0 1969.9,1649.9 2074.9,1659.9" fill="none" stroke="#ff7f0e" stroke-opacity="0.7" stroke-width="5"/>
<polyline points="1025.3,1581.8 1130.3,1595.9 1235.2,1606.2 1340.2,1617.1 1445.1,1627.9 1550.1,1639.4 1655.1,1649.1 1760.0,1658.6 1865.0,1668.2 1969.9,1677.7 2074.9,1687.3" fill="none" stroke="#ff7f0e" stroke-opacity="0.7" stroke-width="5"/>
<polyline points="1025.3,1504.6 1130.3,1535.1 1235.2,1572.8 1340.2,1618.4 1445.1,1650.8 1550.1,1663.8 1655.1,1748.3 1760.0,1787.4 1865.0,1805.6 1969.9,1835.4" fill="none" stroke="#0077bf" stroke-width="10" stroke-linejoin="round"/>
<circle cx="1025.3" cy="1504.6" r="17.5" fill="#0077bf"/>
<circle cx="1130.3" cy="1535.1" r="17.5" fill="#0077bf"/>
<circle cx="1235.2" cy="1572.8" r="17.5" fill="#0077bf"/>
<circle cx="1340.2" cy="1618.4" r="17.5" fill="#0077bf"/>
<circle cx="1445.1" cy="1650.8" r="17.5" fill="#0077bf"/>
<circle cx="1550.1" cy="1663.8" r="17.5" fill="#0077bf"/>
<circle cx="1655.1" cy="1748.3" r="17.5" fill="#0077bf"/>
<circle cx="1760.0" cy="1787.4" r="17.5" fill="#0077bf"/>
<circle cx="1865.0" cy="1805.6" r="17.5" fill="#0077bf"/>
<circle cx="1025.3" cy="1566.3" r="17.5" fill="#ff7f0e"/>
<circle cx="1130.3" cy="1580.6" r="17.5" fill="#ff7f0e"/>
<circle cx="1235.2" cy="1591.0" r="17.5" fill="#ff7f0e"/>
<circle cx="1340.2" cy="1602.1" r="17.5" fill="#ff7f0e"/>
<circle cx="1445.1" cy="1613.1" r="17.5" fill="#ff7f0e"/>
<circle cx="1550.1" cy="1624.8" r="17.5" fill="#ff7f0e"/>
<circle cx="1655.1" cy="1634.6" r="17.5" fill="#ff7f0e"/>
<circle cx="1760.0" cy="1644.3" r="17.5" fill="#ff7f0e"/>
<circle cx="1865.0" cy="1654.1" r="17.5" fill="#ff7f0e"/>
<circle cx="1969.9" cy="1663.8" r="17.5" fill="#ff7f0e"/>
<circle cx="2074.9" cy="1673.6" r="17.5" fill="#ff7f0e"/>
</g>
<line x1="1235" y1="1328" x2="1235" y2="1806" stroke="#111" stroke-width="3.8" stroke-dasharray="14.5 9"/>
<line x1="1025.3" y1="1327.5" x2="1025.3" y2="1806" stroke="#464646" stroke-width="3"/>
<line x1="993" y1="1806.2" x2="2075.6" y2="1806.2" stroke="#464646" stroke-width="3"/>
<line x1="993" y1="1805.6" x2="1025" y2="1805.6" stroke="#464646" stroke-width="3"/>
<line x1="993" y1="1686.3" x2="1025" y2="1686.3" stroke="#464646" stroke-width="3"/>
<line x1="993" y1="1567.0" x2="1025" y2="1567.0" stroke="#464646" stroke-width="3"/>
<line x1="993" y1="1447.7" x2="1025" y2="1447.7" stroke="#464646" stroke-width="3"/>
<line x1="993" y1="1328.4" x2="1025" y2="1328.4" stroke="#464646" stroke-width="3"/>
<line x1="1025.3" y1="1806" x2="1025.3" y2="1837.5" stroke="#464646" stroke-width="3"/>
<line x1="1235.2" y1="1806" x2="1235.2" y2="1837.5" stroke="#464646" stroke-width="3"/>
<line x1="1445.1" y1="1806" x2="1445.1" y2="1837.5" stroke="#464646" stroke-width="3"/>
<line x1="1655.1" y1="1806" x2="1655.1" y2="1837.5" stroke="#464646" stroke-width="3"/>
<line x1="1865.0" y1="1806" x2="1865.0" y2="1837.5" stroke="#464646" stroke-width="3"/>
<line x1="2074.9" y1="1806" x2="2074.9" y2="1837.5" stroke="#464646" stroke-width="3"/>
<line x1="1255.5" y1="1399" x2="1377.6" y2="1399" stroke="#0077bf" stroke-width="12.5"/>
<circle cx="1316.3" cy="1399" r="17.7" fill="#0077bf"/>
<circle cx="1316.3" cy="1516.2" r="18" fill="#ff7f0e"/>
<text x="410.94" y="85.30" font-size="73.56" textLength="1090.67" lengthAdjust="spacingAndGlyphs" fill="#000">a. ARp order for surrogate models</text>
<text x="413.41" y="1234.70" font-size="74.52" textLength="1392.70" lengthAdjust="spacingAndGlyphs" fill="#000">b. GRACE PCA decomposition vs surrogates</text>
<text x="502.85" y="199.30" font-size="60.03" textLength="101.91" lengthAdjust="spacingAndGlyphs" fill="#4a4a4a" stroke="#fff" stroke-width="1.5">180°</text>
<text x="636.60" y="199.30" font-size="60.03" textLength="150.27" lengthAdjust="spacingAndGlyphs" fill="#4a4a4a" stroke="#fff" stroke-width="1.5">120°W</text>
<text x="795.04" y="199.30" font-size="59.15" textLength="128.43" lengthAdjust="spacingAndGlyphs" fill="#4a4a4a" stroke="#fff" stroke-width="1.5">60°W</text>
<text x="979.65" y="199.30" font-size="59.15" textLength="52.66" lengthAdjust="spacingAndGlyphs" fill="#4a4a4a" stroke="#fff" stroke-width="1.5">0°</text>
<text x="1098.39" y="199.30" font-size="59.15" textLength="107.63" lengthAdjust="spacingAndGlyphs" fill="#4a4a4a" stroke="#fff" stroke-width="1.5">60°E</text>
<text x="1233.68" y="199.30" font-size="60.03" textLength="129.86" lengthAdjust="spacingAndGlyphs" fill="#4a4a4a" stroke="#fff" stroke-width="1.5">120°E</text>
<text x="1406.18" y="199.30" font-size="60.03" textLength="103.84" lengthAdjust="spacingAndGlyphs" fill="#4a4a4a" stroke="#fff" stroke-width="1.5">180°</text>
<text x="169.75" y="390.40" font-size="56.43" textLength="121.07" lengthAdjust="spacingAndGlyphs" fill="#4a4a4a" stroke="#fff" stroke-width="1.5">60°N</text>
<text x="40.41" y="542.40" font-size="56.43" textLength="116.54" lengthAdjust="spacingAndGlyphs" fill="#4a4a4a" stroke="#fff" stroke-width="1.5">30°N</text>
<text x="86.16" y="699.60" font-size="58.86" textLength="52.44" lengthAdjust="spacingAndGlyphs" fill="#4a4a4a" stroke="#fff" stroke-width="1.5">0°</text>
<text x="49.03" y="855.50" font-size="60.58" textLength="106.92" lengthAdjust="spacingAndGlyphs" fill="#4a4a4a" stroke="#fff" stroke-width="1.5">30°S</text>
<text x="181.99" y="1007.50" font-size="58.58" textLength="107.78" lengthAdjust="spacingAndGlyphs" fill="#4a4a4a" stroke="#fff" stroke-width="1.5">60°S</text>
<text x="1990.54" y="383.00" font-size="54.42" textLength="26.99" lengthAdjust="spacingAndGlyphs" fill="#4a4a4a" stroke="#fff" stroke-width="1.5">6</text>
<text x="1990.75" y="472.00" font-size="54.42" textLength="26.99" lengthAdjust="spacingAndGlyphs" fill="#4a4a4a" stroke="#fff" stroke-width="1.5">5</text>
<text x="1990.86" y="561.00" font-size="54.42" textLength="26.99" lengthAdjust="spacingAndGlyphs" fill="#4a4a4a" stroke="#fff" stroke-width="1.5">4</text>
<text x="1990.85" y="650.00" font-size="54.42" textLength="26.99" lengthAdjust="spacingAndGlyphs" fill="#4a4a4a" stroke="#fff" stroke-width="1.5">3</text>
<text x="1990.70" y="739.00" font-size="54.42" textLength="26.99" lengthAdjust="spacingAndGlyphs" fill="#4a4a4a" stroke="#fff" stroke-width="1.5">2</text>
<text x="1990.04" y="828.00" font-size="54.42" textLength="26.99" lengthAdjust="spacingAndGlyphs" fill="#4a4a4a" stroke="#fff" stroke-width="1.5">1</text>
<text x="1990.70" y="917.00" font-size="54.42" textLength="26.99" lengthAdjust="spacingAndGlyphs" fill="#4a4a4a" stroke="#fff" stroke-width="1.5">0</text>
<text x="-774.07" y="0.00" font-size="60.32" textLength="287.19" lengthAdjust="spacingAndGlyphs" fill="#333333" stroke="#fff" stroke-width="1.2" font-style="italic" transform="translate(2107,0) rotate(-90)">AR order p</text>
<text x="302.67" y="2067.00" font-size="55.71" textLength="28.00" lengthAdjust="spacingAndGlyphs" fill="#4a4a4a" stroke="#fff" stroke-width="1.5">0</text>
<text x="176.67" y="1933.00" font-size="55.71" textLength="154.00" lengthAdjust="spacingAndGlyphs" fill="#4a4a4a" stroke="#fff" stroke-width="1.5">50,000</text>
<text x="148.67" y="1799.00" font-size="55.71" textLength="182.00" lengthAdjust="spacingAndGlyphs" fill="#4a4a4a" stroke="#fff" stroke-width="1.5">100,000</text>
<text x="148.67" y="1665.00" font-size="55.71" textLength="182.00" lengthAdjust="spacingAndGlyphs" fill="#4a4a4a" stroke="#fff" stroke-width="1.5">150,000</text>
<text x="148.67" y="1531.00" font-size="55.71" textLength="182.00" lengthAdjust="spacingAndGlyphs" fill="#4a4a4a" stroke="#fff" stroke-width="1.5">200,000</text>
<text x="148.67" y="1397.00" font-size="55.71" textLength="182.00" lengthAdjust="spacingAndGlyphs" fill="#4a4a4a" stroke="#fff" stroke-width="1.5">250,000</text>
<text x="476.64" y="2208.40" font-size="58.87" textLength="28.32" lengthAdjust="spacingAndGlyphs" fill="#4a4a4a" stroke="#fff" stroke-width="1.5">0</text>
<text x="691.36" y="2208.40" font-size="58.87" textLength="56.65" lengthAdjust="spacingAndGlyphs" fill="#4a4a4a" stroke="#fff" stroke-width="1.5">25</text>
<text x="920.65" y="2208.40" font-size="58.87" textLength="56.65" lengthAdjust="spacingAndGlyphs" fill="#4a4a4a" stroke="#fff" stroke-width="1.5">50</text>
<text x="1149.54" y="2208.40" font-size="58.87" textLength="56.65" lengthAdjust="spacingAndGlyphs" fill="#4a4a4a" stroke="#fff" stroke-width="1.5">75</text>
<text x="1363.77" y="2208.40" font-size="58.87" textLength="84.97" lengthAdjust="spacingAndGlyphs" fill="#4a4a4a" stroke="#fff" stroke-width="1.5">100</text>
<text x="1592.94" y="2208.40" font-size="58.87" textLength="84.97" lengthAdjust="spacingAndGlyphs" fill="#4a4a4a" stroke="#fff" stroke-width="1.5">125</text>
<text x="1821.97" y="2208.40" font-size="58.87" textLength="84.97" lengthAdjust="spacingAndGlyphs" fill="#4a4a4a" stroke="#fff" stroke-width="1.5">150</text>
<text x="2051.14" y="2208.40" font-size="58.87" textLength="84.97" lengthAdjust="spacingAndGlyphs" fill="#4a4a4a" stroke="#fff" stroke-width="1.5">175</text>
<text x="1017.96" y="2309.70" font-size="71.66" textLength="537.95" lengthAdjust="spacingAndGlyphs" fill="#333333" stroke="#fff" stroke-width="2.0">Eigenvalues index</text>
<text x="-2027.46" y="0.00" font-size="75.58" textLength="691.82" lengthAdjust="spacingAndGlyphs" fill="#333333" stroke="#fff" stroke-width="2.0" transform="translate(96.9,0) rotate(-90)">Eigenvalues magnitude</text>
<text x="808.68" y="1825.10" font-size="55.85" textLength="152.97" lengthAdjust="spacingAndGlyphs" fill="#4a4a4a" stroke="#fff" stroke-width="1.5">12,000</text>
<text x="808.68" y="1705.80" font-size="55.85" textLength="152.97" lengthAdjust="spacingAndGlyphs" fill="#4a4a4a" stroke="#fff" stroke-width="1.5">14,000</text>
<text x="808.68" y="1586.50" font-size="55.85" textLength="152.97" lengthAdjust="spacingAndGlyphs" fill="#4a4a4a" stroke="#fff" stroke-width="1.5">16,000</text>
<text x="808.68" y="1467.20" font-size="55.85" textLength="152.97" lengthAdjust="spacingAndGlyphs" fill="#4a4a4a" stroke="#fff" stroke-width="1.5">18,000</text>
<text x="808.68" y="1347.90" font-size="55.85" textLength="152.97" lengthAdjust="spacingAndGlyphs" fill="#4a4a4a" stroke="#fff" stroke-width="1.5">20,000</text>
<text x="995.86" y="1911.80" font-size="59.01" textLength="58.28" lengthAdjust="spacingAndGlyphs" fill="#4a4a4a" stroke="#fff" stroke-width="1.5">20</text>
<text x="1206.08" y="1911.80" font-size="59.01" textLength="58.28" lengthAdjust="spacingAndGlyphs" fill="#4a4a4a" stroke="#fff" stroke-width="1.5">22</text>
<text x="1415.45" y="1911.80" font-size="59.01" textLength="58.28" lengthAdjust="spacingAndGlyphs" fill="#4a4a4a" stroke="#fff" stroke-width="1.5">24</text>
<text x="1625.75" y="1911.80" font-size="59.01" textLength="58.28" lengthAdjust="spacingAndGlyphs" fill="#4a4a4a" stroke="#fff" stroke-width="1.5">26</text>
<text x="1835.66" y="1911.80" font-size="59.01" textLength="58.28" lengthAdjust="spacingAndGlyphs" fill="#4a4a4a" stroke="#fff" stroke-width="1.5">28</text>
<text x="2045.78" y="1911.80" font-size="59.01" textLength="58.28" lengthAdjust="spacingAndGlyphs" fill="#4a4a4a" stroke="#fff" stroke-width="1.5">30</text>
<text x="1415.12" y="1418.60" font-size="51.75" textLength="281.32" lengthAdjust="spacingAndGlyphs" fill="#404040" stroke="#fff" stroke-width="1.4">GRACE(-FO)</text>
<text x="1415.24" y="1498.40" font-size="52.91" textLength="243.56" lengthAdjust="spacingAndGlyphs" fill="#404040" stroke="#fff" stroke-width="1.4">Surrogates</text>
<text x="1414.36" y="1560.60" font-size="53.27" textLength="614.19" lengthAdjust="spacingAndGlyphs" fill="#404040" stroke="#fff" stroke-width="1.4">(median +/− 1%–99% env.)</text>
</svg></body></html>
